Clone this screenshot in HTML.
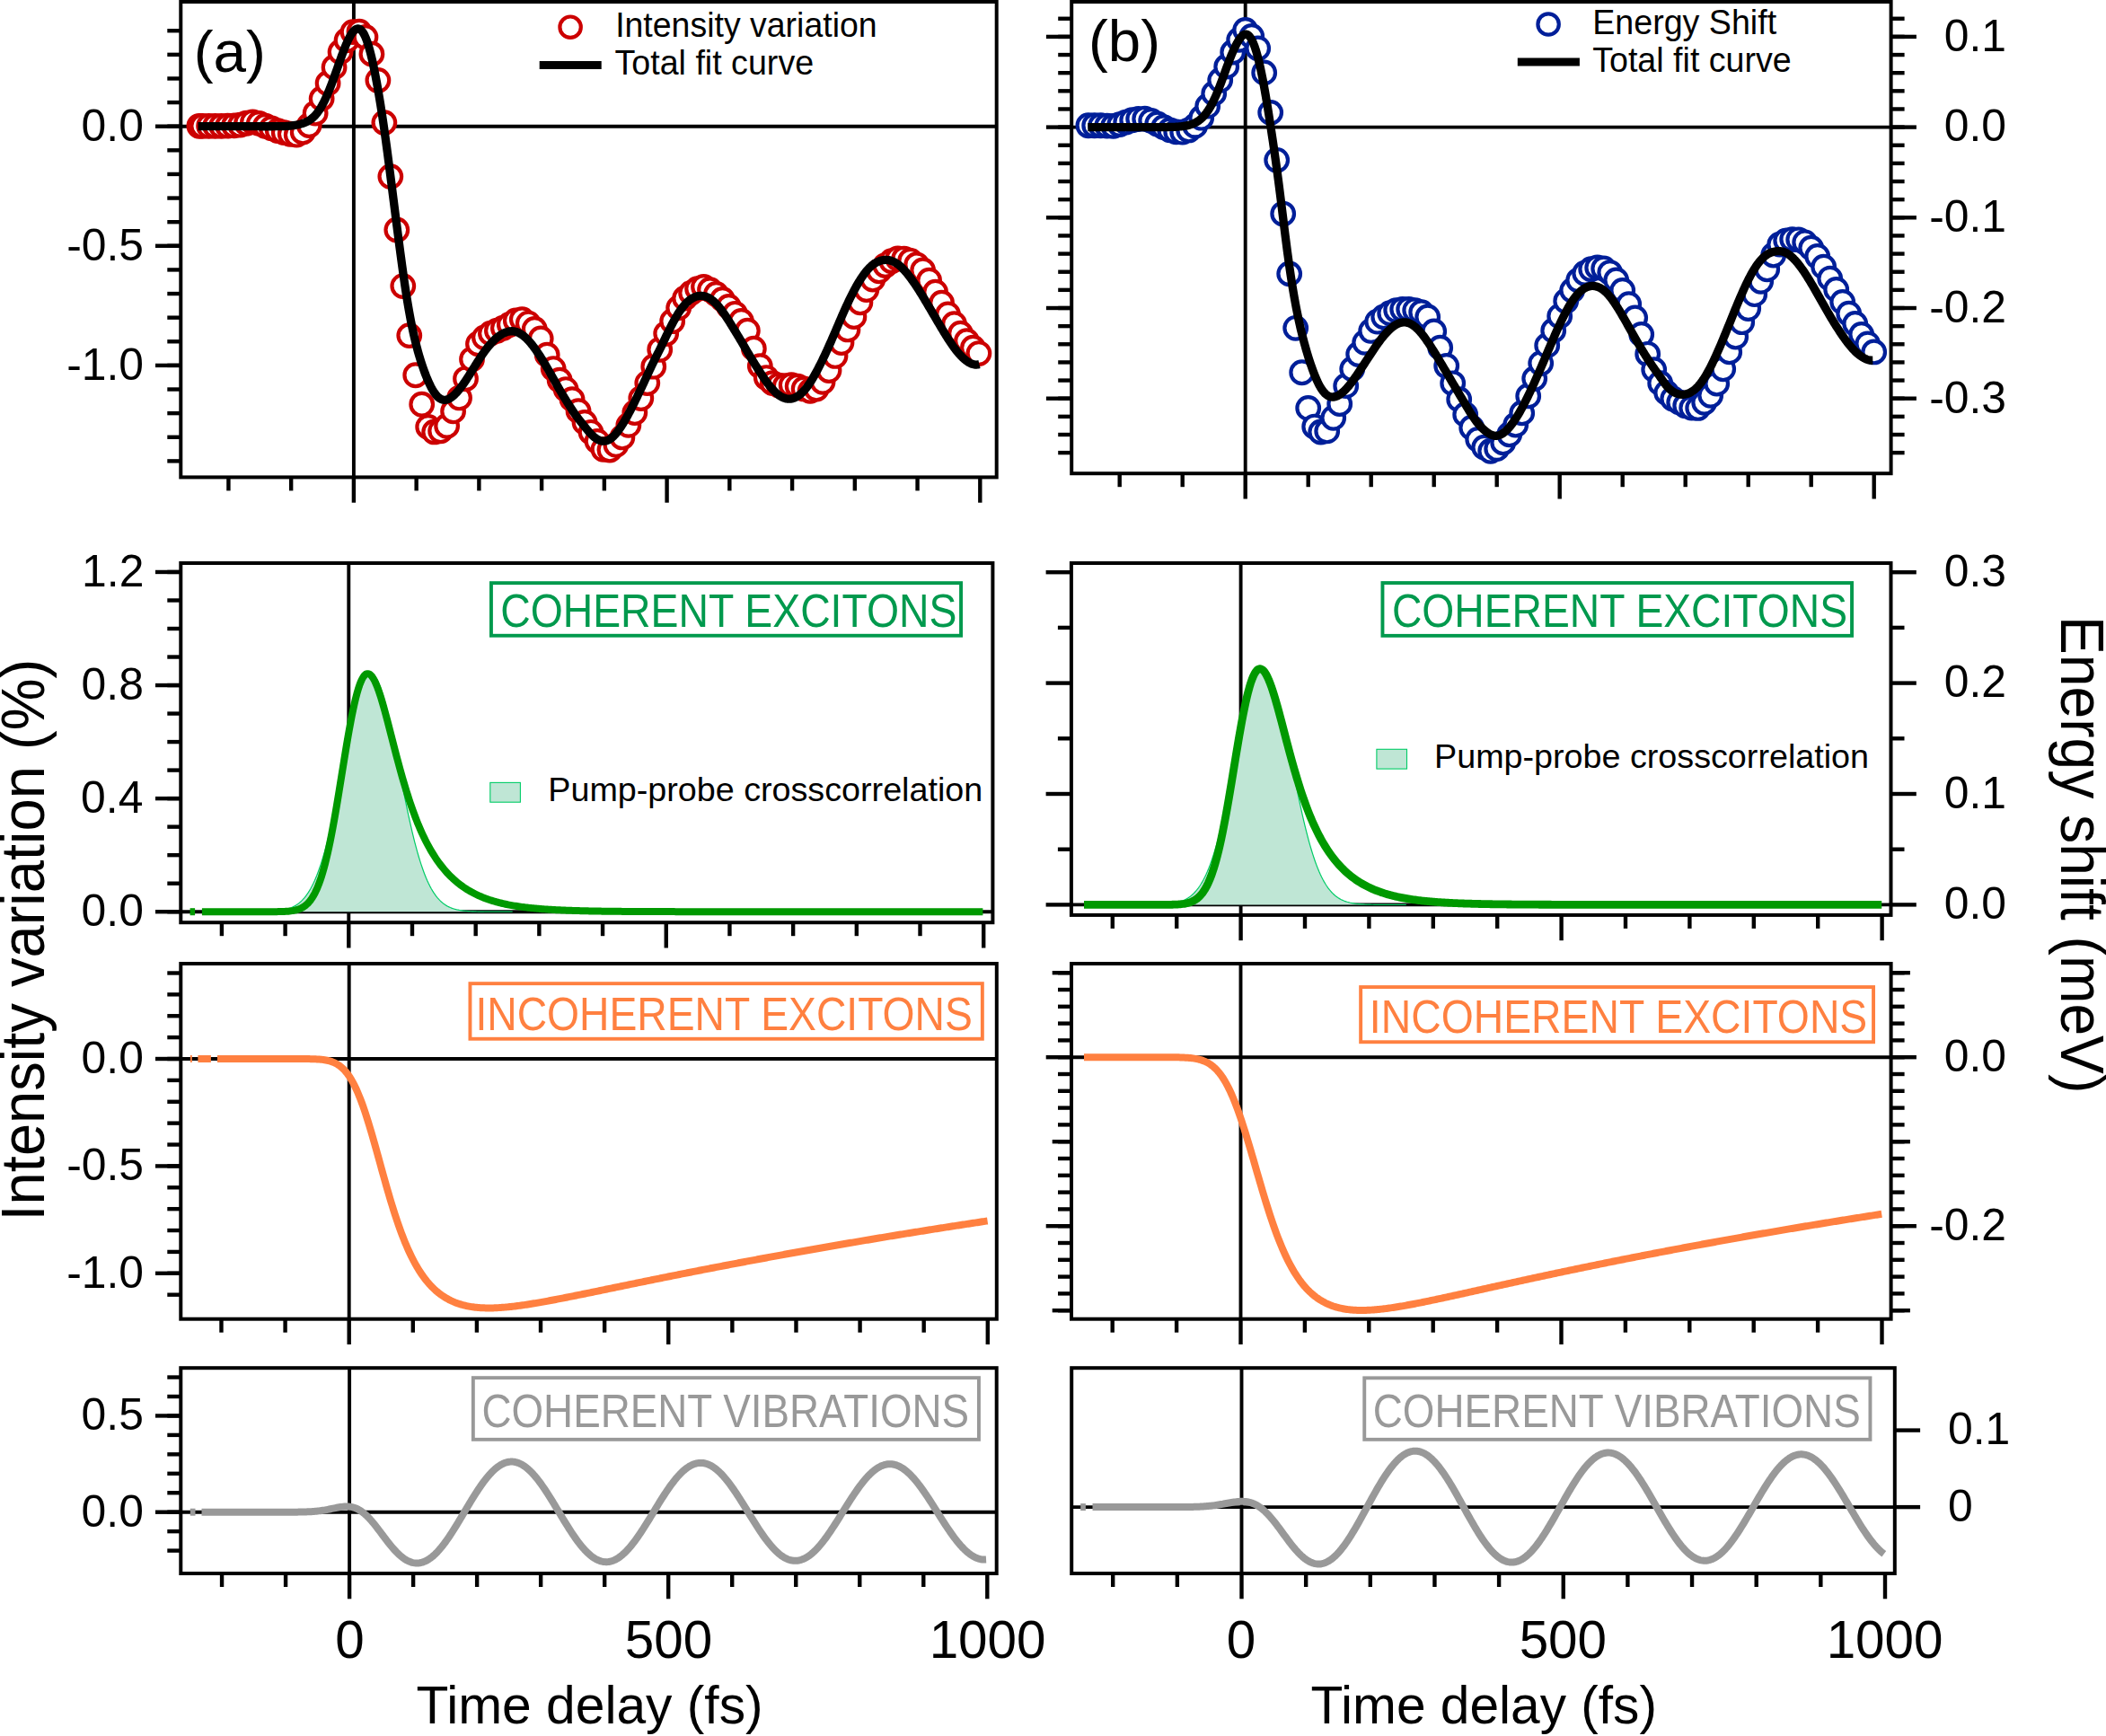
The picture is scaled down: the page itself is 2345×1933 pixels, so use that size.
<!DOCTYPE html>
<html><head><meta charset="utf-8"><title>Figure</title><style>html,body{margin:0;padding:0;background:#fff}svg{display:block}</style></head><body>
<svg xmlns="http://www.w3.org/2000/svg" width="2345" height="1933" viewBox="0 0 2345 1933">
<rect width="2345" height="1933" fill="#fff"/>
<line x1="393.90" y1="2.00" x2="393.90" y2="531.40" stroke="#000" stroke-width="3.9" stroke-linecap="butt"/>
<line x1="201.30" y1="140.70" x2="1109.70" y2="140.70" stroke="#000" stroke-width="3.9" stroke-linecap="butt"/>
<circle cx="221.90" cy="140.30" r="12.3" fill="#fff" stroke="#cc0000" stroke-width="4.2"/>
<circle cx="225.62" cy="140.30" r="12.3" fill="#fff" stroke="#cc0000" stroke-width="4.2"/>
<circle cx="232.60" cy="140.30" r="12.3" fill="#fff" stroke="#cc0000" stroke-width="4.2"/>
<circle cx="239.57" cy="140.30" r="12.3" fill="#fff" stroke="#cc0000" stroke-width="4.2"/>
<circle cx="246.55" cy="140.30" r="12.3" fill="#fff" stroke="#cc0000" stroke-width="4.2"/>
<circle cx="253.52" cy="140.17" r="12.3" fill="#fff" stroke="#cc0000" stroke-width="4.2"/>
<circle cx="260.49" cy="139.79" r="12.3" fill="#fff" stroke="#cc0000" stroke-width="4.2"/>
<circle cx="267.47" cy="139.19" r="12.3" fill="#fff" stroke="#cc0000" stroke-width="4.2"/>
<circle cx="274.44" cy="137.27" r="12.3" fill="#fff" stroke="#cc0000" stroke-width="4.2"/>
<circle cx="281.42" cy="135.93" r="12.3" fill="#fff" stroke="#cc0000" stroke-width="4.2"/>
<circle cx="288.39" cy="137.44" r="12.3" fill="#fff" stroke="#cc0000" stroke-width="4.2"/>
<circle cx="295.36" cy="140.25" r="12.3" fill="#fff" stroke="#cc0000" stroke-width="4.2"/>
<circle cx="302.34" cy="142.87" r="12.3" fill="#fff" stroke="#cc0000" stroke-width="4.2"/>
<circle cx="309.31" cy="145.58" r="12.3" fill="#fff" stroke="#cc0000" stroke-width="4.2"/>
<circle cx="316.29" cy="147.68" r="12.3" fill="#fff" stroke="#cc0000" stroke-width="4.2"/>
<circle cx="323.26" cy="149.25" r="12.3" fill="#fff" stroke="#cc0000" stroke-width="4.2"/>
<circle cx="330.23" cy="150.18" r="12.3" fill="#fff" stroke="#cc0000" stroke-width="4.2"/>
<circle cx="337.21" cy="147.13" r="12.3" fill="#fff" stroke="#cc0000" stroke-width="4.2"/>
<circle cx="344.18" cy="139.57" r="12.3" fill="#fff" stroke="#cc0000" stroke-width="4.2"/>
<circle cx="351.16" cy="126.05" r="12.3" fill="#fff" stroke="#cc0000" stroke-width="4.2"/>
<circle cx="358.13" cy="109.84" r="12.3" fill="#fff" stroke="#cc0000" stroke-width="4.2"/>
<circle cx="365.10" cy="92.73" r="12.3" fill="#fff" stroke="#cc0000" stroke-width="4.2"/>
<circle cx="372.08" cy="74.88" r="12.3" fill="#fff" stroke="#cc0000" stroke-width="4.2"/>
<circle cx="379.05" cy="57.87" r="12.3" fill="#fff" stroke="#cc0000" stroke-width="4.2"/>
<circle cx="386.03" cy="44.90" r="12.3" fill="#fff" stroke="#cc0000" stroke-width="4.2"/>
<circle cx="393.00" cy="35.64" r="12.3" fill="#fff" stroke="#cc0000" stroke-width="4.2"/>
<circle cx="399.97" cy="35.12" r="12.3" fill="#fff" stroke="#cc0000" stroke-width="4.2"/>
<circle cx="406.95" cy="41.34" r="12.3" fill="#fff" stroke="#cc0000" stroke-width="4.2"/>
<circle cx="413.92" cy="60.15" r="12.3" fill="#fff" stroke="#cc0000" stroke-width="4.2"/>
<circle cx="420.90" cy="89.46" r="12.3" fill="#fff" stroke="#cc0000" stroke-width="4.2"/>
<circle cx="427.87" cy="136.59" r="12.3" fill="#fff" stroke="#cc0000" stroke-width="4.2"/>
<circle cx="434.84" cy="196.60" r="12.3" fill="#fff" stroke="#cc0000" stroke-width="4.2"/>
<circle cx="441.82" cy="255.97" r="12.3" fill="#fff" stroke="#cc0000" stroke-width="4.2"/>
<circle cx="448.79" cy="318.56" r="12.3" fill="#fff" stroke="#cc0000" stroke-width="4.2"/>
<circle cx="455.77" cy="373.61" r="12.3" fill="#fff" stroke="#cc0000" stroke-width="4.2"/>
<circle cx="462.74" cy="417.74" r="12.3" fill="#fff" stroke="#cc0000" stroke-width="4.2"/>
<circle cx="469.71" cy="450.23" r="12.3" fill="#fff" stroke="#cc0000" stroke-width="4.2"/>
<circle cx="476.69" cy="475.40" r="12.3" fill="#fff" stroke="#cc0000" stroke-width="4.2"/>
<circle cx="483.66" cy="480.97" r="12.3" fill="#fff" stroke="#cc0000" stroke-width="4.2"/>
<circle cx="490.64" cy="479.83" r="12.3" fill="#fff" stroke="#cc0000" stroke-width="4.2"/>
<circle cx="497.61" cy="474.39" r="12.3" fill="#fff" stroke="#cc0000" stroke-width="4.2"/>
<circle cx="504.58" cy="457.91" r="12.3" fill="#fff" stroke="#cc0000" stroke-width="4.2"/>
<circle cx="511.56" cy="442.95" r="12.3" fill="#fff" stroke="#cc0000" stroke-width="4.2"/>
<circle cx="518.53" cy="421.78" r="12.3" fill="#fff" stroke="#cc0000" stroke-width="4.2"/>
<circle cx="525.51" cy="400.05" r="12.3" fill="#fff" stroke="#cc0000" stroke-width="4.2"/>
<circle cx="532.48" cy="382.91" r="12.3" fill="#fff" stroke="#cc0000" stroke-width="4.2"/>
<circle cx="539.45" cy="375.83" r="12.3" fill="#fff" stroke="#cc0000" stroke-width="4.2"/>
<circle cx="546.43" cy="371.15" r="12.3" fill="#fff" stroke="#cc0000" stroke-width="4.2"/>
<circle cx="553.40" cy="368.25" r="12.3" fill="#fff" stroke="#cc0000" stroke-width="4.2"/>
<circle cx="560.38" cy="365.20" r="12.3" fill="#fff" stroke="#cc0000" stroke-width="4.2"/>
<circle cx="567.35" cy="361.47" r="12.3" fill="#fff" stroke="#cc0000" stroke-width="4.2"/>
<circle cx="574.32" cy="356.91" r="12.3" fill="#fff" stroke="#cc0000" stroke-width="4.2"/>
<circle cx="581.30" cy="355.59" r="12.3" fill="#fff" stroke="#cc0000" stroke-width="4.2"/>
<circle cx="588.27" cy="360.06" r="12.3" fill="#fff" stroke="#cc0000" stroke-width="4.2"/>
<circle cx="595.25" cy="366.43" r="12.3" fill="#fff" stroke="#cc0000" stroke-width="4.2"/>
<circle cx="602.22" cy="376.95" r="12.3" fill="#fff" stroke="#cc0000" stroke-width="4.2"/>
<circle cx="609.19" cy="395.11" r="12.3" fill="#fff" stroke="#cc0000" stroke-width="4.2"/>
<circle cx="616.17" cy="410.56" r="12.3" fill="#fff" stroke="#cc0000" stroke-width="4.2"/>
<circle cx="623.14" cy="423.26" r="12.3" fill="#fff" stroke="#cc0000" stroke-width="4.2"/>
<circle cx="630.12" cy="433.56" r="12.3" fill="#fff" stroke="#cc0000" stroke-width="4.2"/>
<circle cx="637.09" cy="444.67" r="12.3" fill="#fff" stroke="#cc0000" stroke-width="4.2"/>
<circle cx="644.06" cy="457.69" r="12.3" fill="#fff" stroke="#cc0000" stroke-width="4.2"/>
<circle cx="651.04" cy="470.44" r="12.3" fill="#fff" stroke="#cc0000" stroke-width="4.2"/>
<circle cx="658.01" cy="481.32" r="12.3" fill="#fff" stroke="#cc0000" stroke-width="4.2"/>
<circle cx="664.99" cy="491.33" r="12.3" fill="#fff" stroke="#cc0000" stroke-width="4.2"/>
<circle cx="671.96" cy="500.34" r="12.3" fill="#fff" stroke="#cc0000" stroke-width="4.2"/>
<circle cx="678.93" cy="501.07" r="12.3" fill="#fff" stroke="#cc0000" stroke-width="4.2"/>
<circle cx="685.91" cy="495.43" r="12.3" fill="#fff" stroke="#cc0000" stroke-width="4.2"/>
<circle cx="692.88" cy="486.96" r="12.3" fill="#fff" stroke="#cc0000" stroke-width="4.2"/>
<circle cx="699.86" cy="473.42" r="12.3" fill="#fff" stroke="#cc0000" stroke-width="4.2"/>
<circle cx="706.83" cy="459.48" r="12.3" fill="#fff" stroke="#cc0000" stroke-width="4.2"/>
<circle cx="713.80" cy="443.55" r="12.3" fill="#fff" stroke="#cc0000" stroke-width="4.2"/>
<circle cx="720.78" cy="426.56" r="12.3" fill="#fff" stroke="#cc0000" stroke-width="4.2"/>
<circle cx="727.75" cy="408.21" r="12.3" fill="#fff" stroke="#cc0000" stroke-width="4.2"/>
<circle cx="734.73" cy="389.30" r="12.3" fill="#fff" stroke="#cc0000" stroke-width="4.2"/>
<circle cx="741.70" cy="371.55" r="12.3" fill="#fff" stroke="#cc0000" stroke-width="4.2"/>
<circle cx="748.67" cy="357.72" r="12.3" fill="#fff" stroke="#cc0000" stroke-width="4.2"/>
<circle cx="755.65" cy="342.84" r="12.3" fill="#fff" stroke="#cc0000" stroke-width="4.2"/>
<circle cx="762.62" cy="332.15" r="12.3" fill="#fff" stroke="#cc0000" stroke-width="4.2"/>
<circle cx="769.60" cy="326.15" r="12.3" fill="#fff" stroke="#cc0000" stroke-width="4.2"/>
<circle cx="776.57" cy="321.62" r="12.3" fill="#fff" stroke="#cc0000" stroke-width="4.2"/>
<circle cx="783.54" cy="319.40" r="12.3" fill="#fff" stroke="#cc0000" stroke-width="4.2"/>
<circle cx="790.52" cy="322.64" r="12.3" fill="#fff" stroke="#cc0000" stroke-width="4.2"/>
<circle cx="797.49" cy="327.50" r="12.3" fill="#fff" stroke="#cc0000" stroke-width="4.2"/>
<circle cx="804.47" cy="333.41" r="12.3" fill="#fff" stroke="#cc0000" stroke-width="4.2"/>
<circle cx="811.44" cy="341.34" r="12.3" fill="#fff" stroke="#cc0000" stroke-width="4.2"/>
<circle cx="818.41" cy="349.30" r="12.3" fill="#fff" stroke="#cc0000" stroke-width="4.2"/>
<circle cx="825.39" cy="357.36" r="12.3" fill="#fff" stroke="#cc0000" stroke-width="4.2"/>
<circle cx="832.36" cy="368.14" r="12.3" fill="#fff" stroke="#cc0000" stroke-width="4.2"/>
<circle cx="839.34" cy="388.16" r="12.3" fill="#fff" stroke="#cc0000" stroke-width="4.2"/>
<circle cx="846.31" cy="407.58" r="12.3" fill="#fff" stroke="#cc0000" stroke-width="4.2"/>
<circle cx="853.28" cy="420.54" r="12.3" fill="#fff" stroke="#cc0000" stroke-width="4.2"/>
<circle cx="860.26" cy="426.64" r="12.3" fill="#fff" stroke="#cc0000" stroke-width="4.2"/>
<circle cx="867.23" cy="429.03" r="12.3" fill="#fff" stroke="#cc0000" stroke-width="4.2"/>
<circle cx="874.21" cy="429.59" r="12.3" fill="#fff" stroke="#cc0000" stroke-width="4.2"/>
<circle cx="881.18" cy="428.77" r="12.3" fill="#fff" stroke="#cc0000" stroke-width="4.2"/>
<circle cx="888.15" cy="430.12" r="12.3" fill="#fff" stroke="#cc0000" stroke-width="4.2"/>
<circle cx="895.13" cy="432.95" r="12.3" fill="#fff" stroke="#cc0000" stroke-width="4.2"/>
<circle cx="902.10" cy="435.35" r="12.3" fill="#fff" stroke="#cc0000" stroke-width="4.2"/>
<circle cx="909.08" cy="433.06" r="12.3" fill="#fff" stroke="#cc0000" stroke-width="4.2"/>
<circle cx="916.05" cy="425.35" r="12.3" fill="#fff" stroke="#cc0000" stroke-width="4.2"/>
<circle cx="923.02" cy="412.49" r="12.3" fill="#fff" stroke="#cc0000" stroke-width="4.2"/>
<circle cx="930.00" cy="396.46" r="12.3" fill="#fff" stroke="#cc0000" stroke-width="4.2"/>
<circle cx="936.97" cy="381.55" r="12.3" fill="#fff" stroke="#cc0000" stroke-width="4.2"/>
<circle cx="943.95" cy="366.96" r="12.3" fill="#fff" stroke="#cc0000" stroke-width="4.2"/>
<circle cx="950.92" cy="352.65" r="12.3" fill="#fff" stroke="#cc0000" stroke-width="4.2"/>
<circle cx="957.89" cy="336.73" r="12.3" fill="#fff" stroke="#cc0000" stroke-width="4.2"/>
<circle cx="964.87" cy="322.57" r="12.3" fill="#fff" stroke="#cc0000" stroke-width="4.2"/>
<circle cx="971.84" cy="311.00" r="12.3" fill="#fff" stroke="#cc0000" stroke-width="4.2"/>
<circle cx="978.82" cy="301.90" r="12.3" fill="#fff" stroke="#cc0000" stroke-width="4.2"/>
<circle cx="985.79" cy="295.55" r="12.3" fill="#fff" stroke="#cc0000" stroke-width="4.2"/>
<circle cx="992.76" cy="290.70" r="12.3" fill="#fff" stroke="#cc0000" stroke-width="4.2"/>
<circle cx="999.74" cy="288.02" r="12.3" fill="#fff" stroke="#cc0000" stroke-width="4.2"/>
<circle cx="1006.71" cy="288.04" r="12.3" fill="#fff" stroke="#cc0000" stroke-width="4.2"/>
<circle cx="1013.69" cy="290.26" r="12.3" fill="#fff" stroke="#cc0000" stroke-width="4.2"/>
<circle cx="1020.66" cy="294.80" r="12.3" fill="#fff" stroke="#cc0000" stroke-width="4.2"/>
<circle cx="1027.63" cy="300.95" r="12.3" fill="#fff" stroke="#cc0000" stroke-width="4.2"/>
<circle cx="1034.61" cy="312.24" r="12.3" fill="#fff" stroke="#cc0000" stroke-width="4.2"/>
<circle cx="1041.58" cy="325.17" r="12.3" fill="#fff" stroke="#cc0000" stroke-width="4.2"/>
<circle cx="1048.56" cy="337.26" r="12.3" fill="#fff" stroke="#cc0000" stroke-width="4.2"/>
<circle cx="1055.53" cy="349.86" r="12.3" fill="#fff" stroke="#cc0000" stroke-width="4.2"/>
<circle cx="1062.50" cy="360.76" r="12.3" fill="#fff" stroke="#cc0000" stroke-width="4.2"/>
<circle cx="1069.48" cy="371.14" r="12.3" fill="#fff" stroke="#cc0000" stroke-width="4.2"/>
<circle cx="1076.45" cy="379.62" r="12.3" fill="#fff" stroke="#cc0000" stroke-width="4.2"/>
<circle cx="1083.43" cy="387.17" r="12.3" fill="#fff" stroke="#cc0000" stroke-width="4.2"/>
<circle cx="1089.90" cy="393.55" r="12.3" fill="#fff" stroke="#cc0000" stroke-width="4.2"/>
<path d="M220.50,140.70 L221.50,140.70 L222.50,140.70 L223.50,140.70 L224.50,140.70 L225.50,140.70 L226.50,140.70 L227.50,140.70 L228.50,140.70 L229.50,140.70 L230.50,140.70 L231.50,140.70 L232.50,140.70 L233.50,140.70 L234.50,140.70 L235.50,140.70 L236.50,140.70 L237.50,140.70 L238.50,140.70 L239.50,140.70 L240.50,140.70 L241.50,140.70 L242.50,140.70 L243.50,140.70 L244.50,140.70 L245.50,140.70 L246.50,140.70 L247.50,140.70 L248.50,140.70 L249.50,140.70 L250.50,140.70 L251.50,140.70 L252.50,140.70 L253.50,140.70 L254.50,140.70 L255.50,140.70 L256.50,140.70 L257.50,140.70 L258.50,140.70 L259.50,140.70 L260.50,140.70 L261.50,140.70 L262.50,140.70 L263.50,140.70 L264.50,140.70 L265.50,140.70 L266.50,140.70 L267.50,140.70 L268.50,140.70 L269.50,140.70 L270.50,140.70 L271.50,140.70 L272.50,140.70 L273.50,140.70 L274.50,140.70 L275.50,140.70 L276.50,140.70 L277.50,140.70 L278.50,140.70 L279.50,140.70 L280.50,140.70 L281.50,140.70 L282.50,140.70 L283.50,140.70 L284.50,140.70 L285.50,140.70 L286.50,140.71 L287.50,140.71 L288.50,140.72 L289.50,140.73 L290.50,140.73 L291.50,140.74 L292.50,140.75 L293.50,140.75 L294.50,140.75 L295.50,140.75 L296.50,140.75 L297.50,140.75 L298.50,140.75 L299.50,140.74 L300.50,140.74 L301.50,140.74 L302.50,140.73 L303.50,140.73 L304.50,140.72 L305.50,140.72 L306.50,140.72 L307.50,140.72 L308.50,140.72 L309.50,140.72 L310.50,140.72 L311.50,140.71 L312.50,140.70 L313.50,140.68 L314.50,140.65 L315.50,140.62 L316.50,140.58 L317.50,140.53 L318.50,140.48 L319.50,140.41 L320.50,140.34 L321.50,140.26 L322.50,140.17 L323.50,140.07 L324.50,139.96 L325.50,139.83 L326.50,139.70 L327.50,139.55 L328.50,139.40 L329.50,139.23 L330.50,139.04 L331.50,138.84 L332.50,138.63 L333.50,138.39 L334.50,138.14 L335.50,137.86 L336.50,137.56 L337.50,137.23 L338.50,136.87 L339.50,136.48 L340.50,136.05 L341.50,135.58 L342.50,135.07 L343.50,134.51 L344.50,133.91 L345.50,133.24 L346.50,132.52 L347.50,131.73 L348.50,130.87 L349.50,129.93 L350.50,128.92 L351.50,127.82 L352.50,126.63 L353.50,125.35 L354.50,123.99 L355.50,122.53 L356.50,120.97 L357.50,119.33 L358.50,117.59 L359.50,115.75 L360.50,113.83 L361.50,111.82 L362.50,109.72 L363.50,107.54 L364.50,105.27 L365.50,102.93 L366.50,100.51 L367.50,98.02 L368.50,95.47 L369.50,92.85 L370.50,90.18 L371.50,87.46 L372.50,84.70 L373.50,81.91 L374.50,79.09 L375.50,76.25 L376.50,73.41 L377.50,70.58 L378.50,67.76 L379.50,64.96 L380.50,62.20 L381.50,59.49 L382.50,56.83 L383.50,54.25 L384.50,51.74 L385.50,49.33 L386.50,47.03 L387.50,44.84 L388.50,42.78 L389.50,40.86 L390.50,39.09 L391.50,37.49 L392.50,36.07 L393.50,34.84 L394.50,33.82 L395.50,33.00 L396.50,32.40 L397.50,32.03 L398.50,31.90 L399.50,32.02 L400.50,32.39 L401.50,33.03 L402.50,33.94 L403.50,35.13 L404.50,36.61 L405.50,38.39 L406.50,40.45 L407.50,42.81 L408.50,45.47 L409.50,48.41 L410.50,51.63 L411.50,55.13 L412.50,58.89 L413.50,62.92 L414.50,67.18 L415.50,71.69 L416.50,76.42 L417.50,81.38 L418.50,86.54 L419.50,91.90 L420.50,97.47 L421.50,103.23 L422.50,109.18 L423.50,115.32 L424.50,121.64 L425.50,128.15 L426.50,134.83 L427.50,141.69 L428.50,148.72 L429.50,155.91 L430.50,163.25 L431.50,170.73 L432.50,178.33 L433.50,186.02 L434.50,193.79 L435.50,201.61 L436.50,209.46 L437.50,217.31 L438.50,225.17 L439.50,233.00 L440.50,240.81 L441.50,248.58 L442.50,256.33 L443.50,264.02 L444.50,271.67 L445.50,279.24 L446.50,286.73 L447.50,294.10 L448.50,301.34 L449.50,308.42 L450.50,315.31 L451.50,322.00 L452.50,328.47 L453.50,334.71 L454.50,340.72 L455.50,346.48 L456.50,352.00 L457.50,357.27 L458.50,362.31 L459.50,367.12 L460.50,371.70 L461.50,376.07 L462.50,380.24 L463.50,384.22 L464.50,388.03 L465.50,391.68 L466.50,395.17 L467.50,398.54 L468.50,401.77 L469.50,404.89 L470.50,407.89 L471.50,410.78 L472.50,413.57 L473.50,416.25 L474.50,418.82 L475.50,421.29 L476.50,423.65 L477.50,425.90 L478.50,428.04 L479.50,430.07 L480.50,431.98 L481.50,433.78 L482.50,435.46 L483.50,437.01 L484.50,438.43 L485.50,439.72 L486.50,440.87 L487.50,441.89 L488.50,442.76 L489.50,443.51 L490.50,444.11 L491.50,444.59 L492.50,444.94 L493.50,445.17 L494.50,445.28 L495.50,445.28 L496.50,445.17 L497.50,444.96 L498.50,444.64 L499.50,444.23 L500.50,443.74 L501.50,443.15 L502.50,442.49 L503.50,441.74 L504.50,440.93 L505.50,440.04 L506.50,439.10 L507.50,438.09 L508.50,437.03 L509.50,435.91 L510.50,434.74 L511.50,433.52 L512.50,432.25 L513.50,430.94 L514.50,429.59 L515.50,428.20 L516.50,426.77 L517.50,425.31 L518.50,423.82 L519.50,422.31 L520.50,420.78 L521.50,419.23 L522.50,417.66 L523.50,416.08 L524.50,414.49 L525.50,412.89 L526.50,411.29 L527.50,409.69 L528.50,408.09 L529.50,406.49 L530.50,404.90 L531.50,403.32 L532.50,401.75 L533.50,400.20 L534.50,398.67 L535.50,397.16 L536.50,395.67 L537.50,394.22 L538.50,392.79 L539.50,391.40 L540.50,390.04 L541.50,388.71 L542.50,387.41 L543.50,386.16 L544.50,384.94 L545.50,383.75 L546.50,382.61 L547.50,381.51 L548.50,380.45 L549.50,379.43 L550.50,378.45 L551.50,377.53 L552.50,376.65 L553.50,375.81 L554.50,375.02 L555.50,374.28 L556.50,373.58 L557.50,372.92 L558.50,372.31 L559.50,371.74 L560.50,371.22 L561.50,370.74 L562.50,370.31 L563.50,369.93 L564.50,369.60 L565.50,369.31 L566.50,369.09 L567.50,368.91 L568.50,368.80 L569.50,368.75 L570.50,368.75 L571.50,368.82 L572.50,368.96 L573.50,369.16 L574.50,369.42 L575.50,369.75 L576.50,370.14 L577.50,370.60 L578.50,371.11 L579.50,371.68 L580.50,372.30 L581.50,372.98 L582.50,373.72 L583.50,374.51 L584.50,375.36 L585.50,376.25 L586.50,377.20 L587.50,378.21 L588.50,379.26 L589.50,380.37 L590.50,381.53 L591.50,382.73 L592.50,383.98 L593.50,385.27 L594.50,386.60 L595.50,387.97 L596.50,389.37 L597.50,390.81 L598.50,392.27 L599.50,393.77 L600.50,395.29 L601.50,396.84 L602.50,398.42 L603.50,400.02 L604.50,401.64 L605.50,403.28 L606.50,404.94 L607.50,406.61 L608.50,408.31 L609.50,410.01 L610.50,411.74 L611.50,413.47 L612.50,415.21 L613.50,416.96 L614.50,418.72 L615.50,420.48 L616.50,422.25 L617.50,424.02 L618.50,425.79 L619.50,427.56 L620.50,429.32 L621.50,431.07 L622.50,432.81 L623.50,434.54 L624.50,436.24 L625.50,437.93 L626.50,439.60 L627.50,441.25 L628.50,442.88 L629.50,444.49 L630.50,446.10 L631.50,447.69 L632.50,449.29 L633.50,450.87 L634.50,452.45 L635.50,454.01 L636.50,455.56 L637.50,457.08 L638.50,458.58 L639.50,460.05 L640.50,461.48 L641.50,462.87 L642.50,464.22 L643.50,465.54 L644.50,466.83 L645.50,468.10 L646.50,469.36 L647.50,470.61 L648.50,471.87 L649.50,473.13 L650.50,474.39 L651.50,475.65 L652.50,476.89 L653.50,478.12 L654.50,479.32 L655.50,480.49 L656.50,481.62 L657.50,482.71 L658.50,483.76 L659.50,484.74 L660.50,485.68 L661.50,486.55 L662.50,487.35 L663.50,488.09 L664.50,488.75 L665.50,489.34 L666.50,489.85 L667.50,490.27 L668.50,490.62 L669.50,490.89 L670.50,491.07 L671.50,491.17 L672.50,491.18 L673.50,491.10 L674.50,490.94 L675.50,490.69 L676.50,490.34 L677.50,489.91 L678.50,489.38 L679.50,488.76 L680.50,488.05 L681.50,487.25 L682.50,486.37 L683.50,485.40 L684.50,484.36 L685.50,483.24 L686.50,482.05 L687.50,480.79 L688.50,479.47 L689.50,478.09 L690.50,476.65 L691.50,475.15 L692.50,473.60 L693.50,472.00 L694.50,470.36 L695.50,468.67 L696.50,466.95 L697.50,465.18 L698.50,463.38 L699.50,461.54 L700.50,459.67 L701.50,457.77 L702.50,455.84 L703.50,453.89 L704.50,451.91 L705.50,449.90 L706.50,447.88 L707.50,445.83 L708.50,443.77 L709.50,441.70 L710.50,439.61 L711.50,437.51 L712.50,435.40 L713.50,433.29 L714.50,431.16 L715.50,429.03 L716.50,426.90 L717.50,424.76 L718.50,422.61 L719.50,420.46 L720.50,418.31 L721.50,416.15 L722.50,413.99 L723.50,411.84 L724.50,409.70 L725.50,407.58 L726.50,405.48 L727.50,403.41 L728.50,401.37 L729.50,399.37 L730.50,397.40 L731.50,395.43 L732.50,393.47 L733.50,391.50 L734.50,389.49 L735.50,387.46 L736.50,385.39 L737.50,383.30 L738.50,381.19 L739.50,379.08 L740.50,376.96 L741.50,374.86 L742.50,372.76 L743.50,370.69 L744.50,368.64 L745.50,366.62 L746.50,364.63 L747.50,362.68 L748.50,360.76 L749.50,358.88 L750.50,357.05 L751.50,355.26 L752.50,353.52 L753.50,351.83 L754.50,350.19 L755.50,348.60 L756.50,347.07 L757.50,345.60 L758.50,344.19 L759.50,342.84 L760.50,341.56 L761.50,340.34 L762.50,339.19 L763.50,338.10 L764.50,337.08 L765.50,336.13 L766.50,335.24 L767.50,334.42 L768.50,333.66 L769.50,332.97 L770.50,332.34 L771.50,331.78 L772.50,331.27 L773.50,330.83 L774.50,330.45 L775.50,330.12 L776.50,329.86 L777.50,329.65 L778.50,329.51 L779.50,329.42 L780.50,329.39 L781.50,329.42 L782.50,329.51 L783.50,329.66 L784.50,329.87 L785.50,330.14 L786.50,330.48 L787.50,330.88 L788.50,331.34 L789.50,331.87 L790.50,332.45 L791.50,333.11 L792.50,333.82 L793.50,334.60 L794.50,335.43 L795.50,336.33 L796.50,337.28 L797.50,338.29 L798.50,339.36 L799.50,340.47 L800.50,341.64 L801.50,342.86 L802.50,344.13 L803.50,345.44 L804.50,346.79 L805.50,348.19 L806.50,349.63 L807.50,351.10 L808.50,352.60 L809.50,354.13 L810.50,355.69 L811.50,357.27 L812.50,358.87 L813.50,360.49 L814.50,362.11 L815.50,363.74 L816.50,365.37 L817.50,367.01 L818.50,368.64 L819.50,370.27 L820.50,371.91 L821.50,373.55 L822.50,375.20 L823.50,376.86 L824.50,378.54 L825.50,380.23 L826.50,381.93 L827.50,383.64 L828.50,385.36 L829.50,387.08 L830.50,388.81 L831.50,390.53 L832.50,392.25 L833.50,393.95 L834.50,395.64 L835.50,397.32 L836.50,398.98 L837.50,400.61 L838.50,402.23 L839.50,403.83 L840.50,405.42 L841.50,407.00 L842.50,408.56 L843.50,410.12 L844.50,411.68 L845.50,413.24 L846.50,414.79 L847.50,416.33 L848.50,417.85 L849.50,419.36 L850.50,420.84 L851.50,422.30 L852.50,423.72 L853.50,425.11 L854.50,426.47 L855.50,427.79 L856.50,429.06 L857.50,430.30 L858.50,431.50 L859.50,432.66 L860.50,433.77 L861.50,434.83 L862.50,435.85 L863.50,436.82 L864.50,437.74 L865.50,438.60 L866.50,439.41 L867.50,440.16 L868.50,440.85 L869.50,441.48 L870.50,442.04 L871.50,442.53 L872.50,442.96 L873.50,443.33 L874.50,443.62 L875.50,443.85 L876.50,444.02 L877.50,444.12 L878.50,444.15 L879.50,444.12 L880.50,444.03 L881.50,443.88 L882.50,443.66 L883.50,443.38 L884.50,443.03 L885.50,442.61 L886.50,442.13 L887.50,441.58 L888.50,440.96 L889.50,440.28 L890.50,439.53 L891.50,438.71 L892.50,437.82 L893.50,436.86 L894.50,435.84 L895.50,434.75 L896.50,433.59 L897.50,432.36 L898.50,431.08 L899.50,429.72 L900.50,428.31 L901.50,426.83 L902.50,425.30 L903.50,423.71 L904.50,422.07 L905.50,420.38 L906.50,418.65 L907.50,416.87 L908.50,415.06 L909.50,413.21 L910.50,411.32 L911.50,409.41 L912.50,407.46 L913.50,405.48 L914.50,403.47 L915.50,401.44 L916.50,399.37 L917.50,397.29 L918.50,395.17 L919.50,393.03 L920.50,390.87 L921.50,388.69 L922.50,386.48 L923.50,384.26 L924.50,382.02 L925.50,379.76 L926.50,377.49 L927.50,375.20 L928.50,372.90 L929.50,370.59 L930.50,368.27 L931.50,365.94 L932.50,363.60 L933.50,361.27 L934.50,358.93 L935.50,356.59 L936.50,354.27 L937.50,351.96 L938.50,349.66 L939.50,347.40 L940.50,345.15 L941.50,342.94 L942.50,340.75 L943.50,338.59 L944.50,336.47 L945.50,334.37 L946.50,332.31 L947.50,330.28 L948.50,328.29 L949.50,326.33 L950.50,324.40 L951.50,322.52 L952.50,320.68 L953.50,318.88 L954.50,317.12 L955.50,315.41 L956.50,313.74 L957.50,312.13 L958.50,310.55 L959.50,309.03 L960.50,307.56 L961.50,306.14 L962.50,304.77 L963.50,303.46 L964.50,302.21 L965.50,301.01 L966.50,299.88 L967.50,298.81 L968.50,297.80 L969.50,296.85 L970.50,295.96 L971.50,295.14 L972.50,294.37 L973.50,293.67 L974.50,293.02 L975.50,292.43 L976.50,291.90 L977.50,291.42 L978.50,290.99 L979.50,290.61 L980.50,290.29 L981.50,290.02 L982.50,289.79 L983.50,289.62 L984.50,289.50 L985.50,289.43 L986.50,289.41 L987.50,289.45 L988.50,289.53 L989.50,289.67 L990.50,289.87 L991.50,290.11 L992.50,290.42 L993.50,290.77 L994.50,291.19 L995.50,291.65 L996.50,292.18 L997.50,292.76 L998.50,293.39 L999.50,294.09 L1000.50,294.83 L1001.50,295.64 L1002.50,296.49 L1003.50,297.40 L1004.50,298.36 L1005.50,299.37 L1006.50,300.42 L1007.50,301.52 L1008.50,302.66 L1009.50,303.84 L1010.50,305.06 L1011.50,306.31 L1012.50,307.60 L1013.50,308.92 L1014.50,310.27 L1015.50,311.64 L1016.50,313.05 L1017.50,314.48 L1018.50,315.94 L1019.50,317.42 L1020.50,318.92 L1021.50,320.45 L1022.50,322.00 L1023.50,323.57 L1024.50,325.16 L1025.50,326.77 L1026.50,328.39 L1027.50,330.03 L1028.50,331.69 L1029.50,333.35 L1030.50,335.02 L1031.50,336.71 L1032.50,338.39 L1033.50,340.08 L1034.50,341.78 L1035.50,343.48 L1036.50,345.17 L1037.50,346.87 L1038.50,348.57 L1039.50,350.27 L1040.50,351.97 L1041.50,353.67 L1042.50,355.37 L1043.50,357.07 L1044.50,358.76 L1045.50,360.45 L1046.50,362.14 L1047.50,363.83 L1048.50,365.51 L1049.50,367.18 L1050.50,368.84 L1051.50,370.49 L1052.50,372.12 L1053.50,373.74 L1054.50,375.34 L1055.50,376.91 L1056.50,378.47 L1057.50,380.00 L1058.50,381.50 L1059.50,382.97 L1060.50,384.41 L1061.50,385.82 L1062.50,387.19 L1063.50,388.53 L1064.50,389.84 L1065.50,391.10 L1066.50,392.32 L1067.50,393.50 L1068.50,394.64 L1069.50,395.74 L1070.50,396.78 L1071.50,397.79 L1072.50,398.74 L1073.50,399.64 L1074.50,400.49 L1075.50,401.29 L1076.50,402.04 L1077.50,402.73 L1078.50,403.37 L1079.50,403.94 L1080.50,404.46 L1081.50,404.90 L1082.50,405.28 L1083.50,405.59 L1084.50,405.83 L1085.50,405.99 L1086.50,406.07 L1087.50,406.06 L1088.50,405.98 L1089.50,405.82 L1090.50,405.57" fill="none" stroke="#000" stroke-width="9.3" stroke-linecap="butt" stroke-linejoin="round" />
<rect x="201.30" y="2.00" width="908.40" height="529.40" fill="none" stroke="#000" stroke-width="4.0"/>
<line x1="254.42" y1="531.40" x2="254.42" y2="546.40" stroke="#000" stroke-width="4.4" stroke-linecap="butt"/>
<line x1="324.16" y1="531.40" x2="324.16" y2="546.40" stroke="#000" stroke-width="4.4" stroke-linecap="butt"/>
<line x1="393.90" y1="531.40" x2="393.90" y2="559.70" stroke="#000" stroke-width="4.4" stroke-linecap="butt"/>
<line x1="463.64" y1="531.40" x2="463.64" y2="546.40" stroke="#000" stroke-width="4.4" stroke-linecap="butt"/>
<line x1="533.38" y1="531.40" x2="533.38" y2="546.40" stroke="#000" stroke-width="4.4" stroke-linecap="butt"/>
<line x1="603.12" y1="531.40" x2="603.12" y2="546.40" stroke="#000" stroke-width="4.4" stroke-linecap="butt"/>
<line x1="672.86" y1="531.40" x2="672.86" y2="546.40" stroke="#000" stroke-width="4.4" stroke-linecap="butt"/>
<line x1="742.60" y1="531.40" x2="742.60" y2="559.70" stroke="#000" stroke-width="4.4" stroke-linecap="butt"/>
<line x1="812.34" y1="531.40" x2="812.34" y2="546.40" stroke="#000" stroke-width="4.4" stroke-linecap="butt"/>
<line x1="882.08" y1="531.40" x2="882.08" y2="546.40" stroke="#000" stroke-width="4.4" stroke-linecap="butt"/>
<line x1="951.82" y1="531.40" x2="951.82" y2="546.40" stroke="#000" stroke-width="4.4" stroke-linecap="butt"/>
<line x1="1021.56" y1="531.40" x2="1021.56" y2="546.40" stroke="#000" stroke-width="4.4" stroke-linecap="butt"/>
<line x1="1091.30" y1="531.40" x2="1091.30" y2="559.70" stroke="#000" stroke-width="4.4" stroke-linecap="butt"/>
<line x1="201.30" y1="513.38" x2="186.30" y2="513.38" stroke="#000" stroke-width="4.4" stroke-linecap="butt"/>
<line x1="201.30" y1="486.76" x2="186.30" y2="486.76" stroke="#000" stroke-width="4.4" stroke-linecap="butt"/>
<line x1="201.30" y1="460.14" x2="186.30" y2="460.14" stroke="#000" stroke-width="4.4" stroke-linecap="butt"/>
<line x1="201.30" y1="433.52" x2="186.30" y2="433.52" stroke="#000" stroke-width="4.4" stroke-linecap="butt"/>
<line x1="201.30" y1="406.90" x2="186.30" y2="406.90" stroke="#000" stroke-width="4.4" stroke-linecap="butt"/>
<line x1="201.30" y1="380.28" x2="186.30" y2="380.28" stroke="#000" stroke-width="4.4" stroke-linecap="butt"/>
<line x1="201.30" y1="353.66" x2="186.30" y2="353.66" stroke="#000" stroke-width="4.4" stroke-linecap="butt"/>
<line x1="201.30" y1="327.04" x2="186.30" y2="327.04" stroke="#000" stroke-width="4.4" stroke-linecap="butt"/>
<line x1="201.30" y1="300.42" x2="186.30" y2="300.42" stroke="#000" stroke-width="4.4" stroke-linecap="butt"/>
<line x1="201.30" y1="273.80" x2="186.30" y2="273.80" stroke="#000" stroke-width="4.4" stroke-linecap="butt"/>
<line x1="201.30" y1="247.18" x2="186.30" y2="247.18" stroke="#000" stroke-width="4.4" stroke-linecap="butt"/>
<line x1="201.30" y1="220.56" x2="186.30" y2="220.56" stroke="#000" stroke-width="4.4" stroke-linecap="butt"/>
<line x1="201.30" y1="193.94" x2="186.30" y2="193.94" stroke="#000" stroke-width="4.4" stroke-linecap="butt"/>
<line x1="201.30" y1="167.32" x2="186.30" y2="167.32" stroke="#000" stroke-width="4.4" stroke-linecap="butt"/>
<line x1="201.30" y1="140.70" x2="186.30" y2="140.70" stroke="#000" stroke-width="4.4" stroke-linecap="butt"/>
<line x1="201.30" y1="114.08" x2="186.30" y2="114.08" stroke="#000" stroke-width="4.4" stroke-linecap="butt"/>
<line x1="201.30" y1="87.46" x2="186.30" y2="87.46" stroke="#000" stroke-width="4.4" stroke-linecap="butt"/>
<line x1="201.30" y1="60.84" x2="186.30" y2="60.84" stroke="#000" stroke-width="4.4" stroke-linecap="butt"/>
<line x1="201.30" y1="34.22" x2="186.30" y2="34.22" stroke="#000" stroke-width="4.4" stroke-linecap="butt"/>
<line x1="201.30" y1="140.70" x2="173.00" y2="140.70" stroke="#000" stroke-width="4.4" stroke-linecap="butt"/>
<line x1="201.30" y1="273.80" x2="173.00" y2="273.80" stroke="#000" stroke-width="4.4" stroke-linecap="butt"/>
<line x1="201.30" y1="406.90" x2="173.00" y2="406.90" stroke="#000" stroke-width="4.4" stroke-linecap="butt"/>
<text transform="translate(90.62,156.50) scale(0.9830,1)" font-size="50.7" fill="#000" font-family="Liberation Sans, sans-serif">0.0</text>
<text transform="translate(74.17,289.60) scale(0.9830,1)" font-size="50.7" fill="#000" font-family="Liberation Sans, sans-serif">-0.5</text>
<text transform="translate(74.17,422.70) scale(0.9830,1)" font-size="50.7" fill="#000" font-family="Liberation Sans, sans-serif">-1.0</text>
<line x1="1386.70" y1="2.00" x2="1386.70" y2="527.20" stroke="#000" stroke-width="3.9" stroke-linecap="butt"/>
<line x1="1193.20" y1="141.60" x2="2105.60" y2="141.60" stroke="#000" stroke-width="3.9" stroke-linecap="butt"/>
<circle cx="1211.90" cy="139.73" r="12.3" fill="#fff" stroke="#001f99" stroke-width="4.2"/>
<circle cx="1218.70" cy="139.73" r="12.3" fill="#fff" stroke="#001f99" stroke-width="4.2"/>
<circle cx="1225.70" cy="139.73" r="12.3" fill="#fff" stroke="#001f99" stroke-width="4.2"/>
<circle cx="1232.70" cy="140.05" r="12.3" fill="#fff" stroke="#001f99" stroke-width="4.2"/>
<circle cx="1239.70" cy="140.28" r="12.3" fill="#fff" stroke="#001f99" stroke-width="4.2"/>
<circle cx="1246.70" cy="138.59" r="12.3" fill="#fff" stroke="#001f99" stroke-width="4.2"/>
<circle cx="1253.70" cy="136.04" r="12.3" fill="#fff" stroke="#001f99" stroke-width="4.2"/>
<circle cx="1260.70" cy="133.74" r="12.3" fill="#fff" stroke="#001f99" stroke-width="4.2"/>
<circle cx="1267.70" cy="132.50" r="12.3" fill="#fff" stroke="#001f99" stroke-width="4.2"/>
<circle cx="1274.70" cy="132.26" r="12.3" fill="#fff" stroke="#001f99" stroke-width="4.2"/>
<circle cx="1281.70" cy="134.40" r="12.3" fill="#fff" stroke="#001f99" stroke-width="4.2"/>
<circle cx="1288.70" cy="138.00" r="12.3" fill="#fff" stroke="#001f99" stroke-width="4.2"/>
<circle cx="1295.70" cy="141.64" r="12.3" fill="#fff" stroke="#001f99" stroke-width="4.2"/>
<circle cx="1302.70" cy="144.85" r="12.3" fill="#fff" stroke="#001f99" stroke-width="4.2"/>
<circle cx="1309.70" cy="146.82" r="12.3" fill="#fff" stroke="#001f99" stroke-width="4.2"/>
<circle cx="1316.70" cy="147.19" r="12.3" fill="#fff" stroke="#001f99" stroke-width="4.2"/>
<circle cx="1323.70" cy="144.95" r="12.3" fill="#fff" stroke="#001f99" stroke-width="4.2"/>
<circle cx="1330.70" cy="140.17" r="12.3" fill="#fff" stroke="#001f99" stroke-width="4.2"/>
<circle cx="1337.70" cy="131.21" r="12.3" fill="#fff" stroke="#001f99" stroke-width="4.2"/>
<circle cx="1344.70" cy="118.19" r="12.3" fill="#fff" stroke="#001f99" stroke-width="4.2"/>
<circle cx="1351.70" cy="104.13" r="12.3" fill="#fff" stroke="#001f99" stroke-width="4.2"/>
<circle cx="1358.70" cy="89.35" r="12.3" fill="#fff" stroke="#001f99" stroke-width="4.2"/>
<circle cx="1365.70" cy="74.16" r="12.3" fill="#fff" stroke="#001f99" stroke-width="4.2"/>
<circle cx="1372.70" cy="58.13" r="12.3" fill="#fff" stroke="#001f99" stroke-width="4.2"/>
<circle cx="1379.70" cy="44.40" r="12.3" fill="#fff" stroke="#001f99" stroke-width="4.2"/>
<circle cx="1386.70" cy="33.46" r="12.3" fill="#fff" stroke="#001f99" stroke-width="4.2"/>
<circle cx="1393.70" cy="40.36" r="12.3" fill="#fff" stroke="#001f99" stroke-width="4.2"/>
<circle cx="1400.70" cy="53.83" r="12.3" fill="#fff" stroke="#001f99" stroke-width="4.2"/>
<circle cx="1407.70" cy="80.94" r="12.3" fill="#fff" stroke="#001f99" stroke-width="4.2"/>
<circle cx="1414.70" cy="125.37" r="12.3" fill="#fff" stroke="#001f99" stroke-width="4.2"/>
<circle cx="1421.70" cy="178.31" r="12.3" fill="#fff" stroke="#001f99" stroke-width="4.2"/>
<circle cx="1428.70" cy="238.03" r="12.3" fill="#fff" stroke="#001f99" stroke-width="4.2"/>
<circle cx="1435.70" cy="304.84" r="12.3" fill="#fff" stroke="#001f99" stroke-width="4.2"/>
<circle cx="1442.70" cy="365.32" r="12.3" fill="#fff" stroke="#001f99" stroke-width="4.2"/>
<circle cx="1449.70" cy="414.73" r="12.3" fill="#fff" stroke="#001f99" stroke-width="4.2"/>
<circle cx="1456.70" cy="454.44" r="12.3" fill="#fff" stroke="#001f99" stroke-width="4.2"/>
<circle cx="1463.70" cy="475.03" r="12.3" fill="#fff" stroke="#001f99" stroke-width="4.2"/>
<circle cx="1470.70" cy="480.99" r="12.3" fill="#fff" stroke="#001f99" stroke-width="4.2"/>
<circle cx="1477.70" cy="479.94" r="12.3" fill="#fff" stroke="#001f99" stroke-width="4.2"/>
<circle cx="1484.70" cy="465.33" r="12.3" fill="#fff" stroke="#001f99" stroke-width="4.2"/>
<circle cx="1491.70" cy="449.65" r="12.3" fill="#fff" stroke="#001f99" stroke-width="4.2"/>
<circle cx="1498.70" cy="429.68" r="12.3" fill="#fff" stroke="#001f99" stroke-width="4.2"/>
<circle cx="1505.70" cy="410.84" r="12.3" fill="#fff" stroke="#001f99" stroke-width="4.2"/>
<circle cx="1512.70" cy="394.49" r="12.3" fill="#fff" stroke="#001f99" stroke-width="4.2"/>
<circle cx="1519.70" cy="381.33" r="12.3" fill="#fff" stroke="#001f99" stroke-width="4.2"/>
<circle cx="1526.70" cy="368.45" r="12.3" fill="#fff" stroke="#001f99" stroke-width="4.2"/>
<circle cx="1533.70" cy="358.19" r="12.3" fill="#fff" stroke="#001f99" stroke-width="4.2"/>
<circle cx="1540.70" cy="352.83" r="12.3" fill="#fff" stroke="#001f99" stroke-width="4.2"/>
<circle cx="1547.70" cy="348.68" r="12.3" fill="#fff" stroke="#001f99" stroke-width="4.2"/>
<circle cx="1554.70" cy="345.54" r="12.3" fill="#fff" stroke="#001f99" stroke-width="4.2"/>
<circle cx="1561.70" cy="344.49" r="12.3" fill="#fff" stroke="#001f99" stroke-width="4.2"/>
<circle cx="1568.70" cy="344.49" r="12.3" fill="#fff" stroke="#001f99" stroke-width="4.2"/>
<circle cx="1575.70" cy="345.56" r="12.3" fill="#fff" stroke="#001f99" stroke-width="4.2"/>
<circle cx="1582.70" cy="347.74" r="12.3" fill="#fff" stroke="#001f99" stroke-width="4.2"/>
<circle cx="1589.70" cy="352.98" r="12.3" fill="#fff" stroke="#001f99" stroke-width="4.2"/>
<circle cx="1596.70" cy="368.94" r="12.3" fill="#fff" stroke="#001f99" stroke-width="4.2"/>
<circle cx="1603.70" cy="387.18" r="12.3" fill="#fff" stroke="#001f99" stroke-width="4.2"/>
<circle cx="1610.70" cy="407.50" r="12.3" fill="#fff" stroke="#001f99" stroke-width="4.2"/>
<circle cx="1617.70" cy="426.79" r="12.3" fill="#fff" stroke="#001f99" stroke-width="4.2"/>
<circle cx="1624.70" cy="444.73" r="12.3" fill="#fff" stroke="#001f99" stroke-width="4.2"/>
<circle cx="1631.70" cy="461.63" r="12.3" fill="#fff" stroke="#001f99" stroke-width="4.2"/>
<circle cx="1638.70" cy="476.26" r="12.3" fill="#fff" stroke="#001f99" stroke-width="4.2"/>
<circle cx="1645.70" cy="489.37" r="12.3" fill="#fff" stroke="#001f99" stroke-width="4.2"/>
<circle cx="1652.70" cy="498.10" r="12.3" fill="#fff" stroke="#001f99" stroke-width="4.2"/>
<circle cx="1659.70" cy="502.23" r="12.3" fill="#fff" stroke="#001f99" stroke-width="4.2"/>
<circle cx="1666.70" cy="499.66" r="12.3" fill="#fff" stroke="#001f99" stroke-width="4.2"/>
<circle cx="1673.70" cy="492.89" r="12.3" fill="#fff" stroke="#001f99" stroke-width="4.2"/>
<circle cx="1680.70" cy="483.73" r="12.3" fill="#fff" stroke="#001f99" stroke-width="4.2"/>
<circle cx="1687.70" cy="473.03" r="12.3" fill="#fff" stroke="#001f99" stroke-width="4.2"/>
<circle cx="1694.70" cy="459.88" r="12.3" fill="#fff" stroke="#001f99" stroke-width="4.2"/>
<circle cx="1701.70" cy="440.95" r="12.3" fill="#fff" stroke="#001f99" stroke-width="4.2"/>
<circle cx="1708.70" cy="421.60" r="12.3" fill="#fff" stroke="#001f99" stroke-width="4.2"/>
<circle cx="1715.70" cy="404.58" r="12.3" fill="#fff" stroke="#001f99" stroke-width="4.2"/>
<circle cx="1722.70" cy="384.67" r="12.3" fill="#fff" stroke="#001f99" stroke-width="4.2"/>
<circle cx="1729.70" cy="368.15" r="12.3" fill="#fff" stroke="#001f99" stroke-width="4.2"/>
<circle cx="1736.70" cy="352.07" r="12.3" fill="#fff" stroke="#001f99" stroke-width="4.2"/>
<circle cx="1743.70" cy="335.23" r="12.3" fill="#fff" stroke="#001f99" stroke-width="4.2"/>
<circle cx="1750.70" cy="323.36" r="12.3" fill="#fff" stroke="#001f99" stroke-width="4.2"/>
<circle cx="1757.70" cy="312.04" r="12.3" fill="#fff" stroke="#001f99" stroke-width="4.2"/>
<circle cx="1764.70" cy="304.20" r="12.3" fill="#fff" stroke="#001f99" stroke-width="4.2"/>
<circle cx="1771.70" cy="299.73" r="12.3" fill="#fff" stroke="#001f99" stroke-width="4.2"/>
<circle cx="1778.70" cy="297.91" r="12.3" fill="#fff" stroke="#001f99" stroke-width="4.2"/>
<circle cx="1785.70" cy="299.00" r="12.3" fill="#fff" stroke="#001f99" stroke-width="4.2"/>
<circle cx="1792.70" cy="303.55" r="12.3" fill="#fff" stroke="#001f99" stroke-width="4.2"/>
<circle cx="1799.70" cy="311.87" r="12.3" fill="#fff" stroke="#001f99" stroke-width="4.2"/>
<circle cx="1806.70" cy="323.51" r="12.3" fill="#fff" stroke="#001f99" stroke-width="4.2"/>
<circle cx="1813.70" cy="338.75" r="12.3" fill="#fff" stroke="#001f99" stroke-width="4.2"/>
<circle cx="1820.70" cy="353.85" r="12.3" fill="#fff" stroke="#001f99" stroke-width="4.2"/>
<circle cx="1827.70" cy="372.44" r="12.3" fill="#fff" stroke="#001f99" stroke-width="4.2"/>
<circle cx="1834.70" cy="394.29" r="12.3" fill="#fff" stroke="#001f99" stroke-width="4.2"/>
<circle cx="1841.70" cy="411.62" r="12.3" fill="#fff" stroke="#001f99" stroke-width="4.2"/>
<circle cx="1848.70" cy="426.64" r="12.3" fill="#fff" stroke="#001f99" stroke-width="4.2"/>
<circle cx="1855.70" cy="437.38" r="12.3" fill="#fff" stroke="#001f99" stroke-width="4.2"/>
<circle cx="1862.70" cy="443.97" r="12.3" fill="#fff" stroke="#001f99" stroke-width="4.2"/>
<circle cx="1869.70" cy="447.88" r="12.3" fill="#fff" stroke="#001f99" stroke-width="4.2"/>
<circle cx="1876.70" cy="451.76" r="12.3" fill="#fff" stroke="#001f99" stroke-width="4.2"/>
<circle cx="1883.70" cy="454.17" r="12.3" fill="#fff" stroke="#001f99" stroke-width="4.2"/>
<circle cx="1890.70" cy="454.46" r="12.3" fill="#fff" stroke="#001f99" stroke-width="4.2"/>
<circle cx="1897.70" cy="448.37" r="12.3" fill="#fff" stroke="#001f99" stroke-width="4.2"/>
<circle cx="1904.70" cy="440.30" r="12.3" fill="#fff" stroke="#001f99" stroke-width="4.2"/>
<circle cx="1911.70" cy="427.14" r="12.3" fill="#fff" stroke="#001f99" stroke-width="4.2"/>
<circle cx="1918.70" cy="410.81" r="12.3" fill="#fff" stroke="#001f99" stroke-width="4.2"/>
<circle cx="1925.70" cy="391.90" r="12.3" fill="#fff" stroke="#001f99" stroke-width="4.2"/>
<circle cx="1932.70" cy="375.05" r="12.3" fill="#fff" stroke="#001f99" stroke-width="4.2"/>
<circle cx="1939.70" cy="358.72" r="12.3" fill="#fff" stroke="#001f99" stroke-width="4.2"/>
<circle cx="1946.70" cy="343.54" r="12.3" fill="#fff" stroke="#001f99" stroke-width="4.2"/>
<circle cx="1953.70" cy="327.68" r="12.3" fill="#fff" stroke="#001f99" stroke-width="4.2"/>
<circle cx="1960.70" cy="313.30" r="12.3" fill="#fff" stroke="#001f99" stroke-width="4.2"/>
<circle cx="1967.70" cy="299.76" r="12.3" fill="#fff" stroke="#001f99" stroke-width="4.2"/>
<circle cx="1974.70" cy="284.00" r="12.3" fill="#fff" stroke="#001f99" stroke-width="4.2"/>
<circle cx="1981.70" cy="272.13" r="12.3" fill="#fff" stroke="#001f99" stroke-width="4.2"/>
<circle cx="1988.70" cy="267.85" r="12.3" fill="#fff" stroke="#001f99" stroke-width="4.2"/>
<circle cx="1995.70" cy="266.54" r="12.3" fill="#fff" stroke="#001f99" stroke-width="4.2"/>
<circle cx="2002.70" cy="266.81" r="12.3" fill="#fff" stroke="#001f99" stroke-width="4.2"/>
<circle cx="2009.70" cy="269.81" r="12.3" fill="#fff" stroke="#001f99" stroke-width="4.2"/>
<circle cx="2016.70" cy="276.09" r="12.3" fill="#fff" stroke="#001f99" stroke-width="4.2"/>
<circle cx="2023.70" cy="285.50" r="12.3" fill="#fff" stroke="#001f99" stroke-width="4.2"/>
<circle cx="2030.70" cy="297.18" r="12.3" fill="#fff" stroke="#001f99" stroke-width="4.2"/>
<circle cx="2037.70" cy="310.16" r="12.3" fill="#fff" stroke="#001f99" stroke-width="4.2"/>
<circle cx="2044.70" cy="322.44" r="12.3" fill="#fff" stroke="#001f99" stroke-width="4.2"/>
<circle cx="2051.70" cy="336.42" r="12.3" fill="#fff" stroke="#001f99" stroke-width="4.2"/>
<circle cx="2058.70" cy="349.20" r="12.3" fill="#fff" stroke="#001f99" stroke-width="4.2"/>
<circle cx="2065.70" cy="360.52" r="12.3" fill="#fff" stroke="#001f99" stroke-width="4.2"/>
<circle cx="2072.70" cy="372.43" r="12.3" fill="#fff" stroke="#001f99" stroke-width="4.2"/>
<circle cx="2079.70" cy="382.83" r="12.3" fill="#fff" stroke="#001f99" stroke-width="4.2"/>
<circle cx="2086.70" cy="391.95" r="12.3" fill="#fff" stroke="#001f99" stroke-width="4.2"/>
<path d="M1211.30,141.60 L1212.30,141.60 L1213.30,141.60 L1214.30,141.60 L1215.30,141.60 L1216.30,141.60 L1217.30,141.60 L1218.30,141.60 L1219.30,141.60 L1220.30,141.60 L1221.30,141.60 L1222.30,141.60 L1223.30,141.60 L1224.30,141.60 L1225.30,141.60 L1226.30,141.60 L1227.30,141.60 L1228.30,141.60 L1229.30,141.60 L1230.30,141.60 L1231.30,141.60 L1232.30,141.60 L1233.30,141.60 L1234.30,141.60 L1235.30,141.60 L1236.30,141.60 L1237.30,141.60 L1238.30,141.60 L1239.30,141.60 L1240.30,141.60 L1241.30,141.60 L1242.30,141.60 L1243.30,141.60 L1244.30,141.60 L1245.30,141.60 L1246.30,141.60 L1247.30,141.60 L1248.30,141.60 L1249.30,141.60 L1250.30,141.60 L1251.30,141.60 L1252.30,141.60 L1253.30,141.60 L1254.30,141.60 L1255.30,141.60 L1256.30,141.60 L1257.30,141.60 L1258.30,141.60 L1259.30,141.60 L1260.30,141.60 L1261.30,141.60 L1262.30,141.60 L1263.30,141.60 L1264.30,141.60 L1265.30,141.60 L1266.30,141.60 L1267.30,141.60 L1268.30,141.60 L1269.30,141.60 L1270.30,141.60 L1271.30,141.60 L1272.30,141.60 L1273.30,141.60 L1274.30,141.60 L1275.30,141.60 L1276.30,141.60 L1277.30,141.60 L1278.30,141.60 L1279.30,141.60 L1280.30,141.60 L1281.30,141.61 L1282.30,141.61 L1283.30,141.61 L1284.30,141.61 L1285.30,141.61 L1286.30,141.61 L1287.30,141.61 L1288.30,141.61 L1289.30,141.60 L1290.30,141.60 L1291.30,141.60 L1292.30,141.60 L1293.30,141.60 L1294.30,141.59 L1295.30,141.58 L1296.30,141.57 L1297.30,141.56 L1298.30,141.54 L1299.30,141.52 L1300.30,141.50 L1301.30,141.48 L1302.30,141.46 L1303.30,141.44 L1304.30,141.42 L1305.30,141.40 L1306.30,141.37 L1307.30,141.34 L1308.30,141.31 L1309.30,141.26 L1310.30,141.21 L1311.30,141.15 L1312.30,141.07 L1313.30,140.98 L1314.30,140.88 L1315.30,140.77 L1316.30,140.65 L1317.30,140.52 L1318.30,140.37 L1319.30,140.22 L1320.30,140.05 L1321.30,139.87 L1322.30,139.66 L1323.30,139.43 L1324.30,139.17 L1325.30,138.89 L1326.30,138.57 L1327.30,138.22 L1328.30,137.84 L1329.30,137.42 L1330.30,136.96 L1331.30,136.46 L1332.30,135.91 L1333.30,135.31 L1334.30,134.66 L1335.30,133.94 L1336.30,133.17 L1337.30,132.32 L1338.30,131.41 L1339.30,130.43 L1340.30,129.37 L1341.30,128.23 L1342.30,127.02 L1343.30,125.72 L1344.30,124.34 L1345.30,122.87 L1346.30,121.31 L1347.30,119.66 L1348.30,117.92 L1349.30,116.09 L1350.30,114.16 L1351.30,112.15 L1352.30,110.04 L1353.30,107.84 L1354.30,105.55 L1355.30,103.18 L1356.30,100.73 L1357.30,98.22 L1358.30,95.64 L1359.30,93.01 L1360.30,90.33 L1361.30,87.63 L1362.30,84.90 L1363.30,82.15 L1364.30,79.41 L1365.30,76.68 L1366.30,73.96 L1367.30,71.28 L1368.30,68.65 L1369.30,66.06 L1370.30,63.54 L1371.30,61.09 L1372.30,58.72 L1373.30,56.43 L1374.30,54.23 L1375.30,52.13 L1376.30,50.12 L1377.30,48.22 L1378.30,46.45 L1379.30,44.80 L1380.30,43.29 L1381.30,41.95 L1382.30,40.77 L1383.30,39.79 L1384.30,39.02 L1385.30,38.46 L1386.30,38.14 L1387.30,38.07 L1388.30,38.26 L1389.30,38.72 L1390.30,39.45 L1391.30,40.47 L1392.30,41.77 L1393.30,43.36 L1394.30,45.25 L1395.30,47.43 L1396.30,49.90 L1397.30,52.65 L1398.30,55.70 L1399.30,59.03 L1400.30,62.64 L1401.30,66.52 L1402.30,70.67 L1403.30,75.08 L1404.30,79.74 L1405.30,84.64 L1406.30,89.76 L1407.30,95.10 L1408.30,100.64 L1409.30,106.37 L1410.30,112.27 L1411.30,118.34 L1412.30,124.54 L1413.30,130.87 L1414.30,137.31 L1415.30,143.84 L1416.30,150.46 L1417.30,157.17 L1418.30,163.97 L1419.30,170.88 L1420.30,177.91 L1421.30,185.09 L1422.30,192.44 L1423.30,199.96 L1424.30,207.65 L1425.30,215.50 L1426.30,223.46 L1427.30,231.51 L1428.30,239.60 L1429.30,247.68 L1430.30,255.71 L1431.30,263.63 L1432.30,271.41 L1433.30,279.02 L1434.30,286.43 L1435.30,293.63 L1436.30,300.59 L1437.30,307.31 L1438.30,313.78 L1439.30,320.01 L1440.30,326.00 L1441.30,331.75 L1442.30,337.27 L1443.30,342.57 L1444.30,347.66 L1445.30,352.55 L1446.30,357.25 L1447.30,361.77 L1448.30,366.11 L1449.30,370.29 L1450.30,374.32 L1451.30,378.21 L1452.30,381.97 L1453.30,385.60 L1454.30,389.12 L1455.30,392.53 L1456.30,395.83 L1457.30,399.04 L1458.30,402.15 L1459.30,405.17 L1460.30,408.09 L1461.30,410.91 L1462.30,413.63 L1463.30,416.24 L1464.30,418.75 L1465.30,421.14 L1466.30,423.41 L1467.30,425.56 L1468.30,427.58 L1469.30,429.47 L1470.30,431.23 L1471.30,432.86 L1472.30,434.34 L1473.30,435.69 L1474.30,436.91 L1475.30,437.99 L1476.30,438.93 L1477.30,439.74 L1478.30,440.42 L1479.30,440.98 L1480.30,441.42 L1481.30,441.74 L1482.30,441.96 L1483.30,442.06 L1484.30,442.07 L1485.30,441.99 L1486.30,441.81 L1487.30,441.54 L1488.30,441.19 L1489.30,440.76 L1490.30,440.24 L1491.30,439.66 L1492.30,439.00 L1493.30,438.27 L1494.30,437.47 L1495.30,436.61 L1496.30,435.70 L1497.30,434.73 L1498.30,433.70 L1499.30,432.63 L1500.30,431.51 L1501.30,430.35 L1502.30,429.15 L1503.30,427.91 L1504.30,426.63 L1505.30,425.32 L1506.30,423.98 L1507.30,422.61 L1508.30,421.22 L1509.30,419.80 L1510.30,418.37 L1511.30,416.91 L1512.30,415.44 L1513.30,413.95 L1514.30,412.45 L1515.30,410.95 L1516.30,409.43 L1517.30,407.91 L1518.30,406.38 L1519.30,404.85 L1520.30,403.32 L1521.30,401.79 L1522.30,400.25 L1523.30,398.72 L1524.30,397.19 L1525.30,395.66 L1526.30,394.14 L1527.30,392.62 L1528.30,391.11 L1529.30,389.61 L1530.30,388.12 L1531.30,386.65 L1532.30,385.20 L1533.30,383.76 L1534.30,382.36 L1535.30,380.97 L1536.30,379.62 L1537.30,378.30 L1538.30,377.01 L1539.30,375.75 L1540.30,374.53 L1541.30,373.34 L1542.30,372.19 L1543.30,371.08 L1544.30,370.00 L1545.30,368.96 L1546.30,367.96 L1547.30,367.00 L1548.30,366.09 L1549.30,365.22 L1550.30,364.39 L1551.30,363.61 L1552.30,362.89 L1553.30,362.22 L1554.30,361.60 L1555.30,361.04 L1556.30,360.54 L1557.30,360.11 L1558.30,359.74 L1559.30,359.43 L1560.30,359.19 L1561.30,359.02 L1562.30,358.90 L1563.30,358.86 L1564.30,358.88 L1565.30,358.96 L1566.30,359.12 L1567.30,359.34 L1568.30,359.63 L1569.30,359.99 L1570.30,360.42 L1571.30,360.92 L1572.30,361.49 L1573.30,362.13 L1574.30,362.83 L1575.30,363.60 L1576.30,364.43 L1577.30,365.32 L1578.30,366.27 L1579.30,367.28 L1580.30,368.34 L1581.30,369.46 L1582.30,370.62 L1583.30,371.84 L1584.30,373.10 L1585.30,374.41 L1586.30,375.76 L1587.30,377.14 L1588.30,378.56 L1589.30,380.02 L1590.30,381.50 L1591.30,383.00 L1592.30,384.53 L1593.30,386.08 L1594.30,387.65 L1595.30,389.23 L1596.30,390.83 L1597.30,392.44 L1598.30,394.06 L1599.30,395.70 L1600.30,397.34 L1601.30,399.00 L1602.30,400.66 L1603.30,402.33 L1604.30,404.01 L1605.30,405.69 L1606.30,407.38 L1607.30,409.07 L1608.30,410.76 L1609.30,412.45 L1610.30,414.15 L1611.30,415.85 L1612.30,417.55 L1613.30,419.25 L1614.30,420.95 L1615.30,422.65 L1616.30,424.34 L1617.30,426.04 L1618.30,427.74 L1619.30,429.44 L1620.30,431.14 L1621.30,432.83 L1622.30,434.53 L1623.30,436.22 L1624.30,437.91 L1625.30,439.60 L1626.30,441.28 L1627.30,442.96 L1628.30,444.64 L1629.30,446.31 L1630.30,447.99 L1631.30,449.66 L1632.30,451.34 L1633.30,453.01 L1634.30,454.68 L1635.30,456.34 L1636.30,457.98 L1637.30,459.61 L1638.30,461.20 L1639.30,462.75 L1640.30,464.27 L1641.30,465.73 L1642.30,467.15 L1643.30,468.51 L1644.30,469.83 L1645.30,471.09 L1646.30,472.29 L1647.30,473.45 L1648.30,474.56 L1649.30,475.62 L1650.30,476.63 L1651.30,477.59 L1652.30,478.51 L1653.30,479.38 L1654.30,480.20 L1655.30,480.98 L1656.30,481.71 L1657.30,482.39 L1658.30,483.01 L1659.30,483.58 L1660.30,484.07 L1661.30,484.49 L1662.30,484.83 L1663.30,485.08 L1664.30,485.24 L1665.30,485.30 L1666.30,485.27 L1667.30,485.15 L1668.30,484.94 L1669.30,484.64 L1670.30,484.26 L1671.30,483.79 L1672.30,483.24 L1673.30,482.61 L1674.30,481.90 L1675.30,481.12 L1676.30,480.27 L1677.30,479.35 L1678.30,478.35 L1679.30,477.30 L1680.30,476.18 L1681.30,474.99 L1682.30,473.75 L1683.30,472.46 L1684.30,471.11 L1685.30,469.71 L1686.30,468.25 L1687.30,466.75 L1688.30,465.21 L1689.30,463.61 L1690.30,461.97 L1691.30,460.29 L1692.30,458.56 L1693.30,456.79 L1694.30,454.98 L1695.30,453.13 L1696.30,451.25 L1697.30,449.33 L1698.30,447.38 L1699.30,445.40 L1700.30,443.39 L1701.30,441.35 L1702.30,439.29 L1703.30,437.20 L1704.30,435.09 L1705.30,432.96 L1706.30,430.80 L1707.30,428.62 L1708.30,426.42 L1709.30,424.20 L1710.30,421.96 L1711.30,419.71 L1712.30,417.44 L1713.30,415.15 L1714.30,412.85 L1715.30,410.54 L1716.30,408.22 L1717.30,405.89 L1718.30,403.55 L1719.30,401.20 L1720.30,398.85 L1721.30,396.50 L1722.30,394.15 L1723.30,391.79 L1724.30,389.44 L1725.30,387.10 L1726.30,384.75 L1727.30,382.42 L1728.30,380.09 L1729.30,377.78 L1730.30,375.48 L1731.30,373.19 L1732.30,370.92 L1733.30,368.68 L1734.30,366.45 L1735.30,364.25 L1736.30,362.08 L1737.30,359.94 L1738.30,357.83 L1739.30,355.76 L1740.30,353.72 L1741.30,351.72 L1742.30,349.77 L1743.30,347.85 L1744.30,345.99 L1745.30,344.17 L1746.30,342.39 L1747.30,340.68 L1748.30,339.01 L1749.30,337.40 L1750.30,335.86 L1751.30,334.37 L1752.30,332.94 L1753.30,331.58 L1754.30,330.29 L1755.30,329.06 L1756.30,327.89 L1757.30,326.80 L1758.30,325.77 L1759.30,324.81 L1760.30,323.92 L1761.30,323.10 L1762.30,322.34 L1763.30,321.65 L1764.30,321.03 L1765.30,320.48 L1766.30,320.00 L1767.30,319.58 L1768.30,319.22 L1769.30,318.94 L1770.30,318.71 L1771.30,318.55 L1772.30,318.46 L1773.30,318.42 L1774.30,318.45 L1775.30,318.54 L1776.30,318.69 L1777.30,318.90 L1778.30,319.18 L1779.30,319.52 L1780.30,319.93 L1781.30,320.40 L1782.30,320.94 L1783.30,321.54 L1784.30,322.21 L1785.30,322.95 L1786.30,323.75 L1787.30,324.62 L1788.30,325.55 L1789.30,326.55 L1790.30,327.61 L1791.30,328.74 L1792.30,329.92 L1793.30,331.15 L1794.30,332.44 L1795.30,333.78 L1796.30,335.17 L1797.30,336.61 L1798.30,338.09 L1799.30,339.61 L1800.30,341.16 L1801.30,342.75 L1802.30,344.37 L1803.30,346.01 L1804.30,347.68 L1805.30,349.37 L1806.30,351.08 L1807.30,352.81 L1808.30,354.55 L1809.30,356.30 L1810.30,358.06 L1811.30,359.83 L1812.30,361.60 L1813.30,363.37 L1814.30,365.15 L1815.30,366.92 L1816.30,368.70 L1817.30,370.48 L1818.30,372.25 L1819.30,374.02 L1820.30,375.78 L1821.30,377.54 L1822.30,379.29 L1823.30,381.02 L1824.30,382.75 L1825.30,384.46 L1826.30,386.15 L1827.30,387.83 L1828.30,389.49 L1829.30,391.14 L1830.30,392.77 L1831.30,394.38 L1832.30,395.98 L1833.30,397.56 L1834.30,399.12 L1835.30,400.66 L1836.30,402.18 L1837.30,403.69 L1838.30,405.17 L1839.30,406.64 L1840.30,408.08 L1841.30,409.51 L1842.30,410.93 L1843.30,412.33 L1844.30,413.73 L1845.30,415.12 L1846.30,416.52 L1847.30,417.92 L1848.30,419.33 L1849.30,420.76 L1850.30,422.19 L1851.30,423.62 L1852.30,425.04 L1853.30,426.43 L1854.30,427.77 L1855.30,429.06 L1856.30,430.27 L1857.30,431.39 L1858.30,432.43 L1859.30,433.38 L1860.30,434.24 L1861.30,435.03 L1862.30,435.73 L1863.30,436.36 L1864.30,436.93 L1865.30,437.43 L1866.30,437.86 L1867.30,438.24 L1868.30,438.56 L1869.30,438.82 L1870.30,439.02 L1871.30,439.17 L1872.30,439.26 L1873.30,439.29 L1874.30,439.27 L1875.30,439.19 L1876.30,439.05 L1877.30,438.85 L1878.30,438.59 L1879.30,438.28 L1880.30,437.90 L1881.30,437.47 L1882.30,436.97 L1883.30,436.42 L1884.30,435.79 L1885.30,435.10 L1886.30,434.35 L1887.30,433.52 L1888.30,432.63 L1889.30,431.67 L1890.30,430.64 L1891.30,429.54 L1892.30,428.37 L1893.30,427.14 L1894.30,425.83 L1895.30,424.46 L1896.30,423.02 L1897.30,421.52 L1898.30,419.95 L1899.30,418.32 L1900.30,416.63 L1901.30,414.87 L1902.30,413.06 L1903.30,411.20 L1904.30,409.29 L1905.30,407.32 L1906.30,405.31 L1907.30,403.26 L1908.30,401.16 L1909.30,399.03 L1910.30,396.86 L1911.30,394.66 L1912.30,392.42 L1913.30,390.16 L1914.30,387.87 L1915.30,385.56 L1916.30,383.22 L1917.30,380.86 L1918.30,378.48 L1919.30,376.07 L1920.30,373.65 L1921.30,371.22 L1922.30,368.77 L1923.30,366.31 L1924.30,363.84 L1925.30,361.37 L1926.30,358.89 L1927.30,356.42 L1928.30,353.94 L1929.30,351.48 L1930.30,349.02 L1931.30,346.57 L1932.30,344.13 L1933.30,341.71 L1934.30,339.30 L1935.30,336.90 L1936.30,334.52 L1937.30,332.17 L1938.30,329.84 L1939.30,327.54 L1940.30,325.26 L1941.30,323.02 L1942.30,320.82 L1943.30,318.66 L1944.30,316.54 L1945.30,314.47 L1946.30,312.44 L1947.30,310.46 L1948.30,308.54 L1949.30,306.66 L1950.30,304.85 L1951.30,303.09 L1952.30,301.39 L1953.30,299.75 L1954.30,298.17 L1955.30,296.65 L1956.30,295.20 L1957.30,293.81 L1958.30,292.49 L1959.30,291.23 L1960.30,290.04 L1961.30,288.92 L1962.30,287.87 L1963.30,286.88 L1964.30,285.97 L1965.30,285.12 L1966.30,284.34 L1967.30,283.63 L1968.30,282.99 L1969.30,282.42 L1970.30,281.91 L1971.30,281.46 L1972.30,281.07 L1973.30,280.74 L1974.30,280.45 L1975.30,280.21 L1976.30,280.01 L1977.30,279.84 L1978.30,279.72 L1979.30,279.64 L1980.30,279.60 L1981.30,279.61 L1982.30,279.67 L1983.30,279.79 L1984.30,279.97 L1985.30,280.22 L1986.30,280.53 L1987.30,280.91 L1988.30,281.36 L1989.30,281.87 L1990.30,282.45 L1991.30,283.09 L1992.30,283.79 L1993.30,284.55 L1994.30,285.37 L1995.30,286.24 L1996.30,287.16 L1997.30,288.14 L1998.30,289.17 L1999.30,290.25 L2000.30,291.38 L2001.30,292.56 L2002.30,293.78 L2003.30,295.05 L2004.30,296.36 L2005.30,297.71 L2006.30,299.10 L2007.30,300.52 L2008.30,301.98 L2009.30,303.46 L2010.30,304.98 L2011.30,306.52 L2012.30,308.09 L2013.30,309.69 L2014.30,311.30 L2015.30,312.94 L2016.30,314.60 L2017.30,316.27 L2018.30,317.96 L2019.30,319.67 L2020.30,321.39 L2021.30,323.12 L2022.30,324.86 L2023.30,326.61 L2024.30,328.37 L2025.30,330.13 L2026.30,331.90 L2027.30,333.67 L2028.30,335.44 L2029.30,337.20 L2030.30,338.97 L2031.30,340.74 L2032.30,342.49 L2033.30,344.24 L2034.30,345.99 L2035.30,347.72 L2036.30,349.44 L2037.30,351.15 L2038.30,352.85 L2039.30,354.53 L2040.30,356.19 L2041.30,357.84 L2042.30,359.47 L2043.30,361.08 L2044.30,362.67 L2045.30,364.25 L2046.30,365.80 L2047.30,367.34 L2048.30,368.86 L2049.30,370.37 L2050.30,371.85 L2051.30,373.32 L2052.30,374.76 L2053.30,376.19 L2054.30,377.59 L2055.30,378.96 L2056.30,380.31 L2057.30,381.62 L2058.30,382.91 L2059.30,384.16 L2060.30,385.37 L2061.30,386.55 L2062.30,387.69 L2063.30,388.79 L2064.30,389.84 L2065.30,390.86 L2066.30,391.83 L2067.30,392.76 L2068.30,393.64 L2069.30,394.48 L2070.30,395.28 L2071.30,396.03 L2072.30,396.74 L2073.30,397.40 L2074.30,398.02 L2075.30,398.60 L2076.30,399.12 L2077.30,399.60 L2078.30,400.02 L2079.30,400.39 L2080.30,400.70 L2081.30,400.94 L2082.30,401.12 L2083.30,401.23 L2084.30,401.27 L2085.30,401.25" fill="none" stroke="#000" stroke-width="9.3" stroke-linecap="butt" stroke-linejoin="round" />
<rect x="1193.20" y="2.00" width="912.40" height="525.20" fill="none" stroke="#000" stroke-width="4.0"/>
<line x1="1246.70" y1="527.20" x2="1246.70" y2="542.20" stroke="#000" stroke-width="4.4" stroke-linecap="butt"/>
<line x1="1316.70" y1="527.20" x2="1316.70" y2="542.20" stroke="#000" stroke-width="4.4" stroke-linecap="butt"/>
<line x1="1386.70" y1="527.20" x2="1386.70" y2="555.50" stroke="#000" stroke-width="4.4" stroke-linecap="butt"/>
<line x1="1456.70" y1="527.20" x2="1456.70" y2="542.20" stroke="#000" stroke-width="4.4" stroke-linecap="butt"/>
<line x1="1526.70" y1="527.20" x2="1526.70" y2="542.20" stroke="#000" stroke-width="4.4" stroke-linecap="butt"/>
<line x1="1596.70" y1="527.20" x2="1596.70" y2="542.20" stroke="#000" stroke-width="4.4" stroke-linecap="butt"/>
<line x1="1666.70" y1="527.20" x2="1666.70" y2="542.20" stroke="#000" stroke-width="4.4" stroke-linecap="butt"/>
<line x1="1736.70" y1="527.20" x2="1736.70" y2="555.50" stroke="#000" stroke-width="4.4" stroke-linecap="butt"/>
<line x1="1806.70" y1="527.20" x2="1806.70" y2="542.20" stroke="#000" stroke-width="4.4" stroke-linecap="butt"/>
<line x1="1876.70" y1="527.20" x2="1876.70" y2="542.20" stroke="#000" stroke-width="4.4" stroke-linecap="butt"/>
<line x1="1946.70" y1="527.20" x2="1946.70" y2="542.20" stroke="#000" stroke-width="4.4" stroke-linecap="butt"/>
<line x1="2016.70" y1="527.20" x2="2016.70" y2="542.20" stroke="#000" stroke-width="4.4" stroke-linecap="butt"/>
<line x1="2086.70" y1="527.20" x2="2086.70" y2="555.50" stroke="#000" stroke-width="4.4" stroke-linecap="butt"/>
<line x1="1193.20" y1="504.12" x2="1178.20" y2="504.12" stroke="#000" stroke-width="4.4" stroke-linecap="butt"/>
<line x1="1193.20" y1="483.98" x2="1178.20" y2="483.98" stroke="#000" stroke-width="4.4" stroke-linecap="butt"/>
<line x1="1193.20" y1="463.84" x2="1178.20" y2="463.84" stroke="#000" stroke-width="4.4" stroke-linecap="butt"/>
<line x1="1193.20" y1="443.70" x2="1178.20" y2="443.70" stroke="#000" stroke-width="4.4" stroke-linecap="butt"/>
<line x1="1193.20" y1="423.56" x2="1178.20" y2="423.56" stroke="#000" stroke-width="4.4" stroke-linecap="butt"/>
<line x1="1193.20" y1="403.42" x2="1178.20" y2="403.42" stroke="#000" stroke-width="4.4" stroke-linecap="butt"/>
<line x1="1193.20" y1="383.28" x2="1178.20" y2="383.28" stroke="#000" stroke-width="4.4" stroke-linecap="butt"/>
<line x1="1193.20" y1="363.14" x2="1178.20" y2="363.14" stroke="#000" stroke-width="4.4" stroke-linecap="butt"/>
<line x1="1193.20" y1="343.00" x2="1178.20" y2="343.00" stroke="#000" stroke-width="4.4" stroke-linecap="butt"/>
<line x1="1193.20" y1="322.86" x2="1178.20" y2="322.86" stroke="#000" stroke-width="4.4" stroke-linecap="butt"/>
<line x1="1193.20" y1="302.72" x2="1178.20" y2="302.72" stroke="#000" stroke-width="4.4" stroke-linecap="butt"/>
<line x1="1193.20" y1="282.58" x2="1178.20" y2="282.58" stroke="#000" stroke-width="4.4" stroke-linecap="butt"/>
<line x1="1193.20" y1="262.44" x2="1178.20" y2="262.44" stroke="#000" stroke-width="4.4" stroke-linecap="butt"/>
<line x1="1193.20" y1="242.30" x2="1178.20" y2="242.30" stroke="#000" stroke-width="4.4" stroke-linecap="butt"/>
<line x1="1193.20" y1="222.16" x2="1178.20" y2="222.16" stroke="#000" stroke-width="4.4" stroke-linecap="butt"/>
<line x1="1193.20" y1="202.02" x2="1178.20" y2="202.02" stroke="#000" stroke-width="4.4" stroke-linecap="butt"/>
<line x1="1193.20" y1="181.88" x2="1178.20" y2="181.88" stroke="#000" stroke-width="4.4" stroke-linecap="butt"/>
<line x1="1193.20" y1="161.74" x2="1178.20" y2="161.74" stroke="#000" stroke-width="4.4" stroke-linecap="butt"/>
<line x1="1193.20" y1="141.60" x2="1178.20" y2="141.60" stroke="#000" stroke-width="4.4" stroke-linecap="butt"/>
<line x1="1193.20" y1="121.46" x2="1178.20" y2="121.46" stroke="#000" stroke-width="4.4" stroke-linecap="butt"/>
<line x1="1193.20" y1="101.32" x2="1178.20" y2="101.32" stroke="#000" stroke-width="4.4" stroke-linecap="butt"/>
<line x1="1193.20" y1="81.18" x2="1178.20" y2="81.18" stroke="#000" stroke-width="4.4" stroke-linecap="butt"/>
<line x1="1193.20" y1="61.04" x2="1178.20" y2="61.04" stroke="#000" stroke-width="4.4" stroke-linecap="butt"/>
<line x1="1193.20" y1="40.90" x2="1178.20" y2="40.90" stroke="#000" stroke-width="4.4" stroke-linecap="butt"/>
<line x1="1193.20" y1="20.76" x2="1178.20" y2="20.76" stroke="#000" stroke-width="4.4" stroke-linecap="butt"/>
<line x1="1193.20" y1="40.90" x2="1164.90" y2="40.90" stroke="#000" stroke-width="4.4" stroke-linecap="butt"/>
<line x1="1193.20" y1="141.60" x2="1164.90" y2="141.60" stroke="#000" stroke-width="4.4" stroke-linecap="butt"/>
<line x1="1193.20" y1="242.30" x2="1164.90" y2="242.30" stroke="#000" stroke-width="4.4" stroke-linecap="butt"/>
<line x1="1193.20" y1="343.00" x2="1164.90" y2="343.00" stroke="#000" stroke-width="4.4" stroke-linecap="butt"/>
<line x1="1193.20" y1="443.70" x2="1164.90" y2="443.70" stroke="#000" stroke-width="4.4" stroke-linecap="butt"/>
<line x1="2105.60" y1="504.12" x2="2120.60" y2="504.12" stroke="#000" stroke-width="4.4" stroke-linecap="butt"/>
<line x1="2105.60" y1="483.98" x2="2120.60" y2="483.98" stroke="#000" stroke-width="4.4" stroke-linecap="butt"/>
<line x1="2105.60" y1="463.84" x2="2120.60" y2="463.84" stroke="#000" stroke-width="4.4" stroke-linecap="butt"/>
<line x1="2105.60" y1="443.70" x2="2120.60" y2="443.70" stroke="#000" stroke-width="4.4" stroke-linecap="butt"/>
<line x1="2105.60" y1="423.56" x2="2120.60" y2="423.56" stroke="#000" stroke-width="4.4" stroke-linecap="butt"/>
<line x1="2105.60" y1="403.42" x2="2120.60" y2="403.42" stroke="#000" stroke-width="4.4" stroke-linecap="butt"/>
<line x1="2105.60" y1="383.28" x2="2120.60" y2="383.28" stroke="#000" stroke-width="4.4" stroke-linecap="butt"/>
<line x1="2105.60" y1="363.14" x2="2120.60" y2="363.14" stroke="#000" stroke-width="4.4" stroke-linecap="butt"/>
<line x1="2105.60" y1="343.00" x2="2120.60" y2="343.00" stroke="#000" stroke-width="4.4" stroke-linecap="butt"/>
<line x1="2105.60" y1="322.86" x2="2120.60" y2="322.86" stroke="#000" stroke-width="4.4" stroke-linecap="butt"/>
<line x1="2105.60" y1="302.72" x2="2120.60" y2="302.72" stroke="#000" stroke-width="4.4" stroke-linecap="butt"/>
<line x1="2105.60" y1="282.58" x2="2120.60" y2="282.58" stroke="#000" stroke-width="4.4" stroke-linecap="butt"/>
<line x1="2105.60" y1="262.44" x2="2120.60" y2="262.44" stroke="#000" stroke-width="4.4" stroke-linecap="butt"/>
<line x1="2105.60" y1="242.30" x2="2120.60" y2="242.30" stroke="#000" stroke-width="4.4" stroke-linecap="butt"/>
<line x1="2105.60" y1="222.16" x2="2120.60" y2="222.16" stroke="#000" stroke-width="4.4" stroke-linecap="butt"/>
<line x1="2105.60" y1="202.02" x2="2120.60" y2="202.02" stroke="#000" stroke-width="4.4" stroke-linecap="butt"/>
<line x1="2105.60" y1="181.88" x2="2120.60" y2="181.88" stroke="#000" stroke-width="4.4" stroke-linecap="butt"/>
<line x1="2105.60" y1="161.74" x2="2120.60" y2="161.74" stroke="#000" stroke-width="4.4" stroke-linecap="butt"/>
<line x1="2105.60" y1="141.60" x2="2120.60" y2="141.60" stroke="#000" stroke-width="4.4" stroke-linecap="butt"/>
<line x1="2105.60" y1="121.46" x2="2120.60" y2="121.46" stroke="#000" stroke-width="4.4" stroke-linecap="butt"/>
<line x1="2105.60" y1="101.32" x2="2120.60" y2="101.32" stroke="#000" stroke-width="4.4" stroke-linecap="butt"/>
<line x1="2105.60" y1="81.18" x2="2120.60" y2="81.18" stroke="#000" stroke-width="4.4" stroke-linecap="butt"/>
<line x1="2105.60" y1="61.04" x2="2120.60" y2="61.04" stroke="#000" stroke-width="4.4" stroke-linecap="butt"/>
<line x1="2105.60" y1="40.90" x2="2120.60" y2="40.90" stroke="#000" stroke-width="4.4" stroke-linecap="butt"/>
<line x1="2105.60" y1="20.76" x2="2120.60" y2="20.76" stroke="#000" stroke-width="4.4" stroke-linecap="butt"/>
<line x1="2105.60" y1="40.90" x2="2133.90" y2="40.90" stroke="#000" stroke-width="4.4" stroke-linecap="butt"/>
<line x1="2105.60" y1="141.60" x2="2133.90" y2="141.60" stroke="#000" stroke-width="4.4" stroke-linecap="butt"/>
<line x1="2105.60" y1="242.30" x2="2133.90" y2="242.30" stroke="#000" stroke-width="4.4" stroke-linecap="butt"/>
<line x1="2105.60" y1="343.00" x2="2133.90" y2="343.00" stroke="#000" stroke-width="4.4" stroke-linecap="butt"/>
<line x1="2105.60" y1="443.70" x2="2133.90" y2="443.70" stroke="#000" stroke-width="4.4" stroke-linecap="butt"/>
<text transform="translate(2164.81,56.70) scale(0.983,1)" font-size="50.7" fill="#000" font-family="Liberation Sans, sans-serif">0.1</text>
<text transform="translate(2164.81,157.40) scale(0.983,1)" font-size="50.7" fill="#000" font-family="Liberation Sans, sans-serif">0.0</text>
<text transform="translate(2148.21,258.10) scale(0.983,1)" font-size="50.7" fill="#000" font-family="Liberation Sans, sans-serif">-0.1</text>
<text transform="translate(2148.21,358.80) scale(0.983,1)" font-size="50.7" fill="#000" font-family="Liberation Sans, sans-serif">-0.2</text>
<text transform="translate(2148.21,459.50) scale(0.983,1)" font-size="50.7" fill="#000" font-family="Liberation Sans, sans-serif">-0.3</text>
<line x1="388.30" y1="627.00" x2="388.30" y2="1027.20" stroke="#000" stroke-width="3.9" stroke-linecap="butt"/>
<line x1="201.30" y1="1015.20" x2="1105.40" y2="1015.20" stroke="#000" stroke-width="3.9" stroke-linecap="butt"/>
<path d="M282.26,1015.20 L282.26,1015.16 L283.68,1015.15 L285.09,1015.14 L286.51,1015.13 L287.92,1015.12 L289.33,1015.10 L290.75,1015.08 L292.16,1015.06 L293.58,1015.03 L294.99,1015.00 L296.40,1014.97 L297.82,1014.92 L299.23,1014.87 L300.64,1014.81 L302.06,1014.74 L303.47,1014.67 L304.89,1014.57 L306.30,1014.47 L307.71,1014.34 L309.13,1014.20 L310.54,1014.04 L311.95,1013.85 L313.37,1013.64 L314.78,1013.40 L316.20,1013.12 L317.61,1012.81 L319.02,1012.45 L320.44,1012.05 L321.85,1011.60 L323.27,1011.09 L324.68,1010.52 L326.09,1009.88 L327.51,1009.16 L328.92,1008.37 L330.33,1007.48 L331.75,1006.50 L333.16,1005.41 L334.58,1004.21 L335.99,1002.89 L337.40,1001.44 L338.82,999.84 L340.23,998.10 L341.64,996.20 L343.06,994.14 L344.47,991.89 L345.89,989.46 L347.30,986.84 L348.71,984.01 L350.13,980.97 L351.54,977.71 L352.96,974.23 L354.37,970.51 L355.78,966.56 L357.20,962.37 L358.61,957.94 L360.02,953.26 L361.44,948.34 L362.85,943.18 L364.27,937.78 L365.68,932.14 L367.09,926.28 L368.51,920.21 L369.92,913.92 L371.33,907.45 L372.75,900.79 L374.16,893.98 L375.58,887.03 L376.99,879.95 L378.40,872.78 L379.82,865.54 L381.23,858.26 L382.64,850.96 L384.06,843.68 L385.47,836.44 L386.89,829.28 L388.30,822.24 L389.71,815.34 L391.13,808.63 L392.54,802.12 L393.96,795.87 L395.37,789.90 L396.78,784.24 L398.20,778.93 L399.61,774.00 L401.02,769.47 L402.44,765.38 L403.85,761.74 L405.27,758.58 L406.68,755.91 L408.09,753.76 L409.51,752.14 L410.92,751.05 L412.33,750.50 L413.75,750.50 L415.16,751.05 L416.58,752.14 L417.99,753.76 L419.40,755.91 L420.82,758.58 L422.23,761.74 L423.64,765.38 L425.06,769.47 L426.47,774.00 L427.89,778.93 L429.30,784.24 L430.71,789.90 L432.13,795.87 L433.54,802.12 L434.96,808.63 L436.37,815.34 L437.78,822.24 L439.20,829.28 L440.61,836.44 L442.02,843.68 L443.44,850.96 L444.85,858.26 L446.27,865.54 L447.68,872.78 L449.09,879.95 L450.51,887.03 L451.92,893.98 L453.33,900.79 L454.75,907.45 L456.16,913.92 L457.58,920.21 L458.99,926.28 L460.40,932.14 L461.82,937.78 L463.23,943.18 L464.65,948.34 L466.06,953.26 L467.47,957.94 L468.89,962.37 L470.30,966.56 L471.71,970.51 L473.13,974.23 L474.54,977.71 L475.96,980.97 L477.37,984.01 L478.78,986.84 L480.20,989.46 L481.61,991.89 L483.02,994.14 L484.44,996.20 L485.85,998.10 L487.27,999.84 L488.68,1001.44 L490.09,1002.89 L491.51,1004.21 L492.92,1005.41 L494.34,1006.50 L495.75,1007.48 L497.16,1008.37 L498.58,1009.16 L499.99,1009.88 L501.40,1010.52 L502.82,1011.09 L504.23,1011.60 L505.65,1012.05 L507.06,1012.45 L508.47,1012.81 L509.89,1013.12 L511.30,1013.40 L512.71,1013.64 L514.13,1013.85 L515.54,1014.04 L516.96,1014.20 L518.37,1014.34 L519.78,1014.47 L521.20,1014.57 L522.61,1014.67 L524.02,1014.74 L525.44,1014.81 L526.85,1014.87 L528.27,1014.92 L529.68,1014.97 L531.09,1015.00 L532.51,1015.03 L533.92,1015.06 L535.34,1015.08 L536.75,1015.10 L538.16,1015.12 L539.58,1015.13 L540.99,1015.14 L542.40,1015.15 L543.82,1015.16 L545.23,1015.17 L546.65,1015.17 L548.06,1015.18 L549.47,1015.18 L550.89,1015.19 L552.30,1015.19 L553.71,1015.19 L555.13,1015.19 L556.54,1015.19 L557.96,1015.19 L559.37,1015.20 L560.78,1015.20 L562.20,1015.20 L563.61,1015.20 L565.02,1015.20 L566.44,1015.20 L567.85,1015.20 L569.27,1015.20 L570.68,1015.20 L570.68,1015.20" fill="#bfe6d5" stroke="#00cc66" stroke-width="1.2" stroke-linecap="butt" stroke-linejoin="round" />
<path d="M211.60,1015.20 L217.10,1015.20" fill="none" stroke="#009900" stroke-width="8.0" stroke-linecap="butt" stroke-linejoin="round" />
<path d="M224.90,1015.20 L226.31,1015.20 L227.73,1015.20 L229.14,1015.20 L230.56,1015.20 L231.97,1015.20 L233.38,1015.20 L234.80,1015.20 L236.21,1015.20 L237.62,1015.20 L239.04,1015.20 L240.45,1015.20 L241.87,1015.20 L243.28,1015.20 L244.69,1015.20 L246.11,1015.20 L247.52,1015.20 L248.93,1015.20 L250.35,1015.20 L251.76,1015.20 L253.18,1015.20 L254.59,1015.20 L256.00,1015.20 L257.42,1015.20 L258.83,1015.20 L260.25,1015.20 L261.66,1015.20 L263.07,1015.20 L264.49,1015.20 L265.90,1015.20 L267.31,1015.20 L268.73,1015.20 L270.14,1015.20 L271.56,1015.20 L272.97,1015.20 L274.38,1015.20 L275.80,1015.20 L277.21,1015.20 L278.62,1015.20 L280.04,1015.20 L281.45,1015.20 L282.87,1015.20 L284.28,1015.20 L285.69,1015.20 L287.11,1015.20 L288.52,1015.20 L289.93,1015.20 L291.35,1015.20 L292.76,1015.20 L294.18,1015.20 L295.59,1015.19 L297.00,1015.19 L298.42,1015.19 L299.83,1015.19 L301.25,1015.18 L302.66,1015.17 L304.07,1015.17 L305.49,1015.16 L306.90,1015.15 L308.31,1015.13 L309.73,1015.11 L311.14,1015.09 L312.56,1015.06 L313.97,1015.02 L315.38,1014.97 L316.80,1014.91 L318.21,1014.84 L319.62,1014.75 L321.04,1014.64 L322.45,1014.51 L323.87,1014.35 L325.28,1014.16 L326.69,1013.93 L328.11,1013.65 L329.52,1013.33 L330.94,1012.94 L332.35,1012.48 L333.76,1011.95 L335.18,1011.32 L336.59,1010.59 L338.00,1009.75 L339.42,1008.77 L340.83,1007.65 L342.25,1006.37 L343.66,1004.91 L345.07,1003.25 L346.49,1001.37 L347.90,999.27 L349.31,996.91 L350.73,994.28 L352.14,991.36 L353.56,988.14 L354.97,984.60 L356.38,980.72 L357.80,976.49 L359.21,971.90 L360.62,966.94 L362.04,961.61 L363.45,955.90 L364.87,949.83 L366.28,943.39 L367.69,936.59 L369.11,929.45 L370.52,922.00 L371.94,914.25 L373.35,906.23 L374.76,897.97 L376.18,889.52 L377.59,880.92 L379.00,872.20 L380.42,863.43 L381.83,854.64 L383.25,845.89 L384.66,837.24 L386.07,828.75 L387.49,820.45 L388.90,812.42 L390.31,804.70 L391.73,797.35 L393.14,790.40 L394.56,783.91 L395.97,777.91 L397.38,772.44 L398.80,767.53 L400.21,763.20 L401.62,759.48 L403.04,756.37 L404.45,753.88 L405.87,752.02 L407.28,750.78 L408.69,750.16 L410.11,750.13 L411.52,750.69 L412.94,751.80 L414.35,753.44 L415.76,755.59 L417.18,758.20 L418.59,761.26 L420.00,764.71 L421.42,768.52 L422.83,772.66 L424.25,777.09 L425.66,781.77 L427.07,786.67 L428.49,791.75 L429.90,796.97 L431.31,802.31 L432.73,807.74 L434.14,813.22 L435.56,818.73 L436.97,824.25 L438.38,829.76 L439.80,835.23 L441.21,840.65 L442.63,846.01 L444.04,851.29 L445.45,856.48 L446.87,861.57 L448.28,866.55 L449.69,871.43 L451.11,876.18 L452.52,880.81 L453.94,885.32 L455.35,889.71 L456.76,893.96 L458.18,898.09 L459.59,902.10 L461.00,905.98 L462.42,909.74 L463.83,913.38 L465.25,916.90 L466.66,920.30 L468.07,923.59 L469.49,926.77 L470.90,929.84 L472.31,932.81 L473.73,935.68 L475.14,938.45 L476.56,941.12 L477.97,943.70 L479.38,946.20 L480.80,948.60 L482.21,950.93 L483.63,953.17 L485.04,955.33 L486.45,957.42 L487.87,959.44 L489.28,961.38 L490.69,963.26 L492.11,965.07 L493.52,966.82 L494.94,968.51 L496.35,970.14 L497.76,971.71 L499.18,973.23 L500.59,974.70 L502.00,976.11 L503.42,977.47 L504.83,978.79 L506.25,980.06 L507.66,981.29 L509.07,982.47 L510.49,983.61 L511.90,984.72 L513.32,985.78 L514.73,986.81 L516.14,987.80 L517.56,988.75 L518.97,989.68 L520.38,990.57 L521.80,991.43 L523.21,992.26 L524.63,993.06 L526.04,993.83 L527.45,994.58 L528.87,995.30 L530.28,995.99 L531.69,996.66 L533.11,997.31 L534.52,997.93 L535.94,998.54 L537.35,999.12 L538.76,999.68 L540.18,1000.22 L541.59,1000.74 L543.00,1001.25 L544.42,1001.74 L545.83,1002.21 L547.25,1002.66 L548.66,1003.10 L550.07,1003.52 L551.49,1003.93 L552.90,1004.32 L554.32,1004.70 L555.73,1005.07 L557.14,1005.42 L558.56,1005.76 L559.97,1006.09 L561.38,1006.41 L562.80,1006.72 L564.21,1007.01 L565.63,1007.30 L567.04,1007.57 L568.45,1007.84 L569.87,1008.10 L571.28,1008.34 L572.69,1008.58 L574.11,1008.81 L575.52,1009.04 L576.94,1009.25 L578.35,1009.46 L579.76,1009.66 L581.18,1009.85 L582.59,1010.04 L584.01,1010.22 L585.42,1010.39 L586.83,1010.56 L588.25,1010.72 L589.66,1010.88 L591.07,1011.03 L592.49,1011.18 L593.90,1011.32 L595.32,1011.45 L596.73,1011.58 L598.14,1011.71 L599.56,1011.83 L600.97,1011.95 L602.38,1012.06 L603.80,1012.17 L605.21,1012.28 L606.63,1012.38 L608.04,1012.48 L609.45,1012.57 L610.87,1012.66 L612.28,1012.75 L613.70,1012.84 L615.11,1012.92 L616.52,1013.00 L617.94,1013.08 L619.35,1013.15 L620.76,1013.22 L622.18,1013.29 L623.59,1013.36 L625.01,1013.42 L626.42,1013.48 L627.83,1013.54 L629.25,1013.60 L630.66,1013.66 L632.07,1013.71 L633.49,1013.76 L634.90,1013.81 L636.32,1013.86 L637.73,1013.91 L639.14,1013.95 L640.56,1014.00 L641.97,1014.04 L643.38,1014.08 L644.80,1014.12 L646.21,1014.16 L647.63,1014.19 L649.04,1014.23 L650.45,1014.26 L651.87,1014.30 L653.28,1014.33 L654.70,1014.36 L656.11,1014.39 L657.52,1014.41 L658.94,1014.44 L660.35,1014.47 L661.76,1014.49 L663.18,1014.52 L664.59,1014.54 L666.01,1014.57 L667.42,1014.59 L668.83,1014.61 L670.25,1014.63 L671.66,1014.65 L673.07,1014.67 L674.49,1014.69 L675.90,1014.71 L677.32,1014.72 L678.73,1014.74 L680.14,1014.76 L681.56,1014.77 L682.97,1014.79 L684.38,1014.80 L685.80,1014.81 L687.21,1014.83 L688.63,1014.84 L690.04,1014.85 L691.45,1014.87 L692.87,1014.88 L694.28,1014.89 L695.70,1014.90 L697.11,1014.91 L698.52,1014.92 L699.94,1014.93 L701.35,1014.94 L702.76,1014.95 L704.18,1014.96 L705.59,1014.97 L707.01,1014.97 L708.42,1014.98 L709.83,1014.99 L711.25,1015.00 L712.66,1015.00 L714.07,1015.01 L715.49,1015.02 L716.90,1015.02 L718.32,1015.03 L719.73,1015.04 L721.14,1015.04 L722.56,1015.05 L723.97,1015.05 L725.39,1015.06 L726.80,1015.06 L728.21,1015.07 L729.63,1015.07 L731.04,1015.08 L732.45,1015.08 L733.87,1015.08 L735.28,1015.09 L736.70,1015.09 L738.11,1015.10 L739.52,1015.10 L740.94,1015.10 L742.35,1015.11 L743.76,1015.11 L745.18,1015.11 L746.59,1015.12 L748.01,1015.12 L749.42,1015.12 L750.83,1015.12 L752.25,1015.13 L753.66,1015.13 L755.08,1015.13 L756.49,1015.13 L757.90,1015.14 L759.32,1015.14 L760.73,1015.14 L762.14,1015.14 L763.56,1015.15 L764.97,1015.15 L766.39,1015.15 L767.80,1015.15 L769.21,1015.15 L770.63,1015.15 L772.04,1015.16 L773.45,1015.16 L774.87,1015.16 L776.28,1015.16 L777.70,1015.16 L779.11,1015.16 L780.52,1015.16 L781.94,1015.17 L783.35,1015.17 L784.76,1015.17 L786.18,1015.17 L787.59,1015.17 L789.01,1015.17 L790.42,1015.17 L791.83,1015.17 L793.25,1015.17 L794.66,1015.17 L796.08,1015.18 L797.49,1015.18 L798.90,1015.18 L800.32,1015.18 L801.73,1015.18 L803.14,1015.18 L804.56,1015.18 L805.97,1015.18 L807.39,1015.18 L808.80,1015.18 L810.21,1015.18 L811.63,1015.18 L813.04,1015.18 L814.45,1015.18 L815.87,1015.19 L817.28,1015.19 L818.70,1015.19 L820.11,1015.19 L821.52,1015.19 L822.94,1015.19 L824.35,1015.19 L825.76,1015.19 L827.18,1015.19 L828.59,1015.19 L830.01,1015.19 L831.42,1015.19 L832.83,1015.19 L834.25,1015.19 L835.66,1015.19 L837.08,1015.19 L838.49,1015.19 L839.90,1015.19 L841.32,1015.19 L842.73,1015.19 L844.14,1015.19 L845.56,1015.19 L846.97,1015.19 L848.39,1015.19 L849.80,1015.19 L851.21,1015.19 L852.63,1015.19 L854.04,1015.19 L855.45,1015.19 L856.87,1015.19 L858.28,1015.19 L859.70,1015.20 L861.11,1015.20 L862.52,1015.20 L863.94,1015.20 L865.35,1015.20 L866.77,1015.20 L868.18,1015.20 L869.59,1015.20 L871.01,1015.20 L872.42,1015.20 L873.83,1015.20 L875.25,1015.20 L876.66,1015.20 L878.08,1015.20 L879.49,1015.20 L880.90,1015.20 L882.32,1015.20 L883.73,1015.20 L885.14,1015.20 L886.56,1015.20 L887.97,1015.20 L889.39,1015.20 L890.80,1015.20 L892.21,1015.20 L893.63,1015.20 L895.04,1015.20 L896.45,1015.20 L897.87,1015.20 L899.28,1015.20 L900.70,1015.20 L902.11,1015.20 L903.52,1015.20 L904.94,1015.20 L906.35,1015.20 L907.77,1015.20 L909.18,1015.20 L910.59,1015.20 L912.01,1015.20 L913.42,1015.20 L914.83,1015.20 L916.25,1015.20 L917.66,1015.20 L919.08,1015.20 L920.49,1015.20 L921.90,1015.20 L923.32,1015.20 L924.73,1015.20 L926.14,1015.20 L927.56,1015.20 L928.97,1015.20 L930.39,1015.20 L931.80,1015.20 L933.21,1015.20 L934.63,1015.20 L936.04,1015.20 L937.46,1015.20 L938.87,1015.20 L940.28,1015.20 L941.70,1015.20 L943.11,1015.20 L944.52,1015.20 L945.94,1015.20 L947.35,1015.20 L948.77,1015.20 L950.18,1015.20 L951.59,1015.20 L953.01,1015.20 L954.42,1015.20 L955.83,1015.20 L957.25,1015.20 L958.66,1015.20 L960.08,1015.20 L961.49,1015.20 L962.90,1015.20 L964.32,1015.20 L965.73,1015.20 L967.14,1015.20 L968.56,1015.20 L969.97,1015.20 L971.39,1015.20 L972.80,1015.20 L974.21,1015.20 L975.63,1015.20 L977.04,1015.20 L978.46,1015.20 L979.87,1015.20 L981.28,1015.20 L982.70,1015.20 L984.11,1015.20 L985.52,1015.20 L986.94,1015.20 L988.35,1015.20 L989.77,1015.20 L991.18,1015.20 L992.59,1015.20 L994.01,1015.20 L995.42,1015.20 L996.83,1015.20 L998.25,1015.20 L999.66,1015.20 L1001.08,1015.20 L1002.49,1015.20 L1003.90,1015.20 L1005.32,1015.20 L1006.73,1015.20 L1008.15,1015.20 L1009.56,1015.20 L1010.97,1015.20 L1012.39,1015.20 L1013.80,1015.20 L1015.21,1015.20 L1016.63,1015.20 L1018.04,1015.20 L1019.46,1015.20 L1020.87,1015.20 L1022.28,1015.20 L1023.70,1015.20 L1025.11,1015.20 L1026.52,1015.20 L1027.94,1015.20 L1029.35,1015.20 L1030.77,1015.20 L1032.18,1015.20 L1033.59,1015.20 L1035.01,1015.20 L1036.42,1015.20 L1037.84,1015.20 L1039.25,1015.20 L1040.66,1015.20 L1042.08,1015.20 L1043.49,1015.20 L1044.90,1015.20 L1046.32,1015.20 L1047.73,1015.20 L1049.15,1015.20 L1050.56,1015.20 L1051.97,1015.20 L1053.39,1015.20 L1054.80,1015.20 L1056.21,1015.20 L1057.63,1015.20 L1059.04,1015.20 L1060.46,1015.20 L1061.87,1015.20 L1063.28,1015.20 L1064.70,1015.20 L1066.11,1015.20 L1067.52,1015.20 L1068.94,1015.20 L1070.35,1015.20 L1071.77,1015.20 L1073.18,1015.20 L1074.59,1015.20 L1076.01,1015.20 L1077.42,1015.20 L1078.84,1015.20 L1080.25,1015.20 L1081.66,1015.20 L1083.08,1015.20 L1084.49,1015.20 L1085.90,1015.20 L1087.32,1015.20 L1088.73,1015.20 L1090.15,1015.20 L1091.56,1015.20 L1092.97,1015.20 L1094.39,1015.20" fill="none" stroke="#009900" stroke-width="8.0" stroke-linecap="butt" stroke-linejoin="round" />
<rect x="201.30" y="627.00" width="904.10" height="400.20" fill="none" stroke="#000" stroke-width="4.0"/>
<line x1="246.92" y1="1027.20" x2="246.92" y2="1042.20" stroke="#000" stroke-width="4.4" stroke-linecap="butt"/>
<line x1="317.61" y1="1027.20" x2="317.61" y2="1042.20" stroke="#000" stroke-width="4.4" stroke-linecap="butt"/>
<line x1="388.30" y1="1027.20" x2="388.30" y2="1055.50" stroke="#000" stroke-width="4.4" stroke-linecap="butt"/>
<line x1="458.99" y1="1027.20" x2="458.99" y2="1042.20" stroke="#000" stroke-width="4.4" stroke-linecap="butt"/>
<line x1="529.68" y1="1027.20" x2="529.68" y2="1042.20" stroke="#000" stroke-width="4.4" stroke-linecap="butt"/>
<line x1="600.37" y1="1027.20" x2="600.37" y2="1042.20" stroke="#000" stroke-width="4.4" stroke-linecap="butt"/>
<line x1="671.06" y1="1027.20" x2="671.06" y2="1042.20" stroke="#000" stroke-width="4.4" stroke-linecap="butt"/>
<line x1="741.75" y1="1027.20" x2="741.75" y2="1055.50" stroke="#000" stroke-width="4.4" stroke-linecap="butt"/>
<line x1="812.44" y1="1027.20" x2="812.44" y2="1042.20" stroke="#000" stroke-width="4.4" stroke-linecap="butt"/>
<line x1="883.13" y1="1027.20" x2="883.13" y2="1042.20" stroke="#000" stroke-width="4.4" stroke-linecap="butt"/>
<line x1="953.82" y1="1027.20" x2="953.82" y2="1042.20" stroke="#000" stroke-width="4.4" stroke-linecap="butt"/>
<line x1="1024.51" y1="1027.20" x2="1024.51" y2="1042.20" stroke="#000" stroke-width="4.4" stroke-linecap="butt"/>
<line x1="1095.20" y1="1027.20" x2="1095.20" y2="1055.50" stroke="#000" stroke-width="4.4" stroke-linecap="butt"/>
<line x1="201.30" y1="1015.20" x2="186.30" y2="1015.20" stroke="#000" stroke-width="4.4" stroke-linecap="butt"/>
<line x1="201.30" y1="983.68" x2="186.30" y2="983.68" stroke="#000" stroke-width="4.4" stroke-linecap="butt"/>
<line x1="201.30" y1="952.16" x2="186.30" y2="952.16" stroke="#000" stroke-width="4.4" stroke-linecap="butt"/>
<line x1="201.30" y1="920.64" x2="186.30" y2="920.64" stroke="#000" stroke-width="4.4" stroke-linecap="butt"/>
<line x1="201.30" y1="889.12" x2="186.30" y2="889.12" stroke="#000" stroke-width="4.4" stroke-linecap="butt"/>
<line x1="201.30" y1="857.60" x2="186.30" y2="857.60" stroke="#000" stroke-width="4.4" stroke-linecap="butt"/>
<line x1="201.30" y1="826.08" x2="186.30" y2="826.08" stroke="#000" stroke-width="4.4" stroke-linecap="butt"/>
<line x1="201.30" y1="794.56" x2="186.30" y2="794.56" stroke="#000" stroke-width="4.4" stroke-linecap="butt"/>
<line x1="201.30" y1="763.04" x2="186.30" y2="763.04" stroke="#000" stroke-width="4.4" stroke-linecap="butt"/>
<line x1="201.30" y1="731.52" x2="186.30" y2="731.52" stroke="#000" stroke-width="4.4" stroke-linecap="butt"/>
<line x1="201.30" y1="700.00" x2="186.30" y2="700.00" stroke="#000" stroke-width="4.4" stroke-linecap="butt"/>
<line x1="201.30" y1="668.48" x2="186.30" y2="668.48" stroke="#000" stroke-width="4.4" stroke-linecap="butt"/>
<line x1="201.30" y1="636.96" x2="186.30" y2="636.96" stroke="#000" stroke-width="4.4" stroke-linecap="butt"/>
<line x1="201.30" y1="636.96" x2="173.00" y2="636.96" stroke="#000" stroke-width="4.4" stroke-linecap="butt"/>
<line x1="201.30" y1="763.04" x2="173.00" y2="763.04" stroke="#000" stroke-width="4.4" stroke-linecap="butt"/>
<line x1="201.30" y1="889.12" x2="173.00" y2="889.12" stroke="#000" stroke-width="4.4" stroke-linecap="butt"/>
<line x1="201.30" y1="1015.20" x2="173.00" y2="1015.20" stroke="#000" stroke-width="4.4" stroke-linecap="butt"/>
<text transform="translate(91.12,652.76) scale(0.9830,1)" font-size="50.7" fill="#000" font-family="Liberation Sans, sans-serif">1.2</text>
<text transform="translate(90.62,778.84) scale(0.9830,1)" font-size="50.7" fill="#000" font-family="Liberation Sans, sans-serif">0.8</text>
<text transform="translate(90.12,904.92) scale(0.9830,1)" font-size="50.7" fill="#000" font-family="Liberation Sans, sans-serif">0.4</text>
<text transform="translate(90.62,1031.00) scale(0.9830,1)" font-size="50.7" fill="#000" font-family="Liberation Sans, sans-serif">0.0</text>
<line x1="1381.60" y1="627.00" x2="1381.60" y2="1018.90" stroke="#000" stroke-width="3.9" stroke-linecap="butt"/>
<line x1="1192.90" y1="1007.40" x2="2105.50" y2="1007.40" stroke="#000" stroke-width="3.9" stroke-linecap="butt"/>
<path d="M1274.50,1007.40 L1274.50,1007.36 L1275.93,1007.35 L1277.36,1007.34 L1278.78,1007.33 L1280.21,1007.32 L1281.64,1007.30 L1283.07,1007.28 L1284.50,1007.26 L1285.92,1007.24 L1287.35,1007.20 L1288.78,1007.17 L1290.21,1007.13 L1291.64,1007.08 L1293.06,1007.02 L1294.49,1006.95 L1295.92,1006.87 L1297.35,1006.78 L1298.78,1006.67 L1300.20,1006.55 L1301.63,1006.41 L1303.06,1006.25 L1304.49,1006.07 L1305.92,1005.85 L1307.34,1005.61 L1308.77,1005.34 L1310.20,1005.03 L1311.63,1004.68 L1313.06,1004.28 L1314.48,1003.83 L1315.91,1003.33 L1317.34,1002.76 L1318.77,1002.13 L1320.20,1001.42 L1321.62,1000.63 L1323.05,999.75 L1324.48,998.78 L1325.91,997.70 L1327.34,996.51 L1328.76,995.20 L1330.19,993.76 L1331.62,992.18 L1333.05,990.46 L1334.48,988.57 L1335.90,986.53 L1337.33,984.30 L1338.76,981.89 L1340.19,979.29 L1341.62,976.49 L1343.04,973.48 L1344.47,970.25 L1345.90,966.80 L1347.33,963.12 L1348.76,959.20 L1350.18,955.05 L1351.61,950.66 L1353.04,946.02 L1354.47,941.15 L1355.90,936.03 L1357.32,930.68 L1358.75,925.10 L1360.18,919.29 L1361.61,913.27 L1363.04,907.04 L1364.46,900.62 L1365.89,894.03 L1367.32,887.28 L1368.75,880.39 L1370.18,873.38 L1371.60,866.27 L1373.03,859.10 L1374.46,851.88 L1375.89,844.65 L1377.32,837.43 L1378.74,830.26 L1380.17,823.17 L1381.60,816.19 L1383.03,809.35 L1384.46,802.69 L1385.88,796.25 L1387.31,790.05 L1388.74,784.14 L1390.17,778.53 L1391.60,773.27 L1393.02,768.38 L1394.45,763.90 L1395.88,759.84 L1397.31,756.23 L1398.74,753.10 L1400.16,750.46 L1401.59,748.33 L1403.02,746.71 L1404.45,745.64 L1405.88,745.09 L1407.30,745.09 L1408.73,745.64 L1410.16,746.71 L1411.59,748.33 L1413.02,750.46 L1414.44,753.10 L1415.87,756.23 L1417.30,759.84 L1418.73,763.90 L1420.16,768.38 L1421.58,773.27 L1423.01,778.53 L1424.44,784.14 L1425.87,790.05 L1427.30,796.25 L1428.72,802.69 L1430.15,809.35 L1431.58,816.19 L1433.01,823.17 L1434.44,830.26 L1435.86,837.43 L1437.29,844.65 L1438.72,851.88 L1440.15,859.10 L1441.58,866.27 L1443.00,873.38 L1444.43,880.39 L1445.86,887.28 L1447.29,894.03 L1448.72,900.62 L1450.14,907.04 L1451.57,913.27 L1453.00,919.29 L1454.43,925.10 L1455.86,930.68 L1457.28,936.03 L1458.71,941.15 L1460.14,946.02 L1461.57,950.66 L1463.00,955.05 L1464.42,959.20 L1465.85,963.12 L1467.28,966.80 L1468.71,970.25 L1470.14,973.48 L1471.56,976.49 L1472.99,979.29 L1474.42,981.89 L1475.85,984.30 L1477.28,986.53 L1478.70,988.57 L1480.13,990.46 L1481.56,992.18 L1482.99,993.76 L1484.42,995.20 L1485.84,996.51 L1487.27,997.70 L1488.70,998.78 L1490.13,999.75 L1491.56,1000.63 L1492.98,1001.42 L1494.41,1002.13 L1495.84,1002.76 L1497.27,1003.33 L1498.70,1003.83 L1500.12,1004.28 L1501.55,1004.68 L1502.98,1005.03 L1504.41,1005.34 L1505.84,1005.61 L1507.26,1005.85 L1508.69,1006.07 L1510.12,1006.25 L1511.55,1006.41 L1512.98,1006.55 L1514.40,1006.67 L1515.83,1006.78 L1517.26,1006.87 L1518.69,1006.95 L1520.12,1007.02 L1521.54,1007.08 L1522.97,1007.13 L1524.40,1007.17 L1525.83,1007.20 L1527.26,1007.24 L1528.68,1007.26 L1530.11,1007.28 L1531.54,1007.30 L1532.97,1007.32 L1534.40,1007.33 L1535.82,1007.34 L1537.25,1007.35 L1538.68,1007.36 L1540.11,1007.37 L1541.54,1007.37 L1542.96,1007.38 L1544.39,1007.38 L1545.82,1007.39 L1547.25,1007.39 L1548.68,1007.39 L1550.10,1007.39 L1551.53,1007.39 L1552.96,1007.39 L1554.39,1007.40 L1555.82,1007.40 L1557.24,1007.40 L1558.67,1007.40 L1560.10,1007.40 L1561.53,1007.40 L1562.96,1007.40 L1564.38,1007.40 L1565.81,1007.40 L1565.81,1007.40" fill="#bfe6d5" stroke="#00cc66" stroke-width="1.2" stroke-linecap="butt" stroke-linejoin="round" />
<path d="M1207.00,1007.40 L1208.43,1007.40 L1209.86,1007.40 L1211.28,1007.40 L1212.71,1007.40 L1214.14,1007.40 L1215.57,1007.40 L1217.00,1007.40 L1218.42,1007.40 L1219.85,1007.40 L1221.28,1007.40 L1222.71,1007.40 L1224.14,1007.40 L1225.56,1007.40 L1226.99,1007.40 L1228.42,1007.40 L1229.85,1007.40 L1231.28,1007.40 L1232.70,1007.40 L1234.13,1007.40 L1235.56,1007.40 L1236.99,1007.40 L1238.42,1007.40 L1239.84,1007.40 L1241.27,1007.40 L1242.70,1007.40 L1244.13,1007.40 L1245.56,1007.40 L1246.98,1007.40 L1248.41,1007.40 L1249.84,1007.40 L1251.27,1007.40 L1252.70,1007.40 L1254.12,1007.40 L1255.55,1007.40 L1256.98,1007.40 L1258.41,1007.40 L1259.84,1007.40 L1261.26,1007.40 L1262.69,1007.40 L1264.12,1007.40 L1265.55,1007.40 L1266.98,1007.40 L1268.40,1007.40 L1269.83,1007.40 L1271.26,1007.40 L1272.69,1007.40 L1274.12,1007.40 L1275.54,1007.40 L1276.97,1007.40 L1278.40,1007.40 L1279.83,1007.40 L1281.26,1007.40 L1282.68,1007.40 L1284.11,1007.40 L1285.54,1007.40 L1286.97,1007.39 L1288.40,1007.39 L1289.82,1007.39 L1291.25,1007.39 L1292.68,1007.38 L1294.11,1007.38 L1295.54,1007.37 L1296.96,1007.37 L1298.39,1007.35 L1299.82,1007.34 L1301.25,1007.33 L1302.68,1007.30 L1304.10,1007.28 L1305.53,1007.25 L1306.96,1007.21 L1308.39,1007.15 L1309.82,1007.09 L1311.24,1007.02 L1312.67,1006.92 L1314.10,1006.81 L1315.53,1006.67 L1316.96,1006.50 L1318.38,1006.30 L1319.81,1006.06 L1321.24,1005.78 L1322.67,1005.43 L1324.10,1005.03 L1325.52,1004.56 L1326.95,1004.00 L1328.38,1003.35 L1329.81,1002.59 L1331.24,1001.72 L1332.66,1000.71 L1334.09,999.55 L1335.52,998.22 L1336.95,996.72 L1338.38,995.01 L1339.80,993.09 L1341.23,990.92 L1342.66,988.51 L1344.09,985.82 L1345.52,982.83 L1346.94,979.55 L1348.37,975.93 L1349.80,971.98 L1351.23,967.68 L1352.66,963.02 L1354.08,958.00 L1355.51,952.60 L1356.94,946.84 L1358.37,940.70 L1359.80,934.21 L1361.22,927.37 L1362.65,920.20 L1364.08,912.72 L1365.51,904.95 L1366.94,896.93 L1368.36,888.69 L1369.79,880.26 L1371.22,871.70 L1372.65,863.04 L1374.08,854.33 L1375.50,845.63 L1376.93,836.99 L1378.36,828.46 L1379.79,820.09 L1381.22,811.95 L1382.64,804.08 L1384.07,796.53 L1385.50,789.36 L1386.93,782.61 L1388.36,776.33 L1389.78,770.54 L1391.21,765.28 L1392.64,760.59 L1394.07,756.48 L1395.50,752.98 L1396.92,750.09 L1398.35,747.81 L1399.78,746.16 L1401.21,745.12 L1402.64,744.68 L1404.06,744.84 L1405.49,745.56 L1406.92,746.82 L1408.35,748.61 L1409.78,750.88 L1411.20,753.61 L1412.63,756.76 L1414.06,760.29 L1415.49,764.18 L1416.92,768.37 L1418.34,772.84 L1419.77,777.55 L1421.20,782.46 L1422.63,787.54 L1424.06,792.76 L1425.48,798.08 L1426.91,803.47 L1428.34,808.91 L1429.77,814.38 L1431.20,819.85 L1432.62,825.30 L1434.05,830.71 L1435.48,836.06 L1436.91,841.35 L1438.34,846.56 L1439.76,851.67 L1441.19,856.68 L1442.62,861.59 L1444.05,866.38 L1445.48,871.06 L1446.90,875.61 L1448.33,880.04 L1449.76,884.35 L1451.19,888.53 L1452.62,892.58 L1454.04,896.51 L1455.47,900.32 L1456.90,904.01 L1458.33,907.58 L1459.76,911.03 L1461.18,914.37 L1462.61,917.60 L1464.04,920.71 L1465.47,923.73 L1466.90,926.64 L1468.32,929.45 L1469.75,932.16 L1471.18,934.79 L1472.61,937.32 L1474.04,939.76 L1475.46,942.12 L1476.89,944.40 L1478.32,946.59 L1479.75,948.71 L1481.18,950.76 L1482.60,952.74 L1484.03,954.65 L1485.46,956.49 L1486.89,958.26 L1488.32,959.98 L1489.74,961.63 L1491.17,963.23 L1492.60,964.77 L1494.03,966.26 L1495.46,967.70 L1496.88,969.08 L1498.31,970.42 L1499.74,971.71 L1501.17,972.96 L1502.60,974.16 L1504.02,975.32 L1505.45,976.44 L1506.88,977.52 L1508.31,978.56 L1509.74,979.57 L1511.16,980.54 L1512.59,981.48 L1514.02,982.38 L1515.45,983.26 L1516.88,984.10 L1518.30,984.91 L1519.73,985.70 L1521.16,986.45 L1522.59,987.18 L1524.02,987.89 L1525.44,988.57 L1526.87,989.23 L1528.30,989.86 L1529.73,990.47 L1531.16,991.07 L1532.58,991.64 L1534.01,992.19 L1535.44,992.72 L1536.87,993.23 L1538.30,993.72 L1539.72,994.20 L1541.15,994.66 L1542.58,995.11 L1544.01,995.54 L1545.44,995.95 L1546.86,996.35 L1548.29,996.74 L1549.72,997.11 L1551.15,997.47 L1552.58,997.81 L1554.00,998.15 L1555.43,998.47 L1556.86,998.78 L1558.29,999.08 L1559.72,999.37 L1561.14,999.65 L1562.57,999.92 L1564.00,1000.18 L1565.43,1000.44 L1566.86,1000.68 L1568.28,1000.91 L1569.71,1001.14 L1571.14,1001.36 L1572.57,1001.57 L1574.00,1001.77 L1575.42,1001.97 L1576.85,1002.16 L1578.28,1002.34 L1579.71,1002.52 L1581.14,1002.69 L1582.56,1002.85 L1583.99,1003.01 L1585.42,1003.17 L1586.85,1003.31 L1588.28,1003.46 L1589.70,1003.59 L1591.13,1003.73 L1592.56,1003.85 L1593.99,1003.98 L1595.42,1004.10 L1596.84,1004.21 L1598.27,1004.32 L1599.70,1004.43 L1601.13,1004.54 L1602.56,1004.64 L1603.98,1004.73 L1605.41,1004.82 L1606.84,1004.91 L1608.27,1005.00 L1609.70,1005.09 L1611.12,1005.17 L1612.55,1005.24 L1613.98,1005.32 L1615.41,1005.39 L1616.84,1005.46 L1618.26,1005.53 L1619.69,1005.59 L1621.12,1005.66 L1622.55,1005.72 L1623.98,1005.78 L1625.40,1005.83 L1626.83,1005.89 L1628.26,1005.94 L1629.69,1005.99 L1631.12,1006.04 L1632.54,1006.09 L1633.97,1006.13 L1635.40,1006.18 L1636.83,1006.22 L1638.26,1006.26 L1639.68,1006.30 L1641.11,1006.34 L1642.54,1006.38 L1643.97,1006.41 L1645.40,1006.45 L1646.82,1006.48 L1648.25,1006.51 L1649.68,1006.54 L1651.11,1006.57 L1652.54,1006.60 L1653.96,1006.63 L1655.39,1006.66 L1656.82,1006.68 L1658.25,1006.71 L1659.68,1006.73 L1661.10,1006.76 L1662.53,1006.78 L1663.96,1006.80 L1665.39,1006.82 L1666.82,1006.84 L1668.24,1006.86 L1669.67,1006.88 L1671.10,1006.90 L1672.53,1006.92 L1673.96,1006.93 L1675.38,1006.95 L1676.81,1006.96 L1678.24,1006.98 L1679.67,1006.99 L1681.10,1007.01 L1682.52,1007.02 L1683.95,1007.04 L1685.38,1007.05 L1686.81,1007.06 L1688.24,1007.07 L1689.66,1007.08 L1691.09,1007.09 L1692.52,1007.11 L1693.95,1007.12 L1695.38,1007.13 L1696.80,1007.13 L1698.23,1007.14 L1699.66,1007.15 L1701.09,1007.16 L1702.52,1007.17 L1703.94,1007.18 L1705.37,1007.19 L1706.80,1007.19 L1708.23,1007.20 L1709.66,1007.21 L1711.08,1007.21 L1712.51,1007.22 L1713.94,1007.23 L1715.37,1007.23 L1716.80,1007.24 L1718.22,1007.24 L1719.65,1007.25 L1721.08,1007.26 L1722.51,1007.26 L1723.94,1007.27 L1725.36,1007.27 L1726.79,1007.27 L1728.22,1007.28 L1729.65,1007.28 L1731.08,1007.29 L1732.50,1007.29 L1733.93,1007.29 L1735.36,1007.30 L1736.79,1007.30 L1738.22,1007.31 L1739.64,1007.31 L1741.07,1007.31 L1742.50,1007.31 L1743.93,1007.32 L1745.36,1007.32 L1746.78,1007.32 L1748.21,1007.33 L1749.64,1007.33 L1751.07,1007.33 L1752.50,1007.33 L1753.92,1007.34 L1755.35,1007.34 L1756.78,1007.34 L1758.21,1007.34 L1759.64,1007.34 L1761.06,1007.35 L1762.49,1007.35 L1763.92,1007.35 L1765.35,1007.35 L1766.78,1007.35 L1768.20,1007.36 L1769.63,1007.36 L1771.06,1007.36 L1772.49,1007.36 L1773.92,1007.36 L1775.34,1007.36 L1776.77,1007.36 L1778.20,1007.37 L1779.63,1007.37 L1781.06,1007.37 L1782.48,1007.37 L1783.91,1007.37 L1785.34,1007.37 L1786.77,1007.37 L1788.20,1007.37 L1789.62,1007.37 L1791.05,1007.37 L1792.48,1007.38 L1793.91,1007.38 L1795.34,1007.38 L1796.76,1007.38 L1798.19,1007.38 L1799.62,1007.38 L1801.05,1007.38 L1802.48,1007.38 L1803.90,1007.38 L1805.33,1007.38 L1806.76,1007.38 L1808.19,1007.38 L1809.62,1007.38 L1811.04,1007.38 L1812.47,1007.39 L1813.90,1007.39 L1815.33,1007.39 L1816.76,1007.39 L1818.18,1007.39 L1819.61,1007.39 L1821.04,1007.39 L1822.47,1007.39 L1823.90,1007.39 L1825.32,1007.39 L1826.75,1007.39 L1828.18,1007.39 L1829.61,1007.39 L1831.04,1007.39 L1832.46,1007.39 L1833.89,1007.39 L1835.32,1007.39 L1836.75,1007.39 L1838.18,1007.39 L1839.60,1007.39 L1841.03,1007.39 L1842.46,1007.39 L1843.89,1007.39 L1845.32,1007.39 L1846.74,1007.39 L1848.17,1007.39 L1849.60,1007.39 L1851.03,1007.39 L1852.46,1007.39 L1853.88,1007.39 L1855.31,1007.39 L1856.74,1007.40 L1858.17,1007.40 L1859.60,1007.40 L1861.02,1007.40 L1862.45,1007.40 L1863.88,1007.40 L1865.31,1007.40 L1866.74,1007.40 L1868.16,1007.40 L1869.59,1007.40 L1871.02,1007.40 L1872.45,1007.40 L1873.88,1007.40 L1875.30,1007.40 L1876.73,1007.40 L1878.16,1007.40 L1879.59,1007.40 L1881.02,1007.40 L1882.44,1007.40 L1883.87,1007.40 L1885.30,1007.40 L1886.73,1007.40 L1888.16,1007.40 L1889.58,1007.40 L1891.01,1007.40 L1892.44,1007.40 L1893.87,1007.40 L1895.30,1007.40 L1896.72,1007.40 L1898.15,1007.40 L1899.58,1007.40 L1901.01,1007.40 L1902.44,1007.40 L1903.86,1007.40 L1905.29,1007.40 L1906.72,1007.40 L1908.15,1007.40 L1909.58,1007.40 L1911.00,1007.40 L1912.43,1007.40 L1913.86,1007.40 L1915.29,1007.40 L1916.72,1007.40 L1918.14,1007.40 L1919.57,1007.40 L1921.00,1007.40 L1922.43,1007.40 L1923.86,1007.40 L1925.28,1007.40 L1926.71,1007.40 L1928.14,1007.40 L1929.57,1007.40 L1931.00,1007.40 L1932.42,1007.40 L1933.85,1007.40 L1935.28,1007.40 L1936.71,1007.40 L1938.14,1007.40 L1939.56,1007.40 L1940.99,1007.40 L1942.42,1007.40 L1943.85,1007.40 L1945.28,1007.40 L1946.70,1007.40 L1948.13,1007.40 L1949.56,1007.40 L1950.99,1007.40 L1952.42,1007.40 L1953.84,1007.40 L1955.27,1007.40 L1956.70,1007.40 L1958.13,1007.40 L1959.56,1007.40 L1960.98,1007.40 L1962.41,1007.40 L1963.84,1007.40 L1965.27,1007.40 L1966.70,1007.40 L1968.12,1007.40 L1969.55,1007.40 L1970.98,1007.40 L1972.41,1007.40 L1973.84,1007.40 L1975.26,1007.40 L1976.69,1007.40 L1978.12,1007.40 L1979.55,1007.40 L1980.98,1007.40 L1982.40,1007.40 L1983.83,1007.40 L1985.26,1007.40 L1986.69,1007.40 L1988.12,1007.40 L1989.54,1007.40 L1990.97,1007.40 L1992.40,1007.40 L1993.83,1007.40 L1995.26,1007.40 L1996.68,1007.40 L1998.11,1007.40 L1999.54,1007.40 L2000.97,1007.40 L2002.40,1007.40 L2003.82,1007.40 L2005.25,1007.40 L2006.68,1007.40 L2008.11,1007.40 L2009.54,1007.40 L2010.96,1007.40 L2012.39,1007.40 L2013.82,1007.40 L2015.25,1007.40 L2016.68,1007.40 L2018.10,1007.40 L2019.53,1007.40 L2020.96,1007.40 L2022.39,1007.40 L2023.82,1007.40 L2025.24,1007.40 L2026.67,1007.40 L2028.10,1007.40 L2029.53,1007.40 L2030.96,1007.40 L2032.38,1007.40 L2033.81,1007.40 L2035.24,1007.40 L2036.67,1007.40 L2038.10,1007.40 L2039.52,1007.40 L2040.95,1007.40 L2042.38,1007.40 L2043.81,1007.40 L2045.24,1007.40 L2046.66,1007.40 L2048.09,1007.40 L2049.52,1007.40 L2050.95,1007.40 L2052.38,1007.40 L2053.80,1007.40 L2055.23,1007.40 L2056.66,1007.40 L2058.09,1007.40 L2059.52,1007.40 L2060.94,1007.40 L2062.37,1007.40 L2063.80,1007.40 L2065.23,1007.40 L2066.66,1007.40 L2068.08,1007.40 L2069.51,1007.40 L2070.94,1007.40 L2072.37,1007.40 L2073.80,1007.40 L2075.22,1007.40 L2076.65,1007.40 L2078.08,1007.40 L2079.51,1007.40 L2080.94,1007.40 L2082.36,1007.40 L2083.79,1007.40 L2085.22,1007.40 L2086.65,1007.40 L2088.08,1007.40 L2089.50,1007.40 L2090.93,1007.40 L2092.36,1007.40 L2093.79,1007.40 L2095.22,1007.40" fill="none" stroke="#009900" stroke-width="8.8" stroke-linecap="butt" stroke-linejoin="round" />
<rect x="1192.90" y="627.00" width="912.60" height="391.90" fill="none" stroke="#000" stroke-width="4.0"/>
<line x1="1238.80" y1="1018.90" x2="1238.80" y2="1033.90" stroke="#000" stroke-width="4.4" stroke-linecap="butt"/>
<line x1="1310.20" y1="1018.90" x2="1310.20" y2="1033.90" stroke="#000" stroke-width="4.4" stroke-linecap="butt"/>
<line x1="1381.60" y1="1018.90" x2="1381.60" y2="1047.20" stroke="#000" stroke-width="4.4" stroke-linecap="butt"/>
<line x1="1453.00" y1="1018.90" x2="1453.00" y2="1033.90" stroke="#000" stroke-width="4.4" stroke-linecap="butt"/>
<line x1="1524.40" y1="1018.90" x2="1524.40" y2="1033.90" stroke="#000" stroke-width="4.4" stroke-linecap="butt"/>
<line x1="1595.80" y1="1018.90" x2="1595.80" y2="1033.90" stroke="#000" stroke-width="4.4" stroke-linecap="butt"/>
<line x1="1667.20" y1="1018.90" x2="1667.20" y2="1033.90" stroke="#000" stroke-width="4.4" stroke-linecap="butt"/>
<line x1="1738.60" y1="1018.90" x2="1738.60" y2="1047.20" stroke="#000" stroke-width="4.4" stroke-linecap="butt"/>
<line x1="1810.00" y1="1018.90" x2="1810.00" y2="1033.90" stroke="#000" stroke-width="4.4" stroke-linecap="butt"/>
<line x1="1881.40" y1="1018.90" x2="1881.40" y2="1033.90" stroke="#000" stroke-width="4.4" stroke-linecap="butt"/>
<line x1="1952.80" y1="1018.90" x2="1952.80" y2="1033.90" stroke="#000" stroke-width="4.4" stroke-linecap="butt"/>
<line x1="2024.20" y1="1018.90" x2="2024.20" y2="1033.90" stroke="#000" stroke-width="4.4" stroke-linecap="butt"/>
<line x1="2095.60" y1="1018.90" x2="2095.60" y2="1047.20" stroke="#000" stroke-width="4.4" stroke-linecap="butt"/>
<line x1="1192.90" y1="945.70" x2="1177.90" y2="945.70" stroke="#000" stroke-width="4.4" stroke-linecap="butt"/>
<line x1="1192.90" y1="822.30" x2="1177.90" y2="822.30" stroke="#000" stroke-width="4.4" stroke-linecap="butt"/>
<line x1="1192.90" y1="698.90" x2="1177.90" y2="698.90" stroke="#000" stroke-width="4.4" stroke-linecap="butt"/>
<line x1="1192.90" y1="637.20" x2="1164.60" y2="637.20" stroke="#000" stroke-width="4.4" stroke-linecap="butt"/>
<line x1="1192.90" y1="760.60" x2="1164.60" y2="760.60" stroke="#000" stroke-width="4.4" stroke-linecap="butt"/>
<line x1="1192.90" y1="884.00" x2="1164.60" y2="884.00" stroke="#000" stroke-width="4.4" stroke-linecap="butt"/>
<line x1="1192.90" y1="1007.40" x2="1164.60" y2="1007.40" stroke="#000" stroke-width="4.4" stroke-linecap="butt"/>
<line x1="2105.50" y1="945.70" x2="2120.50" y2="945.70" stroke="#000" stroke-width="4.4" stroke-linecap="butt"/>
<line x1="2105.50" y1="822.30" x2="2120.50" y2="822.30" stroke="#000" stroke-width="4.4" stroke-linecap="butt"/>
<line x1="2105.50" y1="698.90" x2="2120.50" y2="698.90" stroke="#000" stroke-width="4.4" stroke-linecap="butt"/>
<line x1="2105.50" y1="637.20" x2="2133.80" y2="637.20" stroke="#000" stroke-width="4.4" stroke-linecap="butt"/>
<line x1="2105.50" y1="760.60" x2="2133.80" y2="760.60" stroke="#000" stroke-width="4.4" stroke-linecap="butt"/>
<line x1="2105.50" y1="884.00" x2="2133.80" y2="884.00" stroke="#000" stroke-width="4.4" stroke-linecap="butt"/>
<line x1="2105.50" y1="1007.40" x2="2133.80" y2="1007.40" stroke="#000" stroke-width="4.4" stroke-linecap="butt"/>
<text transform="translate(2164.81,653.00) scale(0.983,1)" font-size="50.7" fill="#000" font-family="Liberation Sans, sans-serif">0.3</text>
<text transform="translate(2164.81,776.40) scale(0.983,1)" font-size="50.7" fill="#000" font-family="Liberation Sans, sans-serif">0.2</text>
<text transform="translate(2164.81,899.80) scale(0.983,1)" font-size="50.7" fill="#000" font-family="Liberation Sans, sans-serif">0.1</text>
<text transform="translate(2164.81,1023.20) scale(0.983,1)" font-size="50.7" fill="#000" font-family="Liberation Sans, sans-serif">0.0</text>
<line x1="388.70" y1="1073.00" x2="388.70" y2="1468.70" stroke="#000" stroke-width="3.9" stroke-linecap="butt"/>
<line x1="201.30" y1="1179.00" x2="1109.80" y2="1179.00" stroke="#000" stroke-width="3.9" stroke-linecap="butt"/>
<path d="M211.90,1179.00 L213.80,1179.00" fill="none" stroke="#ff8040" stroke-width="8.0" stroke-linecap="butt" stroke-linejoin="round" />
<path d="M220.40,1179.00 L234.90,1179.00" fill="none" stroke="#ff8040" stroke-width="8.0" stroke-linecap="butt" stroke-linejoin="round" />
<path d="M242.00,1179.00 L243.42,1179.00 L244.84,1179.00 L246.27,1179.00 L247.69,1179.00 L249.11,1179.00 L250.53,1179.00 L251.96,1179.00 L253.38,1179.00 L254.80,1179.00 L256.22,1179.00 L257.64,1179.00 L259.07,1179.00 L260.49,1179.00 L261.91,1179.00 L263.33,1179.00 L264.76,1179.00 L266.18,1179.00 L267.60,1179.00 L269.02,1179.00 L270.44,1179.00 L271.87,1179.00 L273.29,1179.00 L274.71,1179.00 L276.13,1179.00 L277.56,1179.00 L278.98,1179.00 L280.40,1179.00 L281.82,1179.00 L283.24,1179.00 L284.67,1179.00 L286.09,1179.00 L287.51,1179.00 L288.93,1179.00 L290.35,1179.00 L291.78,1179.00 L293.20,1179.00 L294.62,1179.00 L296.04,1179.00 L297.47,1179.00 L298.89,1179.00 L300.31,1179.00 L301.73,1179.00 L303.15,1179.00 L304.58,1179.00 L306.00,1179.00 L307.42,1179.00 L308.84,1179.00 L310.27,1179.00 L311.69,1179.00 L313.11,1179.00 L314.53,1179.00 L315.95,1179.00 L317.38,1179.00 L318.80,1179.00 L320.22,1179.00 L321.64,1179.00 L323.07,1179.00 L324.49,1179.00 L325.91,1179.00 L327.33,1179.01 L328.75,1179.01 L330.18,1179.01 L331.60,1179.01 L333.02,1179.02 L334.44,1179.02 L335.87,1179.03 L337.29,1179.03 L338.71,1179.04 L340.13,1179.05 L341.55,1179.07 L342.98,1179.09 L344.40,1179.11 L345.82,1179.14 L347.24,1179.17 L348.67,1179.21 L350.09,1179.26 L351.51,1179.32 L352.93,1179.39 L354.35,1179.48 L355.78,1179.58 L357.20,1179.71 L358.62,1179.85 L360.04,1180.03 L361.46,1180.23 L362.89,1180.47 L364.31,1180.75 L365.73,1181.07 L367.15,1181.44 L368.58,1181.87 L370.00,1182.36 L371.42,1182.92 L372.84,1183.56 L374.26,1184.28 L375.69,1185.10 L377.11,1186.01 L378.53,1187.04 L379.95,1188.17 L381.38,1189.44 L382.80,1190.83 L384.22,1192.37 L385.64,1194.05 L387.06,1195.89 L388.49,1197.89 L389.91,1200.05 L391.33,1202.39 L392.75,1204.90 L394.18,1207.59 L395.60,1210.47 L397.02,1213.52 L398.44,1216.75 L399.86,1220.17 L401.29,1223.76 L402.71,1227.52 L404.13,1231.45 L405.55,1235.54 L406.98,1239.78 L408.40,1244.17 L409.82,1248.68 L411.24,1253.32 L412.66,1258.07 L414.09,1262.92 L415.51,1267.85 L416.93,1272.86 L418.35,1277.92 L419.77,1283.02 L421.20,1288.16 L422.62,1293.31 L424.04,1298.46 L425.46,1303.60 L426.89,1308.71 L428.31,1313.79 L429.73,1318.83 L431.15,1323.80 L432.57,1328.71 L434.00,1333.54 L435.42,1338.29 L436.84,1342.94 L438.26,1347.50 L439.69,1351.95 L441.11,1356.29 L442.53,1360.52 L443.95,1364.64 L445.37,1368.63 L446.80,1372.51 L448.22,1376.27 L449.64,1379.90 L451.06,1383.42 L452.49,1386.82 L453.91,1390.09 L455.33,1393.25 L456.75,1396.30 L458.17,1399.23 L459.60,1402.05 L461.02,1404.76 L462.44,1407.36 L463.86,1409.87 L465.29,1412.27 L466.71,1414.57 L468.13,1416.78 L469.55,1418.90 L470.97,1420.92 L472.40,1422.86 L473.82,1424.72 L475.24,1426.50 L476.66,1428.20 L478.09,1429.83 L479.51,1431.38 L480.93,1432.87 L482.35,1434.28 L483.77,1435.63 L485.20,1436.92 L486.62,1438.15 L488.04,1439.32 L489.46,1440.44 L490.88,1441.50 L492.31,1442.51 L493.73,1443.47 L495.15,1444.38 L496.57,1445.25 L498.00,1446.07 L499.42,1446.85 L500.84,1447.58 L502.26,1448.28 L503.68,1448.94 L505.11,1449.56 L506.53,1450.15 L507.95,1450.70 L509.37,1451.22 L510.80,1451.71 L512.22,1452.17 L513.64,1452.60 L515.06,1453.00 L516.48,1453.37 L517.91,1453.72 L519.33,1454.04 L520.75,1454.33 L522.17,1454.61 L523.60,1454.86 L525.02,1455.09 L526.44,1455.30 L527.86,1455.49 L529.28,1455.66 L530.71,1455.81 L532.13,1455.94 L533.55,1456.06 L534.97,1456.16 L536.40,1456.24 L537.82,1456.31 L539.24,1456.37 L540.66,1456.41 L542.08,1456.43 L543.51,1456.45 L544.93,1456.45 L546.35,1456.43 L547.77,1456.41 L549.20,1456.38 L550.62,1456.33 L552.04,1456.28 L553.46,1456.21 L554.88,1456.13 L556.31,1456.05 L557.73,1455.96 L559.15,1455.85 L560.57,1455.74 L562.00,1455.63 L563.42,1455.50 L564.84,1455.37 L566.26,1455.23 L567.68,1455.08 L569.11,1454.93 L570.53,1454.77 L571.95,1454.60 L573.37,1454.43 L574.79,1454.26 L576.22,1454.07 L577.64,1453.89 L579.06,1453.69 L580.48,1453.50 L581.91,1453.30 L583.33,1453.09 L584.75,1452.88 L586.17,1452.67 L587.59,1452.45 L589.02,1452.23 L590.44,1452.01 L591.86,1451.78 L593.28,1451.55 L594.71,1451.31 L596.13,1451.08 L597.55,1450.84 L598.97,1450.59 L600.39,1450.35 L601.82,1450.10 L603.24,1449.85 L604.66,1449.60 L606.08,1449.34 L607.51,1449.08 L608.93,1448.83 L610.35,1448.57 L611.77,1448.30 L613.19,1448.04 L614.62,1447.77 L616.04,1447.50 L617.46,1447.23 L618.88,1446.96 L620.31,1446.69 L621.73,1446.42 L623.15,1446.14 L624.57,1445.87 L625.99,1445.59 L627.42,1445.31 L628.84,1445.03 L630.26,1444.75 L631.68,1444.47 L633.11,1444.19 L634.53,1443.91 L635.95,1443.62 L637.37,1443.34 L638.79,1443.05 L640.22,1442.77 L641.64,1442.48 L643.06,1442.19 L644.48,1441.91 L645.90,1441.62 L647.33,1441.33 L648.75,1441.04 L650.17,1440.75 L651.59,1440.46 L653.02,1440.17 L654.44,1439.88 L655.86,1439.59 L657.28,1439.30 L658.70,1439.00 L660.13,1438.71 L661.55,1438.42 L662.97,1438.13 L664.39,1437.84 L665.82,1437.54 L667.24,1437.25 L668.66,1436.96 L670.08,1436.66 L671.50,1436.37 L672.93,1436.08 L674.35,1435.78 L675.77,1435.49 L677.19,1435.20 L678.62,1434.90 L680.04,1434.61 L681.46,1434.32 L682.88,1434.02 L684.30,1433.73 L685.73,1433.44 L687.15,1433.14 L688.57,1432.85 L689.99,1432.56 L691.42,1432.26 L692.84,1431.97 L694.26,1431.68 L695.68,1431.38 L697.10,1431.09 L698.53,1430.80 L699.95,1430.51 L701.37,1430.21 L702.79,1429.92 L704.21,1429.63 L705.64,1429.34 L707.06,1429.05 L708.48,1428.76 L709.90,1428.46 L711.33,1428.17 L712.75,1427.88 L714.17,1427.59 L715.59,1427.30 L717.01,1427.01 L718.44,1426.72 L719.86,1426.43 L721.28,1426.14 L722.70,1425.85 L724.13,1425.56 L725.55,1425.27 L726.97,1424.99 L728.39,1424.70 L729.81,1424.41 L731.24,1424.12 L732.66,1423.83 L734.08,1423.55 L735.50,1423.26 L736.93,1422.97 L738.35,1422.69 L739.77,1422.40 L741.19,1422.11 L742.61,1421.83 L744.04,1421.54 L745.46,1421.26 L746.88,1420.97 L748.30,1420.69 L749.73,1420.40 L751.15,1420.12 L752.57,1419.83 L753.99,1419.55 L755.41,1419.27 L756.84,1418.98 L758.26,1418.70 L759.68,1418.42 L761.10,1418.14 L762.53,1417.86 L763.95,1417.57 L765.37,1417.29 L766.79,1417.01 L768.21,1416.73 L769.64,1416.45 L771.06,1416.17 L772.48,1415.89 L773.90,1415.61 L775.33,1415.33 L776.75,1415.05 L778.17,1414.77 L779.59,1414.50 L781.01,1414.22 L782.44,1413.94 L783.86,1413.66 L785.28,1413.39 L786.70,1413.11 L788.12,1412.83 L789.55,1412.56 L790.97,1412.28 L792.39,1412.01 L793.81,1411.73 L795.24,1411.46 L796.66,1411.18 L798.08,1410.91 L799.50,1410.63 L800.92,1410.36 L802.35,1410.09 L803.77,1409.81 L805.19,1409.54 L806.61,1409.27 L808.04,1409.00 L809.46,1408.72 L810.88,1408.45 L812.30,1408.18 L813.72,1407.91 L815.15,1407.64 L816.57,1407.37 L817.99,1407.10 L819.41,1406.83 L820.84,1406.56 L822.26,1406.29 L823.68,1406.02 L825.10,1405.76 L826.52,1405.49 L827.95,1405.22 L829.37,1404.95 L830.79,1404.68 L832.21,1404.42 L833.64,1404.15 L835.06,1403.89 L836.48,1403.62 L837.90,1403.35 L839.32,1403.09 L840.75,1402.82 L842.17,1402.56 L843.59,1402.29 L845.01,1402.03 L846.43,1401.77 L847.86,1401.50 L849.28,1401.24 L850.70,1400.98 L852.12,1400.71 L853.55,1400.45 L854.97,1400.19 L856.39,1399.93 L857.81,1399.67 L859.23,1399.41 L860.66,1399.15 L862.08,1398.89 L863.50,1398.63 L864.92,1398.37 L866.35,1398.11 L867.77,1397.85 L869.19,1397.59 L870.61,1397.33 L872.03,1397.07 L873.46,1396.81 L874.88,1396.56 L876.30,1396.30 L877.72,1396.04 L879.15,1395.79 L880.57,1395.53 L881.99,1395.27 L883.41,1395.02 L884.83,1394.76 L886.26,1394.51 L887.68,1394.25 L889.10,1394.00 L890.52,1393.74 L891.95,1393.49 L893.37,1393.24 L894.79,1392.98 L896.21,1392.73 L897.63,1392.48 L899.06,1392.22 L900.48,1391.97 L901.90,1391.72 L903.32,1391.47 L904.75,1391.22 L906.17,1390.97 L907.59,1390.71 L909.01,1390.46 L910.43,1390.21 L911.86,1389.96 L913.28,1389.71 L914.70,1389.47 L916.12,1389.22 L917.55,1388.97 L918.97,1388.72 L920.39,1388.47 L921.81,1388.22 L923.23,1387.98 L924.66,1387.73 L926.08,1387.48 L927.50,1387.24 L928.92,1386.99 L930.34,1386.74 L931.77,1386.50 L933.19,1386.25 L934.61,1386.01 L936.03,1385.76 L937.46,1385.52 L938.88,1385.27 L940.30,1385.03 L941.72,1384.78 L943.14,1384.54 L944.57,1384.30 L945.99,1384.06 L947.41,1383.81 L948.83,1383.57 L950.26,1383.33 L951.68,1383.09 L953.10,1382.85 L954.52,1382.60 L955.94,1382.36 L957.37,1382.12 L958.79,1381.88 L960.21,1381.64 L961.63,1381.40 L963.06,1381.16 L964.48,1380.92 L965.90,1380.69 L967.32,1380.45 L968.74,1380.21 L970.17,1379.97 L971.59,1379.73 L973.01,1379.50 L974.43,1379.26 L975.86,1379.02 L977.28,1378.78 L978.70,1378.55 L980.12,1378.31 L981.54,1378.08 L982.97,1377.84 L984.39,1377.61 L985.81,1377.37 L987.23,1377.14 L988.65,1376.90 L990.08,1376.67 L991.50,1376.43 L992.92,1376.20 L994.34,1375.97 L995.77,1375.73 L997.19,1375.50 L998.61,1375.27 L1000.03,1375.04 L1001.45,1374.80 L1002.88,1374.57 L1004.30,1374.34 L1005.72,1374.11 L1007.14,1373.88 L1008.57,1373.65 L1009.99,1373.42 L1011.41,1373.19 L1012.83,1372.96 L1014.25,1372.73 L1015.68,1372.50 L1017.10,1372.27 L1018.52,1372.04 L1019.94,1371.81 L1021.37,1371.59 L1022.79,1371.36 L1024.21,1371.13 L1025.63,1370.90 L1027.05,1370.68 L1028.48,1370.45 L1029.90,1370.22 L1031.32,1370.00 L1032.74,1369.77 L1034.17,1369.55 L1035.59,1369.32 L1037.01,1369.10 L1038.43,1368.87 L1039.85,1368.65 L1041.28,1368.42 L1042.70,1368.20 L1044.12,1367.97 L1045.54,1367.75 L1046.97,1367.53 L1048.39,1367.30 L1049.81,1367.08 L1051.23,1366.86 L1052.65,1366.64 L1054.08,1366.41 L1055.50,1366.19 L1056.92,1365.97 L1058.34,1365.75 L1059.77,1365.53 L1061.19,1365.31 L1062.61,1365.09 L1064.03,1364.87 L1065.45,1364.65 L1066.88,1364.43 L1068.30,1364.21 L1069.72,1363.99 L1071.14,1363.77 L1072.56,1363.55 L1073.99,1363.33 L1075.41,1363.12 L1076.83,1362.90 L1078.25,1362.68 L1079.68,1362.46 L1081.10,1362.25 L1082.52,1362.03 L1083.94,1361.81 L1085.36,1361.60 L1086.79,1361.38 L1088.21,1361.17 L1089.63,1360.95 L1091.05,1360.73 L1092.48,1360.52 L1093.90,1360.30 L1095.32,1360.09 L1096.74,1359.88 L1098.16,1359.66 L1099.59,1359.45" fill="none" stroke="#ff8040" stroke-width="8.0" stroke-linecap="butt" stroke-linejoin="round" />
<rect x="201.30" y="1073.00" width="908.50" height="395.70" fill="none" stroke="#000" stroke-width="4.0"/>
<line x1="246.48" y1="1468.70" x2="246.48" y2="1483.70" stroke="#000" stroke-width="4.4" stroke-linecap="butt"/>
<line x1="317.59" y1="1468.70" x2="317.59" y2="1483.70" stroke="#000" stroke-width="4.4" stroke-linecap="butt"/>
<line x1="388.70" y1="1468.70" x2="388.70" y2="1497.00" stroke="#000" stroke-width="4.4" stroke-linecap="butt"/>
<line x1="459.81" y1="1468.70" x2="459.81" y2="1483.70" stroke="#000" stroke-width="4.4" stroke-linecap="butt"/>
<line x1="530.92" y1="1468.70" x2="530.92" y2="1483.70" stroke="#000" stroke-width="4.4" stroke-linecap="butt"/>
<line x1="602.03" y1="1468.70" x2="602.03" y2="1483.70" stroke="#000" stroke-width="4.4" stroke-linecap="butt"/>
<line x1="673.14" y1="1468.70" x2="673.14" y2="1483.70" stroke="#000" stroke-width="4.4" stroke-linecap="butt"/>
<line x1="744.25" y1="1468.70" x2="744.25" y2="1497.00" stroke="#000" stroke-width="4.4" stroke-linecap="butt"/>
<line x1="815.36" y1="1468.70" x2="815.36" y2="1483.70" stroke="#000" stroke-width="4.4" stroke-linecap="butt"/>
<line x1="886.47" y1="1468.70" x2="886.47" y2="1483.70" stroke="#000" stroke-width="4.4" stroke-linecap="butt"/>
<line x1="957.58" y1="1468.70" x2="957.58" y2="1483.70" stroke="#000" stroke-width="4.4" stroke-linecap="butt"/>
<line x1="1028.69" y1="1468.70" x2="1028.69" y2="1483.70" stroke="#000" stroke-width="4.4" stroke-linecap="butt"/>
<line x1="1099.80" y1="1468.70" x2="1099.80" y2="1497.00" stroke="#000" stroke-width="4.4" stroke-linecap="butt"/>
<line x1="201.30" y1="1441.68" x2="186.30" y2="1441.68" stroke="#000" stroke-width="4.4" stroke-linecap="butt"/>
<line x1="201.30" y1="1417.80" x2="186.30" y2="1417.80" stroke="#000" stroke-width="4.4" stroke-linecap="butt"/>
<line x1="201.30" y1="1393.92" x2="186.30" y2="1393.92" stroke="#000" stroke-width="4.4" stroke-linecap="butt"/>
<line x1="201.30" y1="1370.04" x2="186.30" y2="1370.04" stroke="#000" stroke-width="4.4" stroke-linecap="butt"/>
<line x1="201.30" y1="1346.16" x2="186.30" y2="1346.16" stroke="#000" stroke-width="4.4" stroke-linecap="butt"/>
<line x1="201.30" y1="1322.28" x2="186.30" y2="1322.28" stroke="#000" stroke-width="4.4" stroke-linecap="butt"/>
<line x1="201.30" y1="1298.40" x2="186.30" y2="1298.40" stroke="#000" stroke-width="4.4" stroke-linecap="butt"/>
<line x1="201.30" y1="1274.52" x2="186.30" y2="1274.52" stroke="#000" stroke-width="4.4" stroke-linecap="butt"/>
<line x1="201.30" y1="1250.64" x2="186.30" y2="1250.64" stroke="#000" stroke-width="4.4" stroke-linecap="butt"/>
<line x1="201.30" y1="1226.76" x2="186.30" y2="1226.76" stroke="#000" stroke-width="4.4" stroke-linecap="butt"/>
<line x1="201.30" y1="1202.88" x2="186.30" y2="1202.88" stroke="#000" stroke-width="4.4" stroke-linecap="butt"/>
<line x1="201.30" y1="1179.00" x2="186.30" y2="1179.00" stroke="#000" stroke-width="4.4" stroke-linecap="butt"/>
<line x1="201.30" y1="1155.12" x2="186.30" y2="1155.12" stroke="#000" stroke-width="4.4" stroke-linecap="butt"/>
<line x1="201.30" y1="1131.24" x2="186.30" y2="1131.24" stroke="#000" stroke-width="4.4" stroke-linecap="butt"/>
<line x1="201.30" y1="1107.36" x2="186.30" y2="1107.36" stroke="#000" stroke-width="4.4" stroke-linecap="butt"/>
<line x1="201.30" y1="1083.48" x2="186.30" y2="1083.48" stroke="#000" stroke-width="4.4" stroke-linecap="butt"/>
<line x1="201.30" y1="1179.00" x2="173.00" y2="1179.00" stroke="#000" stroke-width="4.4" stroke-linecap="butt"/>
<line x1="201.30" y1="1298.40" x2="173.00" y2="1298.40" stroke="#000" stroke-width="4.4" stroke-linecap="butt"/>
<line x1="201.30" y1="1417.80" x2="173.00" y2="1417.80" stroke="#000" stroke-width="4.4" stroke-linecap="butt"/>
<text transform="translate(90.62,1194.80) scale(0.9830,1)" font-size="50.7" fill="#000" font-family="Liberation Sans, sans-serif">0.0</text>
<text transform="translate(74.17,1314.20) scale(0.9830,1)" font-size="50.7" fill="#000" font-family="Liberation Sans, sans-serif">-0.5</text>
<text transform="translate(74.17,1433.60) scale(0.9830,1)" font-size="50.7" fill="#000" font-family="Liberation Sans, sans-serif">-1.0</text>
<line x1="1381.50" y1="1073.00" x2="1381.50" y2="1468.70" stroke="#000" stroke-width="3.9" stroke-linecap="butt"/>
<line x1="1193.00" y1="1177.20" x2="2105.60" y2="1177.20" stroke="#000" stroke-width="3.9" stroke-linecap="butt"/>
<path d="M1207.00,1177.20 L1208.43,1177.20 L1209.86,1177.20 L1211.28,1177.20 L1212.71,1177.20 L1214.14,1177.20 L1215.57,1177.20 L1217.00,1177.20 L1218.42,1177.20 L1219.85,1177.20 L1221.28,1177.20 L1222.71,1177.20 L1224.14,1177.20 L1225.56,1177.20 L1226.99,1177.20 L1228.42,1177.20 L1229.85,1177.20 L1231.28,1177.20 L1232.70,1177.20 L1234.13,1177.20 L1235.56,1177.20 L1236.99,1177.20 L1238.42,1177.20 L1239.84,1177.20 L1241.27,1177.20 L1242.70,1177.20 L1244.13,1177.20 L1245.56,1177.20 L1246.98,1177.20 L1248.41,1177.20 L1249.84,1177.20 L1251.27,1177.20 L1252.70,1177.20 L1254.12,1177.20 L1255.55,1177.20 L1256.98,1177.20 L1258.41,1177.20 L1259.84,1177.20 L1261.26,1177.20 L1262.69,1177.20 L1264.12,1177.20 L1265.55,1177.20 L1266.98,1177.20 L1268.40,1177.20 L1269.83,1177.20 L1271.26,1177.20 L1272.69,1177.20 L1274.12,1177.20 L1275.54,1177.20 L1276.97,1177.20 L1278.40,1177.20 L1279.83,1177.20 L1281.26,1177.20 L1282.68,1177.20 L1284.11,1177.20 L1285.54,1177.20 L1286.97,1177.20 L1288.40,1177.20 L1289.82,1177.20 L1291.25,1177.21 L1292.68,1177.21 L1294.11,1177.21 L1295.54,1177.21 L1296.96,1177.22 L1298.39,1177.22 L1299.82,1177.23 L1301.25,1177.23 L1302.68,1177.24 L1304.10,1177.25 L1305.53,1177.26 L1306.96,1177.28 L1308.39,1177.29 L1309.82,1177.31 L1311.24,1177.34 L1312.67,1177.37 L1314.10,1177.40 L1315.53,1177.45 L1316.96,1177.50 L1318.38,1177.56 L1319.81,1177.63 L1321.24,1177.71 L1322.67,1177.81 L1324.10,1177.93 L1325.52,1178.06 L1326.95,1178.21 L1328.38,1178.39 L1329.81,1178.60 L1331.24,1178.84 L1332.66,1179.11 L1334.09,1179.42 L1335.52,1179.77 L1336.95,1180.17 L1338.38,1180.62 L1339.80,1181.13 L1341.23,1181.70 L1342.66,1182.33 L1344.09,1183.05 L1345.52,1183.84 L1346.94,1184.71 L1348.37,1185.68 L1349.80,1186.75 L1351.23,1187.92 L1352.66,1189.20 L1354.08,1190.60 L1355.51,1192.12 L1356.94,1193.77 L1358.37,1195.55 L1359.80,1197.47 L1361.22,1199.54 L1362.65,1201.75 L1364.08,1204.10 L1365.51,1206.62 L1366.94,1209.28 L1368.36,1212.11 L1369.79,1215.08 L1371.22,1218.22 L1372.65,1221.50 L1374.08,1224.94 L1375.50,1228.53 L1376.93,1232.27 L1378.36,1236.14 L1379.79,1240.15 L1381.22,1244.28 L1382.64,1248.54 L1384.07,1252.90 L1385.50,1257.37 L1386.93,1261.94 L1388.36,1266.59 L1389.78,1271.31 L1391.21,1276.10 L1392.64,1280.94 L1394.07,1285.82 L1395.50,1290.73 L1396.92,1295.66 L1398.35,1300.60 L1399.78,1305.54 L1401.21,1310.46 L1402.64,1315.36 L1404.06,1320.23 L1405.49,1325.06 L1406.92,1329.84 L1408.35,1334.55 L1409.78,1339.20 L1411.20,1343.78 L1412.63,1348.27 L1414.06,1352.68 L1415.49,1356.99 L1416.92,1361.21 L1418.34,1365.33 L1419.77,1369.35 L1421.20,1373.26 L1422.63,1377.06 L1424.06,1380.75 L1425.48,1384.32 L1426.91,1387.79 L1428.34,1391.15 L1429.77,1394.39 L1431.20,1397.52 L1432.62,1400.54 L1434.05,1403.45 L1435.48,1406.26 L1436.91,1408.95 L1438.34,1411.55 L1439.76,1414.04 L1441.19,1416.44 L1442.62,1418.73 L1444.05,1420.93 L1445.48,1423.04 L1446.90,1425.07 L1448.33,1427.00 L1449.76,1428.85 L1451.19,1430.62 L1452.62,1432.31 L1454.04,1433.92 L1455.47,1435.46 L1456.90,1436.93 L1458.33,1438.33 L1459.76,1439.66 L1461.18,1440.93 L1462.61,1442.13 L1464.04,1443.28 L1465.47,1444.37 L1466.90,1445.41 L1468.32,1446.39 L1469.75,1447.32 L1471.18,1448.20 L1472.61,1449.04 L1474.04,1449.82 L1475.46,1450.57 L1476.89,1451.27 L1478.32,1451.93 L1479.75,1452.56 L1481.18,1453.14 L1482.60,1453.69 L1484.03,1454.21 L1485.46,1454.69 L1486.89,1455.14 L1488.32,1455.56 L1489.74,1455.95 L1491.17,1456.31 L1492.60,1456.64 L1494.03,1456.95 L1495.46,1457.23 L1496.88,1457.48 L1498.31,1457.72 L1499.74,1457.93 L1501.17,1458.12 L1502.60,1458.28 L1504.02,1458.43 L1505.45,1458.56 L1506.88,1458.67 L1508.31,1458.76 L1509.74,1458.84 L1511.16,1458.90 L1512.59,1458.94 L1514.02,1458.97 L1515.45,1458.98 L1516.88,1458.98 L1518.30,1458.97 L1519.73,1458.94 L1521.16,1458.90 L1522.59,1458.85 L1524.02,1458.79 L1525.44,1458.71 L1526.87,1458.63 L1528.30,1458.54 L1529.73,1458.43 L1531.16,1458.32 L1532.58,1458.19 L1534.01,1458.06 L1535.44,1457.92 L1536.87,1457.78 L1538.30,1457.62 L1539.72,1457.46 L1541.15,1457.29 L1542.58,1457.11 L1544.01,1456.93 L1545.44,1456.74 L1546.86,1456.55 L1548.29,1456.35 L1549.72,1456.14 L1551.15,1455.93 L1552.58,1455.71 L1554.00,1455.49 L1555.43,1455.26 L1556.86,1455.03 L1558.29,1454.80 L1559.72,1454.56 L1561.14,1454.32 L1562.57,1454.07 L1564.00,1453.82 L1565.43,1453.57 L1566.86,1453.31 L1568.28,1453.05 L1569.71,1452.79 L1571.14,1452.52 L1572.57,1452.25 L1574.00,1451.98 L1575.42,1451.71 L1576.85,1451.43 L1578.28,1451.15 L1579.71,1450.87 L1581.14,1450.59 L1582.56,1450.30 L1583.99,1450.02 L1585.42,1449.73 L1586.85,1449.44 L1588.28,1449.15 L1589.70,1448.85 L1591.13,1448.56 L1592.56,1448.26 L1593.99,1447.96 L1595.42,1447.66 L1596.84,1447.36 L1598.27,1447.06 L1599.70,1446.76 L1601.13,1446.46 L1602.56,1446.15 L1603.98,1445.85 L1605.41,1445.54 L1606.84,1445.23 L1608.27,1444.92 L1609.70,1444.61 L1611.12,1444.31 L1612.55,1444.00 L1613.98,1443.68 L1615.41,1443.37 L1616.84,1443.06 L1618.26,1442.75 L1619.69,1442.44 L1621.12,1442.12 L1622.55,1441.81 L1623.98,1441.49 L1625.40,1441.18 L1626.83,1440.86 L1628.26,1440.55 L1629.69,1440.23 L1631.12,1439.92 L1632.54,1439.60 L1633.97,1439.29 L1635.40,1438.97 L1636.83,1438.65 L1638.26,1438.34 L1639.68,1438.02 L1641.11,1437.70 L1642.54,1437.39 L1643.97,1437.07 L1645.40,1436.75 L1646.82,1436.44 L1648.25,1436.12 L1649.68,1435.80 L1651.11,1435.49 L1652.54,1435.17 L1653.96,1434.85 L1655.39,1434.54 L1656.82,1434.22 L1658.25,1433.90 L1659.68,1433.59 L1661.10,1433.27 L1662.53,1432.96 L1663.96,1432.64 L1665.39,1432.32 L1666.82,1432.01 L1668.24,1431.69 L1669.67,1431.38 L1671.10,1431.06 L1672.53,1430.75 L1673.96,1430.43 L1675.38,1430.12 L1676.81,1429.80 L1678.24,1429.49 L1679.67,1429.18 L1681.10,1428.86 L1682.52,1428.55 L1683.95,1428.24 L1685.38,1427.92 L1686.81,1427.61 L1688.24,1427.30 L1689.66,1426.99 L1691.09,1426.68 L1692.52,1426.36 L1693.95,1426.05 L1695.38,1425.74 L1696.80,1425.43 L1698.23,1425.12 L1699.66,1424.81 L1701.09,1424.50 L1702.52,1424.19 L1703.94,1423.88 L1705.37,1423.57 L1706.80,1423.26 L1708.23,1422.96 L1709.66,1422.65 L1711.08,1422.34 L1712.51,1422.03 L1713.94,1421.73 L1715.37,1421.42 L1716.80,1421.11 L1718.22,1420.81 L1719.65,1420.50 L1721.08,1420.20 L1722.51,1419.89 L1723.94,1419.59 L1725.36,1419.28 L1726.79,1418.98 L1728.22,1418.67 L1729.65,1418.37 L1731.08,1418.07 L1732.50,1417.76 L1733.93,1417.46 L1735.36,1417.16 L1736.79,1416.86 L1738.22,1416.56 L1739.64,1416.26 L1741.07,1415.96 L1742.50,1415.66 L1743.93,1415.36 L1745.36,1415.06 L1746.78,1414.76 L1748.21,1414.46 L1749.64,1414.16 L1751.07,1413.86 L1752.50,1413.56 L1753.92,1413.27 L1755.35,1412.97 L1756.78,1412.67 L1758.21,1412.38 L1759.64,1412.08 L1761.06,1411.78 L1762.49,1411.49 L1763.92,1411.19 L1765.35,1410.90 L1766.78,1410.60 L1768.20,1410.31 L1769.63,1410.02 L1771.06,1409.72 L1772.49,1409.43 L1773.92,1409.14 L1775.34,1408.85 L1776.77,1408.55 L1778.20,1408.26 L1779.63,1407.97 L1781.06,1407.68 L1782.48,1407.39 L1783.91,1407.10 L1785.34,1406.81 L1786.77,1406.52 L1788.20,1406.23 L1789.62,1405.94 L1791.05,1405.66 L1792.48,1405.37 L1793.91,1405.08 L1795.34,1404.79 L1796.76,1404.51 L1798.19,1404.22 L1799.62,1403.93 L1801.05,1403.65 L1802.48,1403.36 L1803.90,1403.08 L1805.33,1402.79 L1806.76,1402.51 L1808.19,1402.22 L1809.62,1401.94 L1811.04,1401.66 L1812.47,1401.38 L1813.90,1401.09 L1815.33,1400.81 L1816.76,1400.53 L1818.18,1400.25 L1819.61,1399.97 L1821.04,1399.68 L1822.47,1399.40 L1823.90,1399.12 L1825.32,1398.84 L1826.75,1398.57 L1828.18,1398.29 L1829.61,1398.01 L1831.04,1397.73 L1832.46,1397.45 L1833.89,1397.17 L1835.32,1396.90 L1836.75,1396.62 L1838.18,1396.34 L1839.60,1396.07 L1841.03,1395.79 L1842.46,1395.51 L1843.89,1395.24 L1845.32,1394.96 L1846.74,1394.69 L1848.17,1394.42 L1849.60,1394.14 L1851.03,1393.87 L1852.46,1393.60 L1853.88,1393.32 L1855.31,1393.05 L1856.74,1392.78 L1858.17,1392.51 L1859.60,1392.23 L1861.02,1391.96 L1862.45,1391.69 L1863.88,1391.42 L1865.31,1391.15 L1866.74,1390.88 L1868.16,1390.61 L1869.59,1390.34 L1871.02,1390.08 L1872.45,1389.81 L1873.88,1389.54 L1875.30,1389.27 L1876.73,1389.00 L1878.16,1388.74 L1879.59,1388.47 L1881.02,1388.20 L1882.44,1387.94 L1883.87,1387.67 L1885.30,1387.41 L1886.73,1387.14 L1888.16,1386.88 L1889.58,1386.61 L1891.01,1386.35 L1892.44,1386.08 L1893.87,1385.82 L1895.30,1385.56 L1896.72,1385.29 L1898.15,1385.03 L1899.58,1384.77 L1901.01,1384.51 L1902.44,1384.25 L1903.86,1383.99 L1905.29,1383.73 L1906.72,1383.47 L1908.15,1383.21 L1909.58,1382.95 L1911.00,1382.69 L1912.43,1382.43 L1913.86,1382.17 L1915.29,1381.91 L1916.72,1381.65 L1918.14,1381.39 L1919.57,1381.14 L1921.00,1380.88 L1922.43,1380.62 L1923.86,1380.37 L1925.28,1380.11 L1926.71,1379.85 L1928.14,1379.60 L1929.57,1379.34 L1931.00,1379.09 L1932.42,1378.83 L1933.85,1378.58 L1935.28,1378.33 L1936.71,1378.07 L1938.14,1377.82 L1939.56,1377.57 L1940.99,1377.31 L1942.42,1377.06 L1943.85,1376.81 L1945.28,1376.56 L1946.70,1376.31 L1948.13,1376.05 L1949.56,1375.80 L1950.99,1375.55 L1952.42,1375.30 L1953.84,1375.05 L1955.27,1374.80 L1956.70,1374.55 L1958.13,1374.31 L1959.56,1374.06 L1960.98,1373.81 L1962.41,1373.56 L1963.84,1373.31 L1965.27,1373.07 L1966.70,1372.82 L1968.12,1372.57 L1969.55,1372.33 L1970.98,1372.08 L1972.41,1371.83 L1973.84,1371.59 L1975.26,1371.34 L1976.69,1371.10 L1978.12,1370.85 L1979.55,1370.61 L1980.98,1370.37 L1982.40,1370.12 L1983.83,1369.88 L1985.26,1369.64 L1986.69,1369.39 L1988.12,1369.15 L1989.54,1368.91 L1990.97,1368.67 L1992.40,1368.43 L1993.83,1368.18 L1995.26,1367.94 L1996.68,1367.70 L1998.11,1367.46 L1999.54,1367.22 L2000.97,1366.98 L2002.40,1366.74 L2003.82,1366.51 L2005.25,1366.27 L2006.68,1366.03 L2008.11,1365.79 L2009.54,1365.55 L2010.96,1365.31 L2012.39,1365.08 L2013.82,1364.84 L2015.25,1364.60 L2016.68,1364.37 L2018.10,1364.13 L2019.53,1363.90 L2020.96,1363.66 L2022.39,1363.43 L2023.82,1363.19 L2025.24,1362.96 L2026.67,1362.72 L2028.10,1362.49 L2029.53,1362.25 L2030.96,1362.02 L2032.38,1361.79 L2033.81,1361.56 L2035.24,1361.32 L2036.67,1361.09 L2038.10,1360.86 L2039.52,1360.63 L2040.95,1360.40 L2042.38,1360.16 L2043.81,1359.93 L2045.24,1359.70 L2046.66,1359.47 L2048.09,1359.24 L2049.52,1359.01 L2050.95,1358.78 L2052.38,1358.56 L2053.80,1358.33 L2055.23,1358.10 L2056.66,1357.87 L2058.09,1357.64 L2059.52,1357.42 L2060.94,1357.19 L2062.37,1356.96 L2063.80,1356.73 L2065.23,1356.51 L2066.66,1356.28 L2068.08,1356.06 L2069.51,1355.83 L2070.94,1355.61 L2072.37,1355.38 L2073.80,1355.16 L2075.22,1354.93 L2076.65,1354.71 L2078.08,1354.48 L2079.51,1354.26 L2080.94,1354.04 L2082.36,1353.81 L2083.79,1353.59 L2085.22,1353.37 L2086.65,1353.15 L2088.08,1352.92 L2089.50,1352.70 L2090.93,1352.48 L2092.36,1352.26 L2093.79,1352.04 L2095.22,1351.82" fill="none" stroke="#ff8040" stroke-width="8.0" stroke-linecap="butt" stroke-linejoin="round" />
<rect x="1193.00" y="1073.00" width="912.60" height="395.70" fill="none" stroke="#000" stroke-width="4.0"/>
<line x1="1238.70" y1="1468.70" x2="1238.70" y2="1483.70" stroke="#000" stroke-width="4.4" stroke-linecap="butt"/>
<line x1="1310.10" y1="1468.70" x2="1310.10" y2="1483.70" stroke="#000" stroke-width="4.4" stroke-linecap="butt"/>
<line x1="1381.50" y1="1468.70" x2="1381.50" y2="1497.00" stroke="#000" stroke-width="4.4" stroke-linecap="butt"/>
<line x1="1452.90" y1="1468.70" x2="1452.90" y2="1483.70" stroke="#000" stroke-width="4.4" stroke-linecap="butt"/>
<line x1="1524.30" y1="1468.70" x2="1524.30" y2="1483.70" stroke="#000" stroke-width="4.4" stroke-linecap="butt"/>
<line x1="1595.70" y1="1468.70" x2="1595.70" y2="1483.70" stroke="#000" stroke-width="4.4" stroke-linecap="butt"/>
<line x1="1667.10" y1="1468.70" x2="1667.10" y2="1483.70" stroke="#000" stroke-width="4.4" stroke-linecap="butt"/>
<line x1="1738.50" y1="1468.70" x2="1738.50" y2="1497.00" stroke="#000" stroke-width="4.4" stroke-linecap="butt"/>
<line x1="1809.90" y1="1468.70" x2="1809.90" y2="1483.70" stroke="#000" stroke-width="4.4" stroke-linecap="butt"/>
<line x1="1881.30" y1="1468.70" x2="1881.30" y2="1483.70" stroke="#000" stroke-width="4.4" stroke-linecap="butt"/>
<line x1="1952.70" y1="1468.70" x2="1952.70" y2="1483.70" stroke="#000" stroke-width="4.4" stroke-linecap="butt"/>
<line x1="2024.10" y1="1468.70" x2="2024.10" y2="1483.70" stroke="#000" stroke-width="4.4" stroke-linecap="butt"/>
<line x1="2095.50" y1="1468.70" x2="2095.50" y2="1497.00" stroke="#000" stroke-width="4.4" stroke-linecap="butt"/>
<line x1="1193.00" y1="1459.20" x2="1178.00" y2="1459.20" stroke="#000" stroke-width="4.4" stroke-linecap="butt"/>
<line x1="1193.00" y1="1440.40" x2="1178.00" y2="1440.40" stroke="#000" stroke-width="4.4" stroke-linecap="butt"/>
<line x1="1193.00" y1="1421.60" x2="1178.00" y2="1421.60" stroke="#000" stroke-width="4.4" stroke-linecap="butt"/>
<line x1="1193.00" y1="1402.80" x2="1178.00" y2="1402.80" stroke="#000" stroke-width="4.4" stroke-linecap="butt"/>
<line x1="1193.00" y1="1384.00" x2="1178.00" y2="1384.00" stroke="#000" stroke-width="4.4" stroke-linecap="butt"/>
<line x1="1193.00" y1="1365.20" x2="1178.00" y2="1365.20" stroke="#000" stroke-width="4.4" stroke-linecap="butt"/>
<line x1="1193.00" y1="1346.40" x2="1178.00" y2="1346.40" stroke="#000" stroke-width="4.4" stroke-linecap="butt"/>
<line x1="1193.00" y1="1327.60" x2="1178.00" y2="1327.60" stroke="#000" stroke-width="4.4" stroke-linecap="butt"/>
<line x1="1193.00" y1="1308.80" x2="1178.00" y2="1308.80" stroke="#000" stroke-width="4.4" stroke-linecap="butt"/>
<line x1="1193.00" y1="1290.00" x2="1178.00" y2="1290.00" stroke="#000" stroke-width="4.4" stroke-linecap="butt"/>
<line x1="1193.00" y1="1271.20" x2="1178.00" y2="1271.20" stroke="#000" stroke-width="4.4" stroke-linecap="butt"/>
<line x1="1193.00" y1="1252.40" x2="1178.00" y2="1252.40" stroke="#000" stroke-width="4.4" stroke-linecap="butt"/>
<line x1="1193.00" y1="1233.60" x2="1178.00" y2="1233.60" stroke="#000" stroke-width="4.4" stroke-linecap="butt"/>
<line x1="1193.00" y1="1214.80" x2="1178.00" y2="1214.80" stroke="#000" stroke-width="4.4" stroke-linecap="butt"/>
<line x1="1193.00" y1="1196.00" x2="1178.00" y2="1196.00" stroke="#000" stroke-width="4.4" stroke-linecap="butt"/>
<line x1="1193.00" y1="1177.20" x2="1178.00" y2="1177.20" stroke="#000" stroke-width="4.4" stroke-linecap="butt"/>
<line x1="1193.00" y1="1158.40" x2="1178.00" y2="1158.40" stroke="#000" stroke-width="4.4" stroke-linecap="butt"/>
<line x1="1193.00" y1="1139.60" x2="1178.00" y2="1139.60" stroke="#000" stroke-width="4.4" stroke-linecap="butt"/>
<line x1="1193.00" y1="1120.80" x2="1178.00" y2="1120.80" stroke="#000" stroke-width="4.4" stroke-linecap="butt"/>
<line x1="1193.00" y1="1102.00" x2="1178.00" y2="1102.00" stroke="#000" stroke-width="4.4" stroke-linecap="butt"/>
<line x1="1193.00" y1="1083.20" x2="1178.00" y2="1083.20" stroke="#000" stroke-width="4.4" stroke-linecap="butt"/>
<line x1="1193.00" y1="1083.20" x2="1171.70" y2="1083.20" stroke="#000" stroke-width="4.4" stroke-linecap="butt"/>
<line x1="1193.00" y1="1271.20" x2="1171.70" y2="1271.20" stroke="#000" stroke-width="4.4" stroke-linecap="butt"/>
<line x1="1193.00" y1="1459.20" x2="1171.70" y2="1459.20" stroke="#000" stroke-width="4.4" stroke-linecap="butt"/>
<line x1="1193.00" y1="1177.20" x2="1164.70" y2="1177.20" stroke="#000" stroke-width="4.4" stroke-linecap="butt"/>
<line x1="1193.00" y1="1365.20" x2="1164.70" y2="1365.20" stroke="#000" stroke-width="4.4" stroke-linecap="butt"/>
<line x1="2105.60" y1="1459.20" x2="2120.60" y2="1459.20" stroke="#000" stroke-width="4.4" stroke-linecap="butt"/>
<line x1="2105.60" y1="1440.40" x2="2120.60" y2="1440.40" stroke="#000" stroke-width="4.4" stroke-linecap="butt"/>
<line x1="2105.60" y1="1421.60" x2="2120.60" y2="1421.60" stroke="#000" stroke-width="4.4" stroke-linecap="butt"/>
<line x1="2105.60" y1="1402.80" x2="2120.60" y2="1402.80" stroke="#000" stroke-width="4.4" stroke-linecap="butt"/>
<line x1="2105.60" y1="1384.00" x2="2120.60" y2="1384.00" stroke="#000" stroke-width="4.4" stroke-linecap="butt"/>
<line x1="2105.60" y1="1365.20" x2="2120.60" y2="1365.20" stroke="#000" stroke-width="4.4" stroke-linecap="butt"/>
<line x1="2105.60" y1="1346.40" x2="2120.60" y2="1346.40" stroke="#000" stroke-width="4.4" stroke-linecap="butt"/>
<line x1="2105.60" y1="1327.60" x2="2120.60" y2="1327.60" stroke="#000" stroke-width="4.4" stroke-linecap="butt"/>
<line x1="2105.60" y1="1308.80" x2="2120.60" y2="1308.80" stroke="#000" stroke-width="4.4" stroke-linecap="butt"/>
<line x1="2105.60" y1="1290.00" x2="2120.60" y2="1290.00" stroke="#000" stroke-width="4.4" stroke-linecap="butt"/>
<line x1="2105.60" y1="1271.20" x2="2120.60" y2="1271.20" stroke="#000" stroke-width="4.4" stroke-linecap="butt"/>
<line x1="2105.60" y1="1252.40" x2="2120.60" y2="1252.40" stroke="#000" stroke-width="4.4" stroke-linecap="butt"/>
<line x1="2105.60" y1="1233.60" x2="2120.60" y2="1233.60" stroke="#000" stroke-width="4.4" stroke-linecap="butt"/>
<line x1="2105.60" y1="1214.80" x2="2120.60" y2="1214.80" stroke="#000" stroke-width="4.4" stroke-linecap="butt"/>
<line x1="2105.60" y1="1196.00" x2="2120.60" y2="1196.00" stroke="#000" stroke-width="4.4" stroke-linecap="butt"/>
<line x1="2105.60" y1="1177.20" x2="2120.60" y2="1177.20" stroke="#000" stroke-width="4.4" stroke-linecap="butt"/>
<line x1="2105.60" y1="1158.40" x2="2120.60" y2="1158.40" stroke="#000" stroke-width="4.4" stroke-linecap="butt"/>
<line x1="2105.60" y1="1139.60" x2="2120.60" y2="1139.60" stroke="#000" stroke-width="4.4" stroke-linecap="butt"/>
<line x1="2105.60" y1="1120.80" x2="2120.60" y2="1120.80" stroke="#000" stroke-width="4.4" stroke-linecap="butt"/>
<line x1="2105.60" y1="1102.00" x2="2120.60" y2="1102.00" stroke="#000" stroke-width="4.4" stroke-linecap="butt"/>
<line x1="2105.60" y1="1083.20" x2="2120.60" y2="1083.20" stroke="#000" stroke-width="4.4" stroke-linecap="butt"/>
<line x1="2105.60" y1="1083.20" x2="2126.90" y2="1083.20" stroke="#000" stroke-width="4.4" stroke-linecap="butt"/>
<line x1="2105.60" y1="1271.20" x2="2126.90" y2="1271.20" stroke="#000" stroke-width="4.4" stroke-linecap="butt"/>
<line x1="2105.60" y1="1459.20" x2="2126.90" y2="1459.20" stroke="#000" stroke-width="4.4" stroke-linecap="butt"/>
<line x1="2105.60" y1="1177.20" x2="2133.90" y2="1177.20" stroke="#000" stroke-width="4.4" stroke-linecap="butt"/>
<line x1="2105.60" y1="1365.20" x2="2133.90" y2="1365.20" stroke="#000" stroke-width="4.4" stroke-linecap="butt"/>
<text transform="translate(2164.81,1193.00) scale(0.983,1)" font-size="50.7" fill="#000" font-family="Liberation Sans, sans-serif">0.0</text>
<text transform="translate(2148.21,1381.00) scale(0.983,1)" font-size="50.7" fill="#000" font-family="Liberation Sans, sans-serif">-0.2</text>
<line x1="389.10" y1="1523.20" x2="389.10" y2="1752.00" stroke="#000" stroke-width="3.9" stroke-linecap="butt"/>
<line x1="201.30" y1="1683.70" x2="1109.70" y2="1683.70" stroke="#000" stroke-width="3.9" stroke-linecap="butt"/>
<path d="M211.80,1683.70 L217.50,1683.70" fill="none" stroke="#999999" stroke-width="8.0" stroke-linecap="butt" stroke-linejoin="round" />
<path d="M224.50,1683.70 L225.92,1683.70 L227.34,1683.70 L228.76,1683.70 L230.18,1683.70 L231.60,1683.70 L233.02,1683.70 L234.44,1683.70 L235.86,1683.70 L237.28,1683.70 L238.70,1683.70 L240.12,1683.70 L241.54,1683.70 L242.97,1683.70 L244.39,1683.70 L245.81,1683.70 L247.23,1683.70 L248.65,1683.70 L250.07,1683.70 L251.49,1683.70 L252.91,1683.70 L254.33,1683.70 L255.75,1683.70 L257.17,1683.70 L258.59,1683.70 L260.01,1683.70 L261.43,1683.70 L262.85,1683.70 L264.27,1683.70 L265.69,1683.70 L267.11,1683.70 L268.53,1683.70 L269.95,1683.70 L271.37,1683.70 L272.79,1683.70 L274.21,1683.70 L275.63,1683.70 L277.05,1683.70 L278.48,1683.70 L279.90,1683.70 L281.32,1683.70 L282.74,1683.70 L284.16,1683.70 L285.58,1683.70 L287.00,1683.70 L288.42,1683.70 L289.84,1683.70 L291.26,1683.70 L292.68,1683.70 L294.10,1683.70 L295.52,1683.70 L296.94,1683.70 L298.36,1683.70 L299.78,1683.70 L301.20,1683.70 L302.62,1683.70 L304.04,1683.70 L305.46,1683.70 L306.88,1683.70 L308.30,1683.70 L309.72,1683.70 L311.14,1683.70 L312.56,1683.70 L313.99,1683.70 L315.41,1683.69 L316.83,1683.69 L318.25,1683.69 L319.67,1683.69 L321.09,1683.69 L322.51,1683.68 L323.93,1683.68 L325.35,1683.67 L326.77,1683.66 L328.19,1683.65 L329.61,1683.64 L331.03,1683.63 L332.45,1683.61 L333.87,1683.59 L335.29,1683.57 L336.71,1683.54 L338.13,1683.51 L339.55,1683.47 L340.97,1683.42 L342.39,1683.37 L343.81,1683.30 L345.23,1683.23 L346.65,1683.15 L348.07,1683.06 L349.50,1682.95 L350.92,1682.84 L352.34,1682.70 L353.76,1682.56 L355.18,1682.39 L356.60,1682.22 L358.02,1682.02 L359.44,1681.81 L360.86,1681.59 L362.28,1681.35 L363.70,1681.09 L365.12,1680.82 L366.54,1680.55 L367.96,1680.26 L369.38,1679.96 L370.80,1679.67 L372.22,1679.37 L373.64,1679.08 L375.06,1678.79 L376.48,1678.52 L377.90,1678.27 L379.32,1678.05 L380.74,1677.86 L382.16,1677.70 L383.58,1677.59 L385.01,1677.52 L386.43,1677.52 L387.85,1677.57 L389.27,1677.70 L390.69,1677.89 L392.11,1678.17 L393.53,1678.53 L394.95,1678.98 L396.37,1679.51 L397.79,1680.15 L399.21,1680.87 L400.63,1681.69 L402.05,1682.61 L403.47,1683.63 L404.89,1684.74 L406.31,1685.94 L407.73,1687.23 L409.15,1688.60 L410.57,1690.05 L411.99,1691.58 L413.41,1693.18 L414.83,1694.84 L416.25,1696.55 L417.67,1698.31 L419.09,1700.12 L420.52,1701.96 L421.94,1703.82 L423.36,1705.70 L424.78,1707.59 L426.20,1709.49 L427.62,1711.38 L429.04,1713.25 L430.46,1715.11 L431.88,1716.94 L433.30,1718.74 L434.72,1720.50 L436.14,1722.21 L437.56,1723.87 L438.98,1725.48 L440.40,1727.02 L441.82,1728.50 L443.24,1729.91 L444.66,1731.24 L446.08,1732.50 L447.50,1733.67 L448.92,1734.76 L450.34,1735.76 L451.76,1736.67 L453.18,1737.49 L454.60,1738.21 L456.03,1738.84 L457.45,1739.37 L458.87,1739.80 L460.29,1740.13 L461.71,1740.36 L463.13,1740.49 L464.55,1740.52 L465.97,1740.45 L467.39,1740.28 L468.81,1740.00 L470.23,1739.63 L471.65,1739.15 L473.07,1738.58 L474.49,1737.90 L475.91,1737.13 L477.33,1736.27 L478.75,1735.31 L480.17,1734.25 L481.59,1733.11 L483.01,1731.88 L484.43,1730.56 L485.85,1729.16 L487.27,1727.68 L488.69,1726.12 L490.11,1724.49 L491.54,1722.78 L492.96,1721.00 L494.38,1719.15 L495.80,1717.25 L497.22,1715.28 L498.64,1713.26 L500.06,1711.18 L501.48,1709.06 L502.90,1706.89 L504.32,1704.68 L505.74,1702.43 L507.16,1700.15 L508.58,1697.84 L510.00,1695.51 L511.42,1693.16 L512.84,1690.79 L514.26,1688.41 L515.68,1686.02 L517.10,1683.62 L518.52,1681.23 L519.94,1678.85 L521.36,1676.47 L522.78,1674.11 L524.20,1671.76 L525.62,1669.44 L527.05,1667.14 L528.47,1664.87 L529.89,1662.64 L531.31,1660.45 L532.73,1658.30 L534.15,1656.19 L535.57,1654.14 L536.99,1652.14 L538.41,1650.19 L539.83,1648.31 L541.25,1646.49 L542.67,1644.74 L544.09,1643.06 L545.51,1641.45 L546.93,1639.92 L548.35,1638.47 L549.77,1637.10 L551.19,1635.81 L552.61,1634.61 L554.03,1633.50 L555.45,1632.48 L556.87,1631.55 L558.29,1630.72 L559.71,1629.98 L561.13,1629.34 L562.56,1628.79 L563.98,1628.35 L565.40,1628.00 L566.82,1627.75 L568.24,1627.61 L569.66,1627.56 L571.08,1627.62 L572.50,1627.77 L573.92,1628.03 L575.34,1628.38 L576.76,1628.84 L578.18,1629.39 L579.60,1630.04 L581.02,1630.79 L582.44,1631.63 L583.86,1632.57 L585.28,1633.59 L586.70,1634.71 L588.12,1635.91 L589.54,1637.20 L590.96,1638.57 L592.38,1640.03 L593.80,1641.56 L595.22,1643.16 L596.64,1644.84 L598.07,1646.59 L599.49,1648.40 L600.91,1650.28 L602.33,1652.21 L603.75,1654.20 L605.17,1656.24 L606.59,1658.34 L608.01,1660.47 L609.43,1662.65 L610.85,1664.87 L612.27,1667.11 L613.69,1669.39 L615.11,1671.69 L616.53,1674.01 L617.95,1676.35 L619.37,1678.71 L620.79,1681.07 L622.21,1683.43 L623.63,1685.79 L625.05,1688.15 L626.47,1690.50 L627.89,1692.84 L629.31,1695.16 L630.73,1697.46 L632.15,1699.73 L633.58,1701.98 L635.00,1704.19 L636.42,1706.36 L637.84,1708.49 L639.26,1710.58 L640.68,1712.61 L642.10,1714.60 L643.52,1716.53 L644.94,1718.40 L646.36,1720.20 L647.78,1721.94 L649.20,1723.61 L650.62,1725.21 L652.04,1726.74 L653.46,1728.18 L654.88,1729.55 L656.30,1730.83 L657.72,1732.03 L659.14,1733.14 L660.56,1734.16 L661.98,1735.09 L663.40,1735.93 L664.82,1736.68 L666.24,1737.33 L667.66,1737.88 L669.09,1738.33 L670.51,1738.69 L671.93,1738.95 L673.35,1739.11 L674.77,1739.17 L676.19,1739.13 L677.61,1738.99 L679.03,1738.75 L680.45,1738.41 L681.87,1737.98 L683.29,1737.44 L684.71,1736.81 L686.13,1736.09 L687.55,1735.27 L688.97,1734.36 L690.39,1733.36 L691.81,1732.27 L693.23,1731.09 L694.65,1729.83 L696.07,1728.49 L697.49,1727.07 L698.91,1725.56 L700.33,1723.99 L701.75,1722.34 L703.17,1720.63 L704.60,1718.84 L706.02,1717.00 L707.44,1715.10 L708.86,1713.14 L710.28,1711.13 L711.70,1709.07 L713.12,1706.96 L714.54,1704.81 L715.96,1702.63 L717.38,1700.41 L718.80,1698.17 L720.22,1695.90 L721.64,1693.61 L723.06,1691.30 L724.48,1688.98 L725.90,1686.64 L727.32,1684.31 L728.74,1681.97 L730.16,1679.64 L731.58,1677.32 L733.00,1675.01 L734.42,1672.71 L735.84,1670.44 L737.26,1668.19 L738.68,1665.97 L740.11,1663.78 L741.53,1661.62 L742.95,1659.51 L744.37,1657.44 L745.79,1655.42 L747.21,1653.46 L748.63,1651.54 L750.05,1649.69 L751.47,1647.89 L752.89,1646.16 L754.31,1644.50 L755.73,1642.91 L757.15,1641.39 L758.57,1639.95 L759.99,1638.59 L761.41,1637.31 L762.83,1636.12 L764.25,1635.01 L765.67,1633.98 L767.09,1633.05 L768.51,1632.21 L769.93,1631.46 L771.35,1630.81 L772.77,1630.25 L774.19,1629.78 L775.62,1629.41 L777.04,1629.14 L778.46,1628.97 L779.88,1628.90 L781.30,1628.93 L782.72,1629.05 L784.14,1629.27 L785.56,1629.59 L786.98,1630.01 L788.40,1630.52 L789.82,1631.13 L791.24,1631.83 L792.66,1632.62 L794.08,1633.51 L795.50,1634.48 L796.92,1635.55 L798.34,1636.70 L799.76,1637.93 L801.18,1639.25 L802.60,1640.64 L804.02,1642.12 L805.44,1643.66 L806.86,1645.28 L808.28,1646.96 L809.70,1648.72 L811.13,1650.53 L812.55,1652.40 L813.97,1654.33 L815.39,1656.31 L816.81,1658.34 L818.23,1660.41 L819.65,1662.53 L821.07,1664.68 L822.49,1666.86 L823.91,1669.08 L825.33,1671.32 L826.75,1673.58 L828.17,1675.86 L829.59,1678.15 L831.01,1680.45 L832.43,1682.76 L833.85,1685.07 L835.27,1687.37 L836.69,1689.67 L838.11,1691.96 L839.53,1694.23 L840.95,1696.48 L842.37,1698.70 L843.79,1700.90 L845.21,1703.07 L846.64,1705.20 L848.06,1707.30 L849.48,1709.35 L850.90,1711.35 L852.32,1713.30 L853.74,1715.20 L855.16,1717.04 L856.58,1718.82 L858.00,1720.54 L859.42,1722.19 L860.84,1723.78 L862.26,1725.28 L863.68,1726.72 L865.10,1728.07 L866.52,1729.35 L867.94,1730.55 L869.36,1731.65 L870.78,1732.68 L872.20,1733.61 L873.62,1734.46 L875.04,1735.21 L876.46,1735.87 L877.88,1736.44 L879.30,1736.91 L880.72,1737.29 L882.15,1737.57 L883.57,1737.75 L884.99,1737.84 L886.41,1737.83 L887.83,1737.72 L889.25,1737.52 L890.67,1737.21 L892.09,1736.82 L893.51,1736.32 L894.93,1735.74 L896.35,1735.06 L897.77,1734.29 L899.19,1733.42 L900.61,1732.47 L902.03,1731.43 L903.45,1730.31 L904.87,1729.10 L906.29,1727.81 L907.71,1726.45 L909.13,1725.00 L910.55,1723.49 L911.97,1721.90 L913.39,1720.24 L914.81,1718.52 L916.23,1716.74 L917.66,1714.90 L919.08,1713.00 L920.50,1711.05 L921.92,1709.05 L923.34,1707.01 L924.76,1704.93 L926.18,1702.81 L927.60,1700.65 L929.02,1698.47 L930.44,1696.26 L931.86,1694.03 L933.28,1691.78 L934.70,1689.51 L936.12,1687.24 L937.54,1684.96 L938.96,1682.68 L940.38,1680.40 L941.80,1678.13 L943.22,1675.87 L944.64,1673.63 L946.06,1671.40 L947.48,1669.20 L948.90,1667.02 L950.32,1664.87 L951.74,1662.76 L953.17,1660.69 L954.59,1658.66 L956.01,1656.67 L957.43,1654.73 L958.85,1652.85 L960.27,1651.02 L961.69,1649.25 L963.11,1647.54 L964.53,1645.90 L965.95,1644.33 L967.37,1642.83 L968.79,1641.40 L970.21,1640.05 L971.63,1638.77 L973.05,1637.58 L974.47,1636.47 L975.89,1635.45 L977.31,1634.51 L978.73,1633.67 L980.15,1632.91 L981.57,1632.24 L982.99,1631.67 L984.41,1631.19 L985.83,1630.80 L987.25,1630.51 L988.68,1630.32 L990.10,1630.22 L991.52,1630.21 L992.94,1630.31 L994.36,1630.49 L995.78,1630.78 L997.20,1631.16 L998.62,1631.63 L1000.04,1632.19 L1001.46,1632.85 L1002.88,1633.60 L1004.30,1634.44 L1005.72,1635.37 L1007.14,1636.38 L1008.56,1637.48 L1009.98,1638.66 L1011.40,1639.92 L1012.82,1641.26 L1014.24,1642.68 L1015.66,1644.17 L1017.08,1645.72 L1018.50,1647.35 L1019.92,1649.04 L1021.34,1650.80 L1022.76,1652.61 L1024.19,1654.47 L1025.61,1656.39 L1027.03,1658.36 L1028.45,1660.37 L1029.87,1662.42 L1031.29,1664.51 L1032.71,1666.64 L1034.13,1668.79 L1035.55,1670.97 L1036.97,1673.17 L1038.39,1675.39 L1039.81,1677.63 L1041.23,1679.87 L1042.65,1682.12 L1044.07,1684.38 L1045.49,1686.63 L1046.91,1688.87 L1048.33,1691.11 L1049.75,1693.33 L1051.17,1695.53 L1052.59,1697.71 L1054.01,1699.87 L1055.43,1701.99 L1056.85,1704.09 L1058.27,1706.14 L1059.70,1708.15 L1061.12,1710.12 L1062.54,1712.04 L1063.96,1713.91 L1065.38,1715.73 L1066.80,1717.49 L1068.22,1719.18 L1069.64,1720.81 L1071.06,1722.38 L1072.48,1723.87 L1073.90,1725.29 L1075.32,1726.64 L1076.74,1727.91 L1078.16,1729.10 L1079.58,1730.20 L1081.00,1731.23 L1082.42,1732.17 L1083.84,1733.02 L1085.26,1733.78 L1086.68,1734.45 L1088.10,1735.03 L1089.52,1735.52 L1090.94,1735.91 L1092.36,1736.22 L1093.78,1736.42 L1095.21,1736.53 L1096.63,1736.55 L1098.05,1736.47" fill="none" stroke="#999999" stroke-width="8.0" stroke-linecap="butt" stroke-linejoin="round" />
<rect x="201.30" y="1523.20" width="908.40" height="228.80" fill="none" stroke="#000" stroke-width="4.0"/>
<line x1="247.06" y1="1752.00" x2="247.06" y2="1767.00" stroke="#000" stroke-width="4.4" stroke-linecap="butt"/>
<line x1="318.08" y1="1752.00" x2="318.08" y2="1767.00" stroke="#000" stroke-width="4.4" stroke-linecap="butt"/>
<line x1="389.10" y1="1752.00" x2="389.10" y2="1780.30" stroke="#000" stroke-width="4.4" stroke-linecap="butt"/>
<line x1="460.12" y1="1752.00" x2="460.12" y2="1767.00" stroke="#000" stroke-width="4.4" stroke-linecap="butt"/>
<line x1="531.14" y1="1752.00" x2="531.14" y2="1767.00" stroke="#000" stroke-width="4.4" stroke-linecap="butt"/>
<line x1="602.16" y1="1752.00" x2="602.16" y2="1767.00" stroke="#000" stroke-width="4.4" stroke-linecap="butt"/>
<line x1="673.18" y1="1752.00" x2="673.18" y2="1767.00" stroke="#000" stroke-width="4.4" stroke-linecap="butt"/>
<line x1="744.20" y1="1752.00" x2="744.20" y2="1780.30" stroke="#000" stroke-width="4.4" stroke-linecap="butt"/>
<line x1="815.22" y1="1752.00" x2="815.22" y2="1767.00" stroke="#000" stroke-width="4.4" stroke-linecap="butt"/>
<line x1="886.24" y1="1752.00" x2="886.24" y2="1767.00" stroke="#000" stroke-width="4.4" stroke-linecap="butt"/>
<line x1="957.26" y1="1752.00" x2="957.26" y2="1767.00" stroke="#000" stroke-width="4.4" stroke-linecap="butt"/>
<line x1="1028.28" y1="1752.00" x2="1028.28" y2="1767.00" stroke="#000" stroke-width="4.4" stroke-linecap="butt"/>
<line x1="1099.30" y1="1752.00" x2="1099.30" y2="1780.30" stroke="#000" stroke-width="4.4" stroke-linecap="butt"/>
<line x1="201.30" y1="1726.60" x2="186.30" y2="1726.60" stroke="#000" stroke-width="4.4" stroke-linecap="butt"/>
<line x1="201.30" y1="1705.15" x2="186.30" y2="1705.15" stroke="#000" stroke-width="4.4" stroke-linecap="butt"/>
<line x1="201.30" y1="1683.70" x2="186.30" y2="1683.70" stroke="#000" stroke-width="4.4" stroke-linecap="butt"/>
<line x1="201.30" y1="1662.25" x2="186.30" y2="1662.25" stroke="#000" stroke-width="4.4" stroke-linecap="butt"/>
<line x1="201.30" y1="1640.80" x2="186.30" y2="1640.80" stroke="#000" stroke-width="4.4" stroke-linecap="butt"/>
<line x1="201.30" y1="1619.35" x2="186.30" y2="1619.35" stroke="#000" stroke-width="4.4" stroke-linecap="butt"/>
<line x1="201.30" y1="1597.90" x2="186.30" y2="1597.90" stroke="#000" stroke-width="4.4" stroke-linecap="butt"/>
<line x1="201.30" y1="1576.45" x2="186.30" y2="1576.45" stroke="#000" stroke-width="4.4" stroke-linecap="butt"/>
<line x1="201.30" y1="1555.00" x2="186.30" y2="1555.00" stroke="#000" stroke-width="4.4" stroke-linecap="butt"/>
<line x1="201.30" y1="1533.55" x2="186.30" y2="1533.55" stroke="#000" stroke-width="4.4" stroke-linecap="butt"/>
<line x1="201.30" y1="1576.45" x2="173.00" y2="1576.45" stroke="#000" stroke-width="4.4" stroke-linecap="butt"/>
<line x1="201.30" y1="1683.70" x2="173.00" y2="1683.70" stroke="#000" stroke-width="4.4" stroke-linecap="butt"/>
<text transform="translate(90.62,1592.25) scale(0.9830,1)" font-size="50.7" fill="#000" font-family="Liberation Sans, sans-serif">0.5</text>
<text transform="translate(90.62,1699.50) scale(0.9830,1)" font-size="50.7" fill="#000" font-family="Liberation Sans, sans-serif">0.0</text>
<line x1="1382.50" y1="1523.20" x2="1382.50" y2="1752.00" stroke="#000" stroke-width="3.9" stroke-linecap="butt"/>
<line x1="1193.20" y1="1678.10" x2="2109.80" y2="1678.10" stroke="#000" stroke-width="3.9" stroke-linecap="butt"/>
<path d="M1203.20,1678.10 L1208.90,1678.10" fill="none" stroke="#999999" stroke-width="8.0" stroke-linecap="butt" stroke-linejoin="round" />
<path d="M1216.50,1678.10 L1217.93,1678.10 L1219.37,1678.10 L1220.80,1678.10 L1222.23,1678.10 L1223.66,1678.10 L1225.10,1678.10 L1226.53,1678.10 L1227.96,1678.10 L1229.40,1678.10 L1230.83,1678.10 L1232.26,1678.10 L1233.70,1678.10 L1235.13,1678.10 L1236.56,1678.10 L1237.99,1678.10 L1239.43,1678.10 L1240.86,1678.10 L1242.29,1678.10 L1243.73,1678.10 L1245.16,1678.10 L1246.59,1678.10 L1248.03,1678.10 L1249.46,1678.10 L1250.89,1678.10 L1252.33,1678.10 L1253.76,1678.10 L1255.19,1678.10 L1256.62,1678.10 L1258.06,1678.10 L1259.49,1678.10 L1260.92,1678.10 L1262.36,1678.10 L1263.79,1678.10 L1265.22,1678.10 L1266.65,1678.10 L1268.09,1678.10 L1269.52,1678.10 L1270.95,1678.10 L1272.39,1678.10 L1273.82,1678.10 L1275.25,1678.10 L1276.69,1678.10 L1278.12,1678.10 L1279.55,1678.10 L1280.98,1678.10 L1282.42,1678.10 L1283.85,1678.10 L1285.28,1678.10 L1286.72,1678.10 L1288.15,1678.10 L1289.58,1678.10 L1291.02,1678.10 L1292.45,1678.10 L1293.88,1678.10 L1295.32,1678.10 L1296.75,1678.10 L1298.18,1678.10 L1299.61,1678.10 L1301.05,1678.09 L1302.48,1678.09 L1303.91,1678.09 L1305.35,1678.09 L1306.78,1678.09 L1308.21,1678.08 L1309.64,1678.08 L1311.08,1678.07 L1312.51,1678.07 L1313.94,1678.06 L1315.38,1678.05 L1316.81,1678.05 L1318.24,1678.03 L1319.68,1678.02 L1321.11,1678.01 L1322.54,1677.99 L1323.97,1677.97 L1325.41,1677.94 L1326.84,1677.92 L1328.27,1677.88 L1329.71,1677.85 L1331.14,1677.81 L1332.57,1677.76 L1334.01,1677.70 L1335.44,1677.64 L1336.87,1677.58 L1338.31,1677.50 L1339.74,1677.41 L1341.17,1677.32 L1342.60,1677.21 L1344.04,1677.10 L1345.47,1676.97 L1346.90,1676.84 L1348.34,1676.69 L1349.77,1676.52 L1351.20,1676.35 L1352.63,1676.17 L1354.07,1675.97 L1355.50,1675.76 L1356.93,1675.54 L1358.37,1675.31 L1359.80,1675.06 L1361.23,1674.82 L1362.67,1674.56 L1364.10,1674.30 L1365.53,1674.04 L1366.96,1673.78 L1368.40,1673.52 L1369.83,1673.26 L1371.26,1673.01 L1372.70,1672.78 L1374.13,1672.56 L1375.56,1672.36 L1377.00,1672.19 L1378.43,1672.05 L1379.86,1671.93 L1381.30,1671.86 L1382.73,1671.83 L1384.16,1671.85 L1385.59,1671.92 L1387.03,1672.04 L1388.46,1672.23 L1389.89,1672.48 L1391.33,1672.80 L1392.76,1673.19 L1394.19,1673.66 L1395.62,1674.21 L1397.06,1674.83 L1398.49,1675.55 L1399.92,1676.34 L1401.36,1677.22 L1402.79,1678.19 L1404.22,1679.24 L1405.66,1680.38 L1407.09,1681.60 L1408.52,1682.90 L1409.95,1684.28 L1411.39,1685.73 L1412.82,1687.26 L1414.25,1688.85 L1415.69,1690.51 L1417.12,1692.23 L1418.55,1693.99 L1419.99,1695.81 L1421.42,1697.66 L1422.85,1699.55 L1424.29,1701.47 L1425.72,1703.40 L1427.15,1705.35 L1428.58,1707.31 L1430.02,1709.27 L1431.45,1711.23 L1432.88,1713.17 L1434.32,1715.09 L1435.75,1716.98 L1437.18,1718.84 L1438.62,1720.66 L1440.05,1722.44 L1441.48,1724.17 L1442.91,1725.84 L1444.35,1727.44 L1445.78,1728.98 L1447.21,1730.45 L1448.65,1731.84 L1450.08,1733.16 L1451.51,1734.38 L1452.94,1735.52 L1454.38,1736.57 L1455.81,1737.53 L1457.24,1738.38 L1458.68,1739.14 L1460.11,1739.80 L1461.54,1740.35 L1462.98,1740.80 L1464.41,1741.14 L1465.84,1741.37 L1467.28,1741.50 L1468.71,1741.51 L1470.14,1741.42 L1471.57,1741.22 L1473.01,1740.90 L1474.44,1740.48 L1475.87,1739.95 L1477.31,1739.32 L1478.74,1738.57 L1480.17,1737.73 L1481.61,1736.77 L1483.04,1735.72 L1484.47,1734.56 L1485.90,1733.31 L1487.34,1731.96 L1488.77,1730.52 L1490.20,1728.98 L1491.64,1727.36 L1493.07,1725.65 L1494.50,1723.86 L1495.93,1721.99 L1497.37,1720.04 L1498.80,1718.02 L1500.23,1715.93 L1501.67,1713.78 L1503.10,1711.56 L1504.53,1709.29 L1505.97,1706.96 L1507.40,1704.58 L1508.83,1702.16 L1510.27,1699.69 L1511.70,1697.19 L1513.13,1694.66 L1514.56,1692.10 L1516.00,1689.51 L1517.43,1686.91 L1518.86,1684.29 L1520.30,1681.66 L1521.73,1679.03 L1523.16,1676.39 L1524.60,1673.76 L1526.03,1671.14 L1527.46,1668.53 L1528.89,1665.94 L1530.33,1663.38 L1531.76,1660.84 L1533.19,1658.33 L1534.63,1655.85 L1536.06,1653.42 L1537.49,1651.03 L1538.92,1648.69 L1540.36,1646.40 L1541.79,1644.17 L1543.22,1641.99 L1544.66,1639.89 L1546.09,1637.85 L1547.52,1635.88 L1548.96,1633.98 L1550.39,1632.17 L1551.82,1630.44 L1553.26,1628.79 L1554.69,1627.22 L1556.12,1625.75 L1557.55,1624.37 L1558.99,1623.08 L1560.42,1621.90 L1561.85,1620.81 L1563.29,1619.82 L1564.72,1618.93 L1566.15,1618.15 L1567.59,1617.47 L1569.02,1616.91 L1570.45,1616.44 L1571.88,1616.09 L1573.32,1615.85 L1574.75,1615.71 L1576.18,1615.68 L1577.62,1615.77 L1579.05,1615.96 L1580.48,1616.26 L1581.91,1616.67 L1583.35,1617.19 L1584.78,1617.81 L1586.21,1618.54 L1587.65,1619.38 L1589.08,1620.32 L1590.51,1621.35 L1591.95,1622.49 L1593.38,1623.72 L1594.81,1625.05 L1596.24,1626.47 L1597.68,1627.99 L1599.11,1629.58 L1600.54,1631.27 L1601.98,1633.03 L1603.41,1634.87 L1604.84,1636.79 L1606.28,1638.78 L1607.71,1640.84 L1609.14,1642.96 L1610.58,1645.15 L1612.01,1647.39 L1613.44,1649.68 L1614.87,1652.02 L1616.31,1654.41 L1617.74,1656.84 L1619.17,1659.30 L1620.61,1661.79 L1622.04,1664.32 L1623.47,1666.86 L1624.90,1669.43 L1626.34,1672.01 L1627.77,1674.60 L1629.20,1677.19 L1630.64,1679.79 L1632.07,1682.38 L1633.50,1684.96 L1634.94,1687.53 L1636.37,1690.08 L1637.80,1692.61 L1639.24,1695.11 L1640.67,1697.59 L1642.10,1700.02 L1643.53,1702.42 L1644.97,1704.77 L1646.40,1707.08 L1647.83,1709.33 L1649.27,1711.53 L1650.70,1713.67 L1652.13,1715.75 L1653.57,1717.76 L1655.00,1719.70 L1656.43,1721.56 L1657.86,1723.35 L1659.30,1725.06 L1660.73,1726.68 L1662.16,1728.22 L1663.60,1729.67 L1665.03,1731.03 L1666.46,1732.30 L1667.89,1733.47 L1669.33,1734.54 L1670.76,1735.51 L1672.19,1736.38 L1673.63,1737.15 L1675.06,1737.82 L1676.49,1738.38 L1677.93,1738.83 L1679.36,1739.18 L1680.79,1739.42 L1682.22,1739.56 L1683.66,1739.58 L1685.09,1739.50 L1686.52,1739.31 L1687.96,1739.01 L1689.39,1738.61 L1690.82,1738.10 L1692.26,1737.48 L1693.69,1736.76 L1695.12,1735.94 L1696.56,1735.02 L1697.99,1733.99 L1699.42,1732.87 L1700.85,1731.66 L1702.29,1730.35 L1703.72,1728.95 L1705.15,1727.46 L1706.59,1725.89 L1708.02,1724.23 L1709.45,1722.49 L1710.88,1720.67 L1712.32,1718.78 L1713.75,1716.82 L1715.18,1714.80 L1716.62,1712.71 L1718.05,1710.55 L1719.48,1708.35 L1720.92,1706.09 L1722.35,1703.78 L1723.78,1701.43 L1725.21,1699.04 L1726.65,1696.61 L1728.08,1694.15 L1729.51,1691.67 L1730.95,1689.16 L1732.38,1686.63 L1733.81,1684.09 L1735.25,1681.54 L1736.68,1678.99 L1738.11,1676.43 L1739.55,1673.88 L1740.98,1671.34 L1742.41,1668.80 L1743.84,1666.29 L1745.28,1663.80 L1746.71,1661.33 L1748.14,1658.90 L1749.58,1656.50 L1751.01,1654.14 L1752.44,1651.82 L1753.88,1649.55 L1755.31,1647.33 L1756.74,1645.16 L1758.17,1643.05 L1759.61,1641.01 L1761.04,1639.03 L1762.47,1637.12 L1763.91,1635.29 L1765.34,1633.52 L1766.77,1631.84 L1768.20,1630.24 L1769.64,1628.73 L1771.07,1627.30 L1772.50,1625.96 L1773.94,1624.71 L1775.37,1623.56 L1776.80,1622.50 L1778.24,1621.55 L1779.67,1620.69 L1781.10,1619.93 L1782.53,1619.27 L1783.97,1618.72 L1785.40,1618.27 L1786.83,1617.93 L1788.27,1617.69 L1789.70,1617.56 L1791.13,1617.54 L1792.57,1617.62 L1794.00,1617.81 L1795.43,1618.10 L1796.87,1618.50 L1798.30,1619.00 L1799.73,1619.61 L1801.16,1620.32 L1802.60,1621.13 L1804.03,1622.04 L1805.46,1623.04 L1806.90,1624.15 L1808.33,1625.35 L1809.76,1626.64 L1811.19,1628.02 L1812.63,1629.48 L1814.06,1631.03 L1815.49,1632.67 L1816.93,1634.38 L1818.36,1636.17 L1819.79,1638.03 L1821.23,1639.96 L1822.66,1641.96 L1824.09,1644.02 L1825.53,1646.14 L1826.96,1648.31 L1828.39,1650.54 L1829.82,1652.81 L1831.26,1655.13 L1832.69,1657.48 L1834.12,1659.87 L1835.56,1662.29 L1836.99,1664.74 L1838.42,1667.21 L1839.86,1669.70 L1841.29,1672.20 L1842.72,1674.72 L1844.15,1677.23 L1845.59,1679.75 L1847.02,1682.26 L1848.45,1684.77 L1849.89,1687.26 L1851.32,1689.74 L1852.75,1692.19 L1854.18,1694.62 L1855.62,1697.02 L1857.05,1699.38 L1858.48,1701.71 L1859.92,1703.99 L1861.35,1706.23 L1862.78,1708.42 L1864.22,1710.55 L1865.65,1712.63 L1867.08,1714.64 L1868.51,1716.59 L1869.95,1718.47 L1871.38,1720.28 L1872.81,1722.01 L1874.25,1723.67 L1875.68,1725.25 L1877.11,1726.74 L1878.55,1728.15 L1879.98,1729.46 L1881.41,1730.69 L1882.85,1731.83 L1884.28,1732.87 L1885.71,1733.81 L1887.14,1734.66 L1888.58,1735.40 L1890.01,1736.05 L1891.44,1736.59 L1892.88,1737.03 L1894.31,1737.37 L1895.74,1737.60 L1897.17,1737.73 L1898.61,1737.75 L1900.04,1737.67 L1901.47,1737.49 L1902.91,1737.20 L1904.34,1736.81 L1905.77,1736.31 L1907.21,1735.71 L1908.64,1735.01 L1910.07,1734.22 L1911.51,1733.32 L1912.94,1732.33 L1914.37,1731.24 L1915.80,1730.06 L1917.24,1728.79 L1918.67,1727.43 L1920.10,1725.99 L1921.54,1724.46 L1922.97,1722.85 L1924.40,1721.16 L1925.84,1719.40 L1927.27,1717.56 L1928.70,1715.66 L1930.13,1713.69 L1931.57,1711.67 L1933.00,1709.58 L1934.43,1707.44 L1935.87,1705.24 L1937.30,1703.01 L1938.73,1700.72 L1940.16,1698.40 L1941.60,1696.05 L1943.03,1693.66 L1944.46,1691.25 L1945.90,1688.82 L1947.33,1686.37 L1948.76,1683.90 L1950.20,1681.43 L1951.63,1678.95 L1953.06,1676.47 L1954.49,1673.99 L1955.93,1671.52 L1957.36,1669.07 L1958.79,1666.63 L1960.23,1664.21 L1961.66,1661.82 L1963.09,1659.46 L1964.53,1657.13 L1965.96,1654.84 L1967.39,1652.59 L1968.83,1650.38 L1970.26,1648.23 L1971.69,1646.13 L1973.12,1644.08 L1974.56,1642.10 L1975.99,1640.18 L1977.42,1638.33 L1978.86,1636.55 L1980.29,1634.84 L1981.72,1633.21 L1983.15,1631.66 L1984.59,1630.19 L1986.02,1628.80 L1987.45,1627.50 L1988.89,1626.29 L1990.32,1625.17 L1991.75,1624.15 L1993.19,1623.22 L1994.62,1622.39 L1996.05,1621.65 L1997.49,1621.02 L1998.92,1620.48 L2000.35,1620.05 L2001.78,1619.72 L2003.22,1619.49 L2004.65,1619.36 L2006.08,1619.34 L2007.52,1619.42 L2008.95,1619.60 L2010.38,1619.89 L2011.82,1620.27 L2013.25,1620.76 L2014.68,1621.35 L2016.11,1622.04 L2017.55,1622.83 L2018.98,1623.71 L2020.41,1624.69 L2021.85,1625.76 L2023.28,1626.92 L2024.71,1628.17 L2026.14,1629.51 L2027.58,1630.94 L2029.01,1632.44 L2030.44,1634.03 L2031.88,1635.69 L2033.31,1637.43 L2034.74,1639.23 L2036.18,1641.11 L2037.61,1643.04 L2039.04,1645.04 L2040.47,1647.10 L2041.91,1649.21 L2043.34,1651.37 L2044.77,1653.57 L2046.21,1655.82 L2047.64,1658.11 L2049.07,1660.43 L2050.51,1662.78 L2051.94,1665.15 L2053.37,1667.55 L2054.80,1669.96 L2056.24,1672.39 L2057.67,1674.83 L2059.10,1677.27 L2060.54,1679.72 L2061.97,1682.15 L2063.40,1684.59 L2064.84,1687.00 L2066.27,1689.41 L2067.70,1691.79 L2069.14,1694.14 L2070.57,1696.47 L2072.00,1698.76 L2073.43,1701.02 L2074.87,1703.24 L2076.30,1705.41 L2077.73,1707.53 L2079.17,1709.60 L2080.60,1711.61 L2082.03,1713.57 L2083.47,1715.46 L2084.90,1717.28 L2086.33,1719.04 L2087.76,1720.72 L2089.20,1722.32 L2090.63,1723.85 L2092.06,1725.30 L2093.50,1726.67 L2094.93,1727.94 L2096.36,1729.14 L2097.80,1730.24" fill="none" stroke="#999999" stroke-width="8.0" stroke-linecap="butt" stroke-linejoin="round" />
<rect x="1193.20" y="1523.20" width="916.60" height="228.80" fill="none" stroke="#000" stroke-width="4.0"/>
<line x1="1239.20" y1="1752.00" x2="1239.20" y2="1767.00" stroke="#000" stroke-width="4.4" stroke-linecap="butt"/>
<line x1="1310.85" y1="1752.00" x2="1310.85" y2="1767.00" stroke="#000" stroke-width="4.4" stroke-linecap="butt"/>
<line x1="1382.50" y1="1752.00" x2="1382.50" y2="1780.30" stroke="#000" stroke-width="4.4" stroke-linecap="butt"/>
<line x1="1454.15" y1="1752.00" x2="1454.15" y2="1767.00" stroke="#000" stroke-width="4.4" stroke-linecap="butt"/>
<line x1="1525.80" y1="1752.00" x2="1525.80" y2="1767.00" stroke="#000" stroke-width="4.4" stroke-linecap="butt"/>
<line x1="1597.45" y1="1752.00" x2="1597.45" y2="1767.00" stroke="#000" stroke-width="4.4" stroke-linecap="butt"/>
<line x1="1669.10" y1="1752.00" x2="1669.10" y2="1767.00" stroke="#000" stroke-width="4.4" stroke-linecap="butt"/>
<line x1="1740.75" y1="1752.00" x2="1740.75" y2="1780.30" stroke="#000" stroke-width="4.4" stroke-linecap="butt"/>
<line x1="1812.40" y1="1752.00" x2="1812.40" y2="1767.00" stroke="#000" stroke-width="4.4" stroke-linecap="butt"/>
<line x1="1884.05" y1="1752.00" x2="1884.05" y2="1767.00" stroke="#000" stroke-width="4.4" stroke-linecap="butt"/>
<line x1="1955.70" y1="1752.00" x2="1955.70" y2="1767.00" stroke="#000" stroke-width="4.4" stroke-linecap="butt"/>
<line x1="2027.35" y1="1752.00" x2="2027.35" y2="1767.00" stroke="#000" stroke-width="4.4" stroke-linecap="butt"/>
<line x1="2099.00" y1="1752.00" x2="2099.00" y2="1780.30" stroke="#000" stroke-width="4.4" stroke-linecap="butt"/>
<line x1="2109.80" y1="1592.60" x2="2138.10" y2="1592.60" stroke="#000" stroke-width="4.4" stroke-linecap="butt"/>
<line x1="2109.80" y1="1678.10" x2="2138.10" y2="1678.10" stroke="#000" stroke-width="4.4" stroke-linecap="butt"/>
<text transform="translate(2169.01,1608.40) scale(0.983,1)" font-size="50.7" fill="#000" font-family="Liberation Sans, sans-serif">0.1</text>
<text transform="translate(2169.01,1693.90) scale(0.983,1)" font-size="50.7" fill="#000" font-family="Liberation Sans, sans-serif">0</text>
<text transform="translate(389.40,1846.20) scale(1.0000,1)" text-anchor="middle" font-size="58.4" fill="#000" font-family="Liberation Sans, sans-serif">0</text>
<text transform="translate(744.50,1846.20) scale(1.0000,1)" text-anchor="middle" font-size="58.4" fill="#000" font-family="Liberation Sans, sans-serif">500</text>
<text transform="translate(1099.60,1846.20) scale(1.0000,1)" text-anchor="middle" font-size="58.4" fill="#000" font-family="Liberation Sans, sans-serif">1000</text>
<text transform="translate(1382.10,1846.20) scale(1.0000,1)" text-anchor="middle" font-size="58.4" fill="#000" font-family="Liberation Sans, sans-serif">0</text>
<text transform="translate(1740.35,1846.20) scale(1.0000,1)" text-anchor="middle" font-size="58.4" fill="#000" font-family="Liberation Sans, sans-serif">500</text>
<text transform="translate(2098.60,1846.20) scale(1.0000,1)" text-anchor="middle" font-size="58.4" fill="#000" font-family="Liberation Sans, sans-serif">1000</text>
<text transform="translate(463.43,1919.00) scale(0.9858,1)" font-size="59.6" fill="#000" font-family="Liberation Sans, sans-serif">Time delay (fs)</text>
<text transform="translate(1459.43,1919.00) scale(0.9839,1)" font-size="59.6" fill="#000" font-family="Liberation Sans, sans-serif">Time delay (fs)</text>
<text transform="translate(48.90,1359.46) rotate(-90) scale(0.9570,1)" font-size="68.0" fill="#000" font-family="Liberation Sans, sans-serif">Intensity variation (%)</text>
<text transform="translate(2295.00,685.97) rotate(90) scale(0.9369,1)" font-size="68.5" fill="#000" font-family="Liberation Sans, sans-serif">Energy shift (meV)</text>
<text transform="translate(215.66,80.00) scale(1.0021,1)" font-size="65.5" fill="#000" font-family="Liberation Sans, sans-serif">(a)</text>
<text transform="translate(1212.08,67.50) scale(0.9979,1)" font-size="65.5" fill="#000" font-family="Liberation Sans, sans-serif">(b)</text>
<circle cx="635.1" cy="30.2" r="11.7" fill="none" stroke="#cc0000" stroke-width="4.2"/>
<line x1="600.70" y1="72.50" x2="669.70" y2="72.50" stroke="#000" stroke-width="8.8" stroke-linecap="butt"/>
<text transform="translate(685.13,41.00) scale(0.9809,1)" font-size="38.2" fill="#000" font-family="Liberation Sans, sans-serif">Intensity variation</text>
<text transform="translate(684.46,83.00) scale(0.9855,1)" font-size="38.2" fill="#000" font-family="Liberation Sans, sans-serif">Total fit curve</text>
<circle cx="1724.1" cy="27.0" r="11.7" fill="none" stroke="#001f99" stroke-width="4.2"/>
<line x1="1689.80" y1="69.00" x2="1758.90" y2="69.00" stroke="#000" stroke-width="8.8" stroke-linecap="butt"/>
<text transform="translate(1773.29,37.50) scale(0.9846,1)" font-size="38.2" fill="#000" font-family="Liberation Sans, sans-serif">Energy Shift</text>
<text transform="translate(1773.16,79.50) scale(0.9850,1)" font-size="38.2" fill="#000" font-family="Liberation Sans, sans-serif">Total fit curve</text>
<rect x="545.8" y="871.4" width="33.6" height="21.8" fill="#bfe6d5" stroke="#00cc66" stroke-width="1.1"/>
<text transform="translate(610.28,891.70) scale(1.0189,1)" font-size="37.0" fill="#000" font-family="Liberation Sans, sans-serif">Pump-probe crosscorrelation</text>
<rect x="1532.9" y="834.3" width="33.6" height="21.8" fill="#bfe6d5" stroke="#00cc66" stroke-width="1.1"/>
<text transform="translate(1597.08,854.50) scale(1.0189,1)" font-size="37.0" fill="#000" font-family="Liberation Sans, sans-serif">Pump-probe crosscorrelation</text>
<rect x="546.95" y="649.15" width="523.10" height="58.60" fill="none" stroke="#00994d" stroke-width="3.9"/>
<text transform="translate(557.18,698.00) scale(0.8915,1)" font-size="52.0" fill="#00994d" font-family="Liberation Sans, sans-serif">COHERENT EXCITONS</text>
<rect x="1539.45" y="649.05" width="522.60" height="58.80" fill="none" stroke="#00994d" stroke-width="3.9"/>
<text transform="translate(1549.89,698.00) scale(0.8895,1)" font-size="52.0" fill="#00994d" font-family="Liberation Sans, sans-serif">COHERENT EXCITONS</text>
<rect x="523.45" y="1095.15" width="570.40" height="61.60" fill="none" stroke="#ff8040" stroke-width="3.9"/>
<text transform="translate(529.44,1146.80) scale(0.8897,1)" font-size="52.0" fill="#ff8040" font-family="Liberation Sans, sans-serif">INCOHERENT EXCITONS</text>
<rect x="1515.15" y="1099.05" width="570.90" height="61.20" fill="none" stroke="#ff8040" stroke-width="3.9"/>
<text transform="translate(1524.83,1150.40) scale(0.8912,1)" font-size="52.0" fill="#ff8040" font-family="Liberation Sans, sans-serif">INCOHERENT EXCITONS</text>
<rect x="526.85" y="1534.15" width="563.10" height="68.70" fill="none" stroke="#999999" stroke-width="3.9"/>
<text transform="translate(536.41,1588.60) scale(0.8806,1)" font-size="52.0" fill="#999999" font-family="Liberation Sans, sans-serif">COHERENT VIBRATIONS</text>
<rect x="1519.25" y="1534.35" width="563.20" height="68.50" fill="none" stroke="#999999" stroke-width="3.9"/>
<text transform="translate(1528.71,1588.60) scale(0.8811,1)" font-size="52.0" fill="#999999" font-family="Liberation Sans, sans-serif">COHERENT VIBRATIONS</text>
</svg>
</body></html>
